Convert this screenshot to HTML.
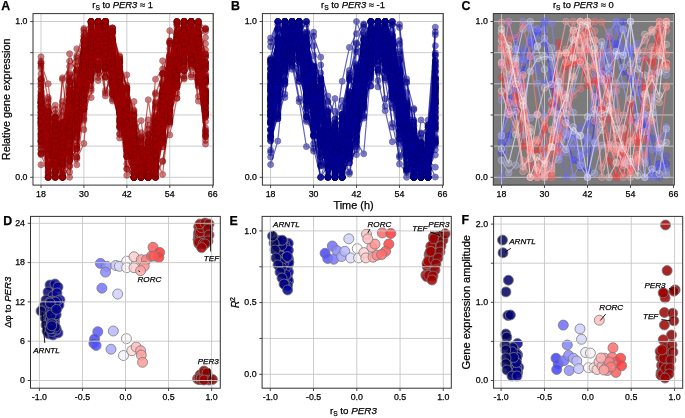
<!DOCTYPE html><html><head><meta charset="utf-8"><style>html,body{margin:0;padding:0;background:#fff}svg{display:block;will-change:transform}text{font-family:"Liberation Sans", sans-serif;fill:#000;stroke:#000;stroke-width:0.25px}</style></head><body>
<svg width="685" height="418" viewBox="0 0 685 418">
<rect x="33" y="13.6" width="180.3" height="171.5" fill="white"/>
<line x1="41.00" y1="13.6" x2="41.00" y2="185.1" stroke="#c6c6c6" stroke-width="0.9"/>
<line x1="83.92" y1="13.6" x2="83.92" y2="185.1" stroke="#c6c6c6" stroke-width="0.9"/>
<line x1="126.85" y1="13.6" x2="126.85" y2="185.1" stroke="#c6c6c6" stroke-width="0.9"/>
<line x1="169.77" y1="13.6" x2="169.77" y2="185.1" stroke="#c6c6c6" stroke-width="0.9"/>
<line x1="212.70" y1="13.6" x2="212.70" y2="185.1" stroke="#c6c6c6" stroke-width="0.9"/>
<line x1="33" y1="177.30" x2="213.3" y2="177.30" stroke="#c6c6c6" stroke-width="0.9"/>
<line x1="33" y1="146.14" x2="213.3" y2="146.14" stroke="#c6c6c6" stroke-width="0.9"/>
<line x1="33" y1="114.98" x2="213.3" y2="114.98" stroke="#c6c6c6" stroke-width="0.9"/>
<line x1="33" y1="83.82" x2="213.3" y2="83.82" stroke="#c6c6c6" stroke-width="0.9"/>
<line x1="33" y1="52.66" x2="213.3" y2="52.66" stroke="#c6c6c6" stroke-width="0.9"/>
<line x1="33" y1="21.50" x2="213.3" y2="21.50" stroke="#c6c6c6" stroke-width="0.9"/>
<polyline points="41.0,68.3 48.2,147.0 55.3,177.3 62.5,145.8 69.6,132.7 76.8,121.1 83.9,73.0 91.1,49.4 98.2,36.1 105.4,41.7 112.5,51.8 119.7,98.5 126.8,122.9 134.0,155.4 141.2,156.6 148.3,165.2 155.5,154.6 162.6,134.2 169.8,94.3 176.9,61.4 184.1,46.8 191.2,21.5 198.4,38.6 205.5,117.3" fill="none" stroke="#9e0000" stroke-width="1.2" opacity="0.6" marker-start="url(#m0)" marker-mid="url(#m0)" marker-end="url(#m0)"/>
<polyline points="41.0,138.4 48.2,148.4 55.3,158.6 62.5,166.5 69.6,94.1 76.8,89.1 83.9,74.6 91.1,36.1 98.2,25.0 105.4,35.7 112.5,86.7 119.7,126.7 126.8,141.0 134.0,177.3 141.2,173.3 148.3,153.0 155.5,165.3 162.6,96.1 169.8,42.8 176.9,41.0 184.1,38.9 191.2,21.5 198.4,55.8 205.5,69.4" fill="none" stroke="#9e0000" stroke-width="1.2" opacity="0.6" marker-start="url(#m0)" marker-mid="url(#m0)" marker-end="url(#m0)"/>
<polyline points="41.0,125.1 48.2,130.5 55.3,154.2 62.5,165.4 69.6,149.8 76.8,89.0 83.9,84.3 91.1,69.9 98.2,49.9 105.4,59.7 112.5,65.3 119.7,103.3 126.8,132.6 134.0,165.1 141.2,161.3 148.3,177.3 155.5,138.4 162.6,100.8 169.8,110.5 176.9,98.1 184.1,45.2 191.2,21.5 198.4,82.2 205.5,135.2" fill="none" stroke="#9e0000" stroke-width="1.2" opacity="0.6" marker-start="url(#m0)" marker-mid="url(#m0)" marker-end="url(#m0)"/>
<polyline points="41.0,149.4 48.2,111.6 55.3,174.3 62.5,143.7 69.6,133.0 76.8,83.5 83.9,36.8 91.1,33.8 98.2,36.2 105.4,36.9 112.5,58.2 119.7,94.4 126.8,107.5 134.0,158.2 141.2,177.3 148.3,158.3 155.5,130.6 162.6,92.6 169.8,60.2 176.9,32.0 184.1,51.7 191.2,21.5 198.4,68.5 205.5,111.5" fill="none" stroke="#9e0000" stroke-width="1.2" opacity="0.6" marker-start="url(#m0)" marker-mid="url(#m0)" marker-end="url(#m0)"/>
<polyline points="41.0,131.1 48.2,177.3 55.3,126.0 62.5,158.8 69.6,77.6 76.8,72.1 83.9,55.1 91.1,23.3 98.2,22.3 105.4,28.1 112.5,75.7 119.7,101.8 126.8,135.5 134.0,164.8 141.2,167.6 148.3,163.3 155.5,117.6 162.6,98.2 169.8,56.5 176.9,36.4 184.1,21.5 191.2,41.6 198.4,36.4 205.5,93.8" fill="none" stroke="#9e0000" stroke-width="1.2" opacity="0.6" marker-start="url(#m0)" marker-mid="url(#m0)" marker-end="url(#m0)"/>
<polyline points="41.0,132.5 48.2,152.5 55.3,155.5 62.5,149.3 69.6,124.1 76.8,87.2 83.9,90.2 91.1,56.6 98.2,33.2 105.4,63.4 112.5,67.2 119.7,101.2 126.8,120.0 134.0,171.5 141.2,177.3 148.3,156.1 155.5,175.0 162.6,60.8 169.8,83.5 176.9,57.6 184.1,21.5 191.2,39.3 198.4,85.4 205.5,93.4" fill="none" stroke="#9e0000" stroke-width="1.2" opacity="0.6" marker-start="url(#m0)" marker-mid="url(#m0)" marker-end="url(#m0)"/>
<polyline points="41.0,105.9 48.2,122.6 55.3,117.5 62.5,155.6 69.6,131.2 76.8,136.9 83.9,106.6 91.1,67.9 98.2,41.0 105.4,51.5 112.5,40.1 119.7,87.5 126.8,74.9 134.0,129.3 141.2,162.6 148.3,177.3 155.5,163.5 162.6,139.6 169.8,120.2 176.9,85.1 184.1,47.7 191.2,39.3 198.4,21.5 205.5,28.2" fill="none" stroke="#9e0000" stroke-width="1.2" opacity="0.6" marker-start="url(#m0)" marker-mid="url(#m0)" marker-end="url(#m0)"/>
<polyline points="41.0,120.9 48.2,145.5 55.3,130.7 62.5,123.7 69.6,122.1 76.8,83.1 83.9,54.2 91.1,21.5 98.2,26.2 105.4,66.3 112.5,69.1 119.7,96.4 126.8,106.4 134.0,177.3 141.2,165.9 148.3,128.9 155.5,141.3 162.6,108.2 169.8,55.1 176.9,27.5 184.1,43.9 191.2,36.6 198.4,65.1 205.5,75.6" fill="none" stroke="#9e0000" stroke-width="1.2" opacity="0.6" marker-start="url(#m0)" marker-mid="url(#m0)" marker-end="url(#m0)"/>
<polyline points="41.0,105.5 48.2,177.3 55.3,143.5 62.5,176.4 69.6,161.5 76.8,148.6 83.9,84.6 91.1,56.8 98.2,58.6 105.4,29.7 112.5,51.4 119.7,79.5 126.8,108.6 134.0,143.5 141.2,154.5 148.3,167.1 155.5,168.2 162.6,126.3 169.8,118.1 176.9,73.4 184.1,47.2 191.2,21.5 198.4,55.5 205.5,49.8" fill="none" stroke="#9e0000" stroke-width="1.2" opacity="0.6" marker-start="url(#m0)" marker-mid="url(#m0)" marker-end="url(#m0)"/>
<polyline points="41.0,129.2 48.2,129.3 55.3,144.1 62.5,131.6 69.6,95.0 76.8,66.3 83.9,45.4 91.1,21.5 98.2,49.0 105.4,35.9 112.5,71.1 119.7,138.0 126.8,121.5 134.0,129.1 141.2,177.3 148.3,150.1 155.5,101.9 162.6,110.8 169.8,86.8 176.9,55.4 184.1,39.5 191.2,52.1 198.4,60.8 205.5,121.6" fill="none" stroke="#9e0000" stroke-width="1.2" opacity="0.6" marker-start="url(#m0)" marker-mid="url(#m0)" marker-end="url(#m0)"/>
<polyline points="41.0,63.2 48.2,83.8 55.3,145.9 62.5,155.4 69.6,93.3 76.8,97.3 83.9,88.7 91.1,88.6 98.2,43.1 105.4,21.5 112.5,48.3 119.7,69.0 126.8,108.5 134.0,160.9 141.2,177.3 148.3,175.2 155.5,151.5 162.6,124.2 169.8,90.9 176.9,76.2 184.1,39.7 191.2,48.1 198.4,61.0 205.5,91.8" fill="none" stroke="#9e0000" stroke-width="1.2" opacity="0.6" marker-start="url(#m0)" marker-mid="url(#m0)" marker-end="url(#m0)"/>
<polyline points="41.0,135.4 48.2,106.6 55.3,117.1 62.5,128.1 69.6,97.5 76.8,91.5 83.9,91.1 91.1,33.3 98.2,41.4 105.4,68.0 112.5,61.0 119.7,100.4 126.8,143.1 134.0,145.2 141.2,177.3 148.3,146.4 155.5,145.5 162.6,92.8 169.8,84.4 176.9,23.6 184.1,31.5 191.2,21.5 198.4,75.4 205.5,102.5" fill="none" stroke="#9e0000" stroke-width="1.2" opacity="0.6" marker-start="url(#m0)" marker-mid="url(#m0)" marker-end="url(#m0)"/>
<polyline points="41.0,114.6 48.2,177.3 55.3,151.8 62.5,144.8 69.6,100.0 76.8,82.4 83.9,39.7 91.1,48.8 98.2,21.5 105.4,58.5 112.5,84.5 119.7,113.0 126.8,150.4 134.0,145.4 141.2,155.3 148.3,142.3 155.5,138.5 162.6,102.3 169.8,82.0 176.9,65.0 184.1,30.3 191.2,38.3 198.4,79.1 205.5,108.6" fill="none" stroke="#9e0000" stroke-width="1.2" opacity="0.6" marker-start="url(#m0)" marker-mid="url(#m0)" marker-end="url(#m0)"/>
<polyline points="41.0,91.0 48.2,119.2 55.3,177.3 62.5,162.2 69.6,98.9 76.8,105.0 83.9,96.5 91.1,78.0 98.2,40.0 105.4,62.3 112.5,56.5 119.7,109.7 126.8,114.6 134.0,171.5 141.2,164.4 148.3,143.8 155.5,157.3 162.6,117.2 169.8,105.1 176.9,77.7 184.1,64.7 191.2,21.5 198.4,46.8 205.5,56.9" fill="none" stroke="#9e0000" stroke-width="1.2" opacity="0.6" marker-start="url(#m0)" marker-mid="url(#m0)" marker-end="url(#m0)"/>
<polyline points="41.0,107.9 48.2,164.3 55.3,146.1 62.5,132.7 69.6,81.9 76.8,92.0 83.9,59.4 91.1,21.5 98.2,36.5 105.4,50.2 112.5,60.1 119.7,100.4 126.8,132.9 134.0,151.3 141.2,177.3 148.3,142.7 155.5,106.4 162.6,85.3 169.8,84.5 176.9,36.5 184.1,45.3 191.2,44.1 198.4,61.6 205.5,130.4" fill="none" stroke="#9e0000" stroke-width="1.2" opacity="0.6" marker-start="url(#m0)" marker-mid="url(#m0)" marker-end="url(#m0)"/>
<polyline points="41.0,118.6 48.2,112.7 55.3,105.3 62.5,177.3 69.6,166.4 76.8,145.8 83.9,101.4 91.1,76.1 98.2,53.2 105.4,59.6 112.5,51.3 119.7,59.2 126.8,121.8 134.0,135.8 141.2,151.8 148.3,166.0 155.5,161.6 162.6,118.1 169.8,97.1 176.9,73.7 184.1,71.1 191.2,21.5 198.4,48.4 205.5,83.1" fill="none" stroke="#9e0000" stroke-width="1.2" opacity="0.6" marker-start="url(#m0)" marker-mid="url(#m0)" marker-end="url(#m0)"/>
<polyline points="41.0,141.8 48.2,148.8 55.3,159.1 62.5,115.5 69.6,114.8 76.8,87.4 83.9,28.5 91.1,41.4 98.2,21.5 105.4,54.8 112.5,95.9 119.7,122.0 126.8,145.9 134.0,170.0 141.2,177.3 148.3,162.0 155.5,145.0 162.6,89.9 169.8,56.3 176.9,32.0 184.1,64.3 191.2,39.7 198.4,76.9 205.5,140.5" fill="none" stroke="#9e0000" stroke-width="1.2" opacity="0.6" marker-start="url(#m0)" marker-mid="url(#m0)" marker-end="url(#m0)"/>
<polyline points="41.0,152.9 48.2,155.3 55.3,147.9 62.5,177.3 69.6,122.5 76.8,98.2 83.9,72.5 91.1,55.5 98.2,21.5 105.4,77.0 112.5,92.5 119.7,125.8 126.8,130.6 134.0,162.0 141.2,160.7 148.3,156.8 155.5,153.1 162.6,131.9 169.8,103.4 176.9,35.2 184.1,39.9 191.2,48.4 198.4,79.3 205.5,131.2" fill="none" stroke="#9e0000" stroke-width="1.2" opacity="0.6" marker-start="url(#m0)" marker-mid="url(#m0)" marker-end="url(#m0)"/>
<polyline points="41.0,122.9 48.2,170.2 55.3,148.9 62.5,136.7 69.6,139.3 76.8,108.8 83.9,41.7 91.1,36.2 98.2,31.0 105.4,49.5 112.5,63.4 119.7,90.5 126.8,100.7 134.0,160.1 141.2,137.9 148.3,177.3 155.5,148.8 162.6,98.6 169.8,79.9 176.9,58.7 184.1,30.5 191.2,21.5 198.4,72.3 205.5,73.6" fill="none" stroke="#9e0000" stroke-width="1.2" opacity="0.6" marker-start="url(#m0)" marker-mid="url(#m0)" marker-end="url(#m0)"/>
<polyline points="41.0,95.1 48.2,120.5 55.3,130.2 62.5,149.0 69.6,117.4 76.8,106.5 83.9,69.4 91.1,58.0 98.2,28.6 105.4,21.5 112.5,48.8 119.7,66.7 126.8,106.6 134.0,119.3 141.2,156.9 148.3,177.3 155.5,132.5 162.6,113.4 169.8,92.6 176.9,41.1 184.1,28.6 191.2,23.5 198.4,48.0 205.5,99.1" fill="none" stroke="#9e0000" stroke-width="1.2" opacity="0.6" marker-start="url(#m0)" marker-mid="url(#m0)" marker-end="url(#m0)"/>
<polyline points="41.0,108.4 48.2,127.1 55.3,172.2 62.5,143.6 69.6,132.4 76.8,84.2 83.9,36.0 91.1,74.4 98.2,29.6 105.4,90.5 112.5,73.6 119.7,119.5 126.8,107.5 134.0,155.5 141.2,177.3 148.3,167.5 155.5,147.7 162.6,107.4 169.8,81.0 176.9,45.3 184.1,21.5 191.2,37.2 198.4,82.7 205.5,95.7" fill="none" stroke="#9e0000" stroke-width="1.2" opacity="0.6" marker-start="url(#m0)" marker-mid="url(#m0)" marker-end="url(#m0)"/>
<polyline points="41.0,93.7 48.2,140.0 55.3,138.2 62.5,138.7 69.6,73.1 76.8,78.6 83.9,87.2 91.1,33.3 98.2,42.2 105.4,47.5 112.5,27.9 119.7,61.4 126.8,121.7 134.0,111.7 141.2,171.9 148.3,177.3 155.5,133.8 162.6,111.5 169.8,82.0 176.9,47.8 184.1,21.5 191.2,22.0 198.4,35.2 205.5,43.7" fill="none" stroke="#9e0000" stroke-width="1.2" opacity="0.6" marker-start="url(#m0)" marker-mid="url(#m0)" marker-end="url(#m0)"/>
<polyline points="41.0,154.1 48.2,145.3 55.3,142.0 62.5,140.0 69.6,79.0 76.8,92.1 83.9,67.6 91.1,24.7 98.2,59.0 105.4,93.2 112.5,74.9 119.7,111.9 126.8,142.0 134.0,177.3 141.2,166.4 148.3,166.2 155.5,94.5 162.6,73.8 169.8,43.5 176.9,65.8 184.1,21.5 191.2,26.4 198.4,59.5 205.5,98.1" fill="none" stroke="#9e0000" stroke-width="1.2" opacity="0.6" marker-start="url(#m0)" marker-mid="url(#m0)" marker-end="url(#m0)"/>
<polyline points="41.0,105.8 48.2,146.5 55.3,135.1 62.5,148.6 69.6,89.8 76.8,145.7 83.9,99.8 91.1,64.4 98.2,71.0 105.4,49.0 112.5,31.8 119.7,62.1 126.8,115.0 134.0,121.3 141.2,163.5 148.3,177.3 155.5,150.9 162.6,128.1 169.8,79.6 176.9,81.5 184.1,21.5 191.2,38.7 198.4,31.0 205.5,100.8" fill="none" stroke="#9e0000" stroke-width="1.2" opacity="0.6" marker-start="url(#m0)" marker-mid="url(#m0)" marker-end="url(#m0)"/>
<polyline points="41.0,106.6 48.2,147.5 55.3,122.5 62.5,123.1 69.6,114.5 76.8,92.8 83.9,80.6 91.1,44.6 98.2,29.9 105.4,44.3 112.5,101.0 119.7,93.0 126.8,145.6 134.0,177.3 141.2,173.0 148.3,159.7 155.5,126.0 162.6,110.7 169.8,89.6 176.9,55.0 184.1,21.5 191.2,62.1 198.4,68.0 205.5,77.4" fill="none" stroke="#9e0000" stroke-width="1.2" opacity="0.6" marker-start="url(#m0)" marker-mid="url(#m0)" marker-end="url(#m0)"/>
<polyline points="41.0,102.7 48.2,119.3 55.3,177.3 62.5,122.7 69.6,140.6 76.8,99.9 83.9,96.4 91.1,51.3 98.2,73.5 105.4,57.7 112.5,65.3 119.7,92.9 126.8,146.2 134.0,146.7 141.2,149.8 148.3,153.7 155.5,155.8 162.6,127.2 169.8,103.6 176.9,50.0 184.1,21.5 191.2,47.0 198.4,77.3 205.5,95.9" fill="none" stroke="#9e0000" stroke-width="1.2" opacity="0.6" marker-start="url(#m0)" marker-mid="url(#m0)" marker-end="url(#m0)"/>
<polyline points="41.0,149.2 48.2,113.0 55.3,140.4 62.5,126.9 69.6,61.2 76.8,70.0 83.9,32.8 91.1,21.5 98.2,38.7 105.4,58.5 112.5,89.5 119.7,122.9 126.8,113.9 134.0,161.5 141.2,177.3 148.3,146.8 155.5,119.9 162.6,73.5 169.8,61.8 176.9,24.5 184.1,23.3 191.2,23.7 198.4,36.3 205.5,81.5" fill="none" stroke="#9e0000" stroke-width="1.2" opacity="0.6" marker-start="url(#m0)" marker-mid="url(#m0)" marker-end="url(#m0)"/>
<polyline points="41.0,137.2 48.2,143.7 55.3,120.6 62.5,140.2 69.6,136.1 76.8,104.9 83.9,88.7 91.1,23.3 98.2,42.4 105.4,34.1 112.5,33.2 119.7,99.8 126.8,102.4 134.0,166.8 141.2,168.3 148.3,177.3 155.5,156.9 162.6,122.5 169.8,90.2 176.9,72.6 184.1,22.5 191.2,21.5 198.4,27.2 205.5,65.1" fill="none" stroke="#9e0000" stroke-width="1.2" opacity="0.6" marker-start="url(#m0)" marker-mid="url(#m0)" marker-end="url(#m0)"/>
<polyline points="41.0,80.1 48.2,142.3 55.3,146.7 62.5,142.9 69.6,130.3 76.8,109.1 83.9,45.6 91.1,52.0 98.2,21.5 105.4,25.9 112.5,42.0 119.7,90.5 126.8,133.4 134.0,101.6 141.2,148.3 148.3,177.3 155.5,148.8 162.6,104.5 169.8,83.3 176.9,32.6 184.1,30.9 191.2,22.3 198.4,32.7 205.5,29.2" fill="none" stroke="#9e0000" stroke-width="1.2" opacity="0.6" marker-start="url(#m0)" marker-mid="url(#m0)" marker-end="url(#m0)"/>
<polyline points="41.0,110.4 48.2,142.5 55.3,145.2 62.5,124.9 69.6,130.7 76.8,116.6 83.9,56.9 91.1,43.5 98.2,23.1 105.4,21.5 112.5,47.7 119.7,62.3 126.8,142.0 134.0,148.5 141.2,177.3 148.3,138.1 155.5,92.8 162.6,94.5 169.8,30.7 176.9,36.9 184.1,38.9 191.2,36.6 198.4,64.5 205.5,79.0" fill="none" stroke="#9e0000" stroke-width="1.2" opacity="0.6" marker-start="url(#m0)" marker-mid="url(#m0)" marker-end="url(#m0)"/>
<polyline points="41.0,78.7 48.2,139.6 55.3,163.4 62.5,135.0 69.6,127.3 76.8,157.1 83.9,103.7 91.1,74.0 98.2,69.0 105.4,43.7 112.5,64.7 119.7,96.7 126.8,141.6 134.0,164.3 141.2,177.3 148.3,162.6 155.5,172.9 162.6,160.9 169.8,124.2 176.9,85.8 184.1,37.9 191.2,21.5 198.4,68.3 205.5,57.2" fill="none" stroke="#9e0000" stroke-width="1.2" opacity="0.6" marker-start="url(#m0)" marker-mid="url(#m0)" marker-end="url(#m0)"/>
<polyline points="41.0,103.1 48.2,118.0 55.3,149.5 62.5,177.3 69.6,117.5 76.8,131.9 83.9,89.6 91.1,79.4 98.2,63.3 105.4,21.5 112.5,66.1 119.7,84.1 126.8,115.2 134.0,138.6 141.2,168.1 148.3,165.1 155.5,167.0 162.6,142.9 169.8,104.2 176.9,70.2 184.1,50.3 191.2,55.5 198.4,45.1 205.5,78.8" fill="none" stroke="#9e0000" stroke-width="1.2" opacity="0.6" marker-start="url(#m0)" marker-mid="url(#m0)" marker-end="url(#m0)"/>
<polyline points="41.0,118.6 48.2,136.0 55.3,123.2 62.5,141.8 69.6,129.1 76.8,93.3 83.9,88.6 91.1,36.8 98.2,48.2 105.4,42.5 112.5,90.7 119.7,88.5 126.8,130.7 134.0,177.3 141.2,162.6 148.3,168.7 155.5,107.9 162.6,94.9 169.8,80.9 176.9,40.8 184.1,33.6 191.2,21.5 198.4,55.2 205.5,100.2" fill="none" stroke="#9e0000" stroke-width="1.2" opacity="0.6" marker-start="url(#m0)" marker-mid="url(#m0)" marker-end="url(#m0)"/>
<polyline points="41.0,119.1 48.2,175.4 55.3,157.5 62.5,147.4 69.6,154.1 76.8,122.3 83.9,100.9 91.1,41.2 98.2,21.5 105.4,76.8 112.5,74.3 119.7,108.9 126.8,169.1 134.0,177.3 141.2,168.6 148.3,171.0 155.5,136.6 162.6,146.5 169.8,105.1 176.9,61.1 184.1,46.2 191.2,54.9 198.4,81.6 205.5,102.5" fill="none" stroke="#9e0000" stroke-width="1.2" opacity="0.6" marker-start="url(#m0)" marker-mid="url(#m0)" marker-end="url(#m0)"/>
<polyline points="41.0,164.8 48.2,166.3 55.3,172.7 62.5,152.1 69.6,126.8 76.8,96.4 83.9,84.3 91.1,63.1 98.2,21.5 105.4,71.7 112.5,83.9 119.7,117.8 126.8,145.2 134.0,177.3 141.2,164.2 148.3,161.8 155.5,129.4 162.6,86.1 169.8,82.1 176.9,55.3 184.1,70.5 191.2,63.8 198.4,66.0 205.5,116.9" fill="none" stroke="#9e0000" stroke-width="1.2" opacity="0.6" marker-start="url(#m0)" marker-mid="url(#m0)" marker-end="url(#m0)"/>
<polyline points="41.0,66.1 48.2,149.4 55.3,175.1 62.5,121.9 69.6,150.8 76.8,125.7 83.9,72.0 91.1,38.0 98.2,21.5 105.4,31.7 112.5,65.8 119.7,88.1 126.8,150.6 134.0,167.6 141.2,168.1 148.3,173.2 155.5,177.3 162.6,141.1 169.8,110.7 176.9,21.8 184.1,59.5 191.2,36.8 198.4,23.3 205.5,104.7" fill="none" stroke="#9e0000" stroke-width="1.2" opacity="0.6" marker-start="url(#m0)" marker-mid="url(#m0)" marker-end="url(#m0)"/>
<polyline points="41.0,123.1 48.2,166.3 55.3,162.1 62.5,177.3 69.6,87.4 76.8,101.2 83.9,69.1 91.1,30.8 98.2,21.5 105.4,25.9 112.5,41.0 119.7,92.7 126.8,154.0 134.0,153.8 141.2,168.1 148.3,162.0 155.5,151.0 162.6,124.5 169.8,67.3 176.9,38.0 184.1,54.5 191.2,33.3 198.4,62.1 205.5,97.8" fill="none" stroke="#9e0000" stroke-width="1.2" opacity="0.6" marker-start="url(#m0)" marker-mid="url(#m0)" marker-end="url(#m0)"/>
<polyline points="41.0,115.5 48.2,163.7 55.3,137.2 62.5,127.5 69.6,125.2 76.8,115.4 83.9,70.9 91.1,51.0 98.2,30.0 105.4,33.9 112.5,56.9 119.7,81.1 126.8,124.7 134.0,168.1 141.2,163.1 148.3,177.3 155.5,116.7 162.6,106.1 169.8,81.1 176.9,75.5 184.1,21.5 191.2,66.0 198.4,69.3 205.5,89.0" fill="none" stroke="#9e0000" stroke-width="1.2" opacity="0.6" marker-start="url(#m0)" marker-mid="url(#m0)" marker-end="url(#m0)"/>
<polyline points="41.0,140.5 48.2,128.7 55.3,163.1 62.5,135.1 69.6,120.1 76.8,110.4 83.9,96.0 91.1,61.8 98.2,21.5 105.4,50.8 112.5,44.7 119.7,73.3 126.8,145.7 134.0,152.2 141.2,177.3 148.3,142.6 155.5,142.6 162.6,132.4 169.8,82.1 176.9,71.4 184.1,40.6 191.2,33.5 198.4,50.6 205.5,80.9" fill="none" stroke="#9e0000" stroke-width="1.2" opacity="0.6" marker-start="url(#m0)" marker-mid="url(#m0)" marker-end="url(#m0)"/>
<polyline points="41.0,117.5 48.2,131.9 55.3,117.7 62.5,137.2 69.6,100.5 76.8,97.2 83.9,92.3 91.1,40.4 98.2,21.5 105.4,42.5 112.5,74.8 119.7,67.1 126.8,105.4 134.0,125.3 141.2,177.3 148.3,140.5 155.5,167.8 162.6,121.5 169.8,71.8 176.9,79.2 184.1,62.4 191.2,40.9 198.4,25.2 205.5,54.0" fill="none" stroke="#9e0000" stroke-width="1.2" opacity="0.6" marker-start="url(#m0)" marker-mid="url(#m0)" marker-end="url(#m0)"/>
<polyline points="41.0,117.6 48.2,177.3 55.3,154.7 62.5,144.3 69.6,94.3 76.8,100.1 83.9,55.6 91.1,52.4 98.2,45.2 105.4,47.8 112.5,55.9 119.7,104.1 126.8,156.9 134.0,164.2 141.2,170.4 148.3,167.3 155.5,156.4 162.6,109.1 169.8,79.9 176.9,48.9 184.1,30.8 191.2,21.5 198.4,26.2 205.5,55.6" fill="none" stroke="#9e0000" stroke-width="1.2" opacity="0.6" marker-start="url(#m0)" marker-mid="url(#m0)" marker-end="url(#m0)"/>
<polyline points="41.0,91.9 48.2,128.2 55.3,122.5 62.5,132.7 69.6,115.5 76.8,119.4 83.9,68.8 91.1,64.9 98.2,51.0 105.4,21.5 112.5,50.4 119.7,80.2 126.8,107.9 134.0,141.6 141.2,177.3 148.3,161.2 155.5,144.9 162.6,120.9 169.8,79.0 176.9,51.5 184.1,37.0 191.2,30.5 198.4,37.7 205.5,80.9" fill="none" stroke="#9e0000" stroke-width="1.2" opacity="0.6" marker-start="url(#m0)" marker-mid="url(#m0)" marker-end="url(#m0)"/>
<polyline points="41.0,103.6 48.2,145.3 55.3,143.5 62.5,127.8 69.6,93.8 76.8,94.7 83.9,59.8 91.1,44.8 98.2,36.5 105.4,47.3 112.5,33.2 119.7,109.8 126.8,113.7 134.0,144.7 141.2,161.5 148.3,177.3 155.5,154.1 162.6,93.2 169.8,84.4 176.9,34.2 184.1,21.5 191.2,23.1 198.4,36.8 205.5,91.7" fill="none" stroke="#9e0000" stroke-width="1.2" opacity="0.6" marker-start="url(#m0)" marker-mid="url(#m0)" marker-end="url(#m0)"/>
<polyline points="41.0,79.2 48.2,148.6 55.3,117.3 62.5,177.3 69.6,129.3 76.8,99.0 83.9,85.4 91.1,51.4 98.2,44.4 105.4,21.5 112.5,99.1 119.7,96.3 126.8,144.2 134.0,142.2 141.2,143.2 148.3,145.7 155.5,137.8 162.6,115.7 169.8,96.9 176.9,37.4 184.1,26.7 191.2,44.7 198.4,64.4 205.5,78.2" fill="none" stroke="#9e0000" stroke-width="1.2" opacity="0.6" marker-start="url(#m0)" marker-mid="url(#m0)" marker-end="url(#m0)"/>
<polyline points="41.0,95.7 48.2,119.5 55.3,160.9 62.5,135.8 69.6,151.9 76.8,130.6 83.9,100.2 91.1,80.8 98.2,67.7 105.4,21.5 112.5,58.9 119.7,97.4 126.8,100.0 134.0,142.1 141.2,177.3 148.3,166.4 155.5,171.0 162.6,133.8 169.8,75.2 176.9,53.4 184.1,51.2 191.2,29.3 198.4,33.2 205.5,93.0" fill="none" stroke="#9e0000" stroke-width="1.2" opacity="0.6" marker-start="url(#m0)" marker-mid="url(#m0)" marker-end="url(#m0)"/>
<polyline points="41.0,113.1 48.2,97.4 55.3,156.2 62.5,177.3 69.6,154.6 76.8,148.5 83.9,109.0 91.1,65.9 98.2,24.0 105.4,21.5 112.5,29.4 119.7,64.2 126.8,89.3 134.0,113.9 141.2,161.1 148.3,167.5 155.5,157.8 162.6,174.4 169.8,111.3 176.9,68.2 184.1,35.4 191.2,38.9 198.4,23.6 205.5,31.4" fill="none" stroke="#9e0000" stroke-width="1.2" opacity="0.6" marker-start="url(#m0)" marker-mid="url(#m0)" marker-end="url(#m0)"/>
<polyline points="41.0,134.3 48.2,120.9 55.3,155.9 62.5,164.4 69.6,177.3 76.8,118.7 83.9,95.0 91.1,97.6 98.2,33.7 105.4,21.5 112.5,56.2 119.7,58.9 126.8,132.0 134.0,143.2 141.2,165.1 148.3,164.1 155.5,162.7 162.6,142.0 169.8,103.4 176.9,87.1 184.1,26.6 191.2,41.6 198.4,28.7 205.5,62.5" fill="none" stroke="#9e0000" stroke-width="1.2" opacity="0.6" marker-start="url(#m0)" marker-mid="url(#m0)" marker-end="url(#m0)"/>
<polyline points="41.0,129.2 48.2,168.9 55.3,177.3 62.5,79.6 69.6,66.6 76.8,55.8 83.9,30.0 91.1,36.0 98.2,24.8 105.4,48.8 112.5,58.8 119.7,100.7 126.8,142.1 134.0,130.4 141.2,149.0 148.3,134.7 155.5,125.0 162.6,73.5 169.8,70.2 176.9,21.5 184.1,37.9 191.2,34.1 198.4,67.5 205.5,102.3" fill="none" stroke="#9e0000" stroke-width="1.2" opacity="0.6" marker-start="url(#m0)" marker-mid="url(#m0)" marker-end="url(#m0)"/>
<polyline points="41.0,82.6 48.2,140.7 55.3,143.7 62.5,124.5 69.6,132.4 76.8,113.4 83.9,87.8 91.1,22.3 98.2,55.0 105.4,36.4 112.5,40.1 119.7,93.4 126.8,115.3 134.0,151.6 141.2,177.3 148.3,160.9 155.5,138.4 162.6,124.2 169.8,84.2 176.9,47.6 184.1,21.5 191.2,51.7 198.4,38.1 205.5,68.7" fill="none" stroke="#9e0000" stroke-width="1.2" opacity="0.6" marker-start="url(#m0)" marker-mid="url(#m0)" marker-end="url(#m0)"/>
<polyline points="41.0,96.2 48.2,129.0 55.3,124.2 62.5,130.3 69.6,128.7 76.8,141.1 83.9,109.3 91.1,52.8 98.2,21.5 105.4,43.1 112.5,54.0 119.7,61.8 126.8,87.5 134.0,115.1 141.2,149.4 148.3,177.3 155.5,126.6 162.6,131.8 169.8,80.8 176.9,93.4 184.1,39.9 191.2,40.6 198.4,52.6 205.5,37.6" fill="none" stroke="#9e0000" stroke-width="1.2" opacity="0.6" marker-start="url(#m0)" marker-mid="url(#m0)" marker-end="url(#m0)"/>
<polyline points="41.0,144.9 48.2,147.7 55.3,109.5 62.5,149.2 69.6,116.3 76.8,101.9 83.9,68.3 91.1,48.6 98.2,47.8 105.4,28.5 112.5,53.5 119.7,87.0 126.8,102.8 134.0,166.6 141.2,177.3 148.3,159.4 155.5,131.2 162.6,104.2 169.8,67.5 176.9,80.9 184.1,21.9 191.2,21.5 198.4,33.2 205.5,113.8" fill="none" stroke="#9e0000" stroke-width="1.2" opacity="0.6" marker-start="url(#m0)" marker-mid="url(#m0)" marker-end="url(#m0)"/>
<polyline points="41.0,98.6 48.2,149.7 55.3,177.3 62.5,127.8 69.6,159.6 76.8,105.0 83.9,79.6 91.1,47.7 98.2,42.1 105.4,21.5 112.5,92.1 119.7,101.7 126.8,115.6 134.0,167.4 141.2,151.0 148.3,167.4 155.5,168.2 162.6,107.0 169.8,89.2 176.9,45.6 184.1,44.2 191.2,41.1 198.4,35.9 205.5,90.6" fill="none" stroke="#9e0000" stroke-width="1.2" opacity="0.6" marker-start="url(#m0)" marker-mid="url(#m0)" marker-end="url(#m0)"/>
<polyline points="41.0,86.4 48.2,126.1 55.3,159.1 62.5,176.1 69.6,134.2 76.8,128.2 83.9,118.3 91.1,90.7 98.2,23.5 105.4,26.6 112.5,49.6 119.7,90.4 126.8,102.0 134.0,126.6 141.2,158.6 148.3,170.3 155.5,177.3 162.6,140.5 169.8,134.9 176.9,98.3 184.1,70.9 191.2,58.0 198.4,21.5 205.5,90.9" fill="none" stroke="#9e0000" stroke-width="1.2" opacity="0.6" marker-start="url(#m0)" marker-mid="url(#m0)" marker-end="url(#m0)"/>
<polyline points="41.0,141.9 48.2,140.9 55.3,171.4 62.5,101.4 69.6,109.9 76.8,95.6 83.9,53.4 91.1,34.3 98.2,32.2 105.4,95.9 112.5,62.4 119.7,127.5 126.8,134.7 134.0,169.3 141.2,177.3 148.3,154.5 155.5,79.3 162.6,69.2 169.8,66.6 176.9,38.5 184.1,21.5 191.2,42.4 198.4,76.1 205.5,113.0" fill="none" stroke="#9e0000" stroke-width="1.2" opacity="0.6" marker-start="url(#m0)" marker-mid="url(#m0)" marker-end="url(#m0)"/>
<polyline points="41.0,101.7 48.2,146.2 55.3,136.6 62.5,158.2 69.6,107.4 76.8,57.8 83.9,58.2 91.1,34.6 98.2,34.8 105.4,62.3 112.5,81.4 119.7,92.9 126.8,137.9 134.0,121.2 141.2,177.3 148.3,173.9 155.5,128.6 162.6,108.8 169.8,41.3 176.9,43.7 184.1,21.5 191.2,56.0 198.4,48.5 205.5,114.2" fill="none" stroke="#9e0000" stroke-width="1.2" opacity="0.6" marker-start="url(#m0)" marker-mid="url(#m0)" marker-end="url(#m0)"/>
<polyline points="41.0,107.1 48.2,173.1 55.3,171.0 62.5,142.3 69.6,146.3 76.8,131.7 83.9,129.6 91.1,40.3 98.2,47.9 105.4,47.1 112.5,43.0 119.7,133.6 126.8,134.0 134.0,156.0 141.2,173.8 148.3,177.3 155.5,137.2 162.6,134.9 169.8,85.6 176.9,55.5 184.1,70.0 191.2,53.8 198.4,21.5 205.5,115.2" fill="none" stroke="#9e0000" stroke-width="1.2" opacity="0.6" marker-start="url(#m0)" marker-mid="url(#m0)" marker-end="url(#m0)"/>
<polyline points="41.0,99.2 48.2,143.5 55.3,118.2 62.5,152.0 69.6,113.0 76.8,92.3 83.9,40.6 91.1,50.2 98.2,49.0 105.4,33.2 112.5,56.8 119.7,77.1 126.8,92.9 134.0,137.9 141.2,140.2 148.3,177.3 155.5,123.3 162.6,110.6 169.8,86.1 176.9,63.0 184.1,21.5 191.2,42.9 198.4,31.7 205.5,54.0" fill="none" stroke="#9e0000" stroke-width="1.2" opacity="0.6" marker-start="url(#m0)" marker-mid="url(#m0)" marker-end="url(#m0)"/>
<polyline points="41.0,73.8 48.2,142.7 55.3,159.7 62.5,148.6 69.6,110.7 76.8,80.0 83.9,49.0 91.1,49.1 98.2,64.4 105.4,23.9 112.5,69.9 119.7,109.7 126.8,149.9 134.0,167.7 141.2,177.3 148.3,171.5 155.5,115.6 162.6,136.6 169.8,77.0 176.9,64.3 184.1,40.3 191.2,21.5 198.4,34.0 205.5,106.9" fill="none" stroke="#9e0000" stroke-width="1.2" opacity="0.6" marker-start="url(#m0)" marker-mid="url(#m0)" marker-end="url(#m0)"/>
<polyline points="41.0,87.1 48.2,128.8 55.3,165.2 62.5,141.6 69.6,149.7 76.8,87.8 83.9,81.4 91.1,78.6 98.2,47.6 105.4,21.5 112.5,71.4 119.7,87.8 126.8,112.8 134.0,144.8 141.2,171.2 148.3,166.5 155.5,177.3 162.6,141.4 169.8,110.2 176.9,75.4 184.1,53.3 191.2,41.3 198.4,54.6 205.5,83.7" fill="none" stroke="#9e0000" stroke-width="1.2" opacity="0.6" marker-start="url(#m0)" marker-mid="url(#m0)" marker-end="url(#m0)"/>
<polyline points="41.0,118.0 48.2,144.2 55.3,135.7 62.5,159.3 69.6,151.9 76.8,164.8 83.9,113.2 91.1,73.9 98.2,47.9 105.4,37.6 112.5,54.9 119.7,60.0 126.8,128.2 134.0,147.6 141.2,177.3 148.3,164.4 155.5,164.7 162.6,131.9 169.8,109.8 176.9,21.5 184.1,41.1 191.2,51.8 198.4,46.6 205.5,62.6" fill="none" stroke="#9e0000" stroke-width="1.2" opacity="0.6" marker-start="url(#m0)" marker-mid="url(#m0)" marker-end="url(#m0)"/>
<polyline points="41.0,120.5 48.2,164.1 55.3,153.0 62.5,124.1 69.6,112.8 76.8,48.8 83.9,55.9 91.1,21.8 98.2,21.5 105.4,68.3 112.5,94.4 119.7,97.8 126.8,155.9 134.0,171.7 141.2,177.3 148.3,177.2 155.5,120.5 162.6,93.0 169.8,67.8 176.9,35.7 184.1,46.8 191.2,25.8 198.4,74.7 205.5,65.4" fill="none" stroke="#9e0000" stroke-width="1.2" opacity="0.6" marker-start="url(#m0)" marker-mid="url(#m0)" marker-end="url(#m0)"/>
<polyline points="41.0,142.8 48.2,148.0 55.3,148.5 62.5,129.5 69.6,99.9 76.8,109.1 83.9,52.3 91.1,27.6 98.2,21.5 105.4,69.1 112.5,93.9 119.7,121.4 126.8,147.6 134.0,177.3 141.2,167.5 148.3,125.3 155.5,135.7 162.6,116.5 169.8,67.8 176.9,52.1 184.1,31.8 191.2,60.8 198.4,76.3 205.5,144.1" fill="none" stroke="#9e0000" stroke-width="1.2" opacity="0.6" marker-start="url(#m0)" marker-mid="url(#m0)" marker-end="url(#m0)"/>
<polyline points="41.0,123.6 48.2,151.4 55.3,153.0 62.5,122.2 69.6,100.4 76.8,112.1 83.9,86.7 91.1,38.1 98.2,34.8 105.4,25.0 112.5,28.0 119.7,110.9 126.8,140.7 134.0,152.1 141.2,167.4 148.3,175.9 155.5,177.3 162.6,83.8 169.8,86.4 176.9,76.1 184.1,77.9 191.2,21.5 198.4,54.1 205.5,80.0" fill="none" stroke="#9e0000" stroke-width="1.2" opacity="0.6" marker-start="url(#m0)" marker-mid="url(#m0)" marker-end="url(#m0)"/>
<polyline points="41.0,126.0 48.2,160.3 55.3,147.3 62.5,77.8 69.6,143.3 76.8,131.1 83.9,83.9 91.1,80.2 98.2,42.8 105.4,21.5 112.5,39.8 119.7,63.2 126.8,121.3 134.0,149.4 141.2,177.3 148.3,175.0 155.5,144.1 162.6,103.7 169.8,75.8 176.9,83.0 184.1,25.2 191.2,31.4 198.4,56.6 205.5,79.9" fill="none" stroke="#9e0000" stroke-width="1.2" opacity="0.6" marker-start="url(#m0)" marker-mid="url(#m0)" marker-end="url(#m0)"/>
<polyline points="41.0,109.4 48.2,172.7 55.3,177.3 62.5,138.8 69.6,151.1 76.8,158.7 83.9,143.5 91.1,61.0 98.2,40.7 105.4,21.5 112.5,70.2 119.7,72.4 126.8,99.5 134.0,176.9 141.2,157.3 148.3,161.1 155.5,166.0 162.6,142.9 169.8,106.6 176.9,87.6 184.1,79.1 191.2,59.1 198.4,53.2 205.5,91.8" fill="none" stroke="#9e0000" stroke-width="1.2" opacity="0.6" marker-start="url(#m0)" marker-mid="url(#m0)" marker-end="url(#m0)"/>
<polyline points="41.0,139.4 48.2,150.2 55.3,158.8 62.5,132.5 69.6,103.0 76.8,91.4 83.9,61.0 91.1,49.4 98.2,49.3 105.4,48.6 112.5,70.0 119.7,114.2 126.8,126.1 134.0,164.0 141.2,177.3 148.3,157.8 155.5,137.2 162.6,93.6 169.8,77.8 176.9,44.4 184.1,21.5 191.2,41.0 198.4,54.3 205.5,79.5" fill="none" stroke="#9e0000" stroke-width="1.2" opacity="0.6" marker-start="url(#m0)" marker-mid="url(#m0)" marker-end="url(#m0)"/>
<polyline points="41.0,123.3 48.2,152.9 55.3,132.7 62.5,105.7 69.6,134.2 76.8,101.2 83.9,62.8 91.1,75.8 98.2,21.5 105.4,49.6 112.5,82.9 119.7,105.8 126.8,168.7 134.0,177.3 141.2,174.2 148.3,150.2 155.5,149.9 162.6,110.1 169.8,86.0 176.9,40.6 184.1,45.8 191.2,36.2 198.4,68.4 205.5,132.4" fill="none" stroke="#9e0000" stroke-width="1.2" opacity="0.6" marker-start="url(#m0)" marker-mid="url(#m0)" marker-end="url(#m0)"/>
<polyline points="41.0,154.6 48.2,171.7 55.3,137.6 62.5,128.3 69.6,165.7 76.8,111.5 83.9,66.0 91.1,21.5 98.2,77.5 105.4,68.7 112.5,71.2 119.7,128.1 126.8,146.7 134.0,174.2 141.2,163.6 148.3,177.3 155.5,138.5 162.6,128.1 169.8,65.1 176.9,48.7 184.1,49.7 191.2,56.8 198.4,78.8 205.5,136.7" fill="none" stroke="#9e0000" stroke-width="1.2" opacity="0.6" marker-start="url(#m0)" marker-mid="url(#m0)" marker-end="url(#m0)"/>
<polyline points="41.0,153.2 48.2,150.0 55.3,157.5 62.5,159.1 69.6,133.5 76.8,80.4 83.9,70.7 91.1,21.5 98.2,80.4 105.4,48.9 112.5,86.9 119.7,113.3 126.8,126.7 134.0,147.9 141.2,177.3 148.3,153.1 155.5,161.3 162.6,107.1 169.8,79.2 176.9,75.7 184.1,23.2 191.2,51.9 198.4,56.1 205.5,109.0" fill="none" stroke="#9e0000" stroke-width="1.2" opacity="0.6" marker-start="url(#m0)" marker-mid="url(#m0)" marker-end="url(#m0)"/>
<polyline points="41.0,126.5 48.2,145.0 55.3,113.4 62.5,136.0 69.6,153.6 76.8,116.4 83.9,109.0 91.1,59.0 98.2,54.4 105.4,25.7 112.5,52.9 119.7,61.5 126.8,87.8 134.0,110.2 141.2,165.1 148.3,169.3 155.5,177.3 162.6,161.6 169.8,116.6 176.9,77.5 184.1,38.7 191.2,49.1 198.4,21.5 205.5,98.5" fill="none" stroke="#9e0000" stroke-width="1.2" opacity="0.6" marker-start="url(#m0)" marker-mid="url(#m0)" marker-end="url(#m0)"/>
<polyline points="41.0,134.2 48.2,127.5 55.3,134.3 62.5,163.4 69.6,160.0 76.8,149.1 83.9,77.9 91.1,56.6 98.2,21.5 105.4,35.3 112.5,37.0 119.7,75.1 126.8,133.5 134.0,151.1 141.2,177.3 148.3,170.9 155.5,158.9 162.6,127.7 169.8,72.7 176.9,70.3 184.1,60.5 191.2,48.9 198.4,59.3 205.5,102.4" fill="none" stroke="#9e0000" stroke-width="1.2" opacity="0.6" marker-start="url(#m0)" marker-mid="url(#m0)" marker-end="url(#m0)"/>
<polyline points="41.0,102.5 48.2,137.5 55.3,132.6 62.5,146.7 69.6,161.2 76.8,87.6 83.9,54.1 91.1,21.5 98.2,69.4 105.4,57.7 112.5,75.5 119.7,73.9 126.8,124.2 134.0,132.9 141.2,165.3 148.3,177.3 155.5,166.9 162.6,125.3 169.8,62.3 176.9,67.5 184.1,65.9 191.2,37.0 198.4,38.8 205.5,29.1" fill="none" stroke="#9e0000" stroke-width="1.2" opacity="0.6" marker-start="url(#m0)" marker-mid="url(#m0)" marker-end="url(#m0)"/>
<polyline points="41.0,102.0 48.2,118.2 55.3,161.2 62.5,177.3 69.6,123.4 76.8,129.6 83.9,69.0 91.1,73.4 98.2,52.5 105.4,41.7 112.5,41.2 119.7,55.9 126.8,113.9 134.0,140.9 141.2,176.7 148.3,164.7 155.5,168.0 162.6,97.0 169.8,68.1 176.9,77.3 184.1,36.4 191.2,21.5 198.4,42.1 205.5,80.9" fill="none" stroke="#9e0000" stroke-width="1.2" opacity="0.6" marker-start="url(#m0)" marker-mid="url(#m0)" marker-end="url(#m0)"/>
<polyline points="41.0,124.7 48.2,112.8 55.3,123.5 62.5,146.5 69.6,140.6 76.8,115.4 83.9,90.9 91.1,85.5 98.2,37.1 105.4,41.0 112.5,31.4 119.7,87.8 126.8,90.7 134.0,132.9 141.2,120.7 148.3,177.3 155.5,140.6 162.6,138.3 169.8,113.0 176.9,53.6 184.1,37.1 191.2,21.5 198.4,65.6 205.5,90.5" fill="none" stroke="#9e0000" stroke-width="1.2" opacity="0.6" marker-start="url(#m0)" marker-mid="url(#m0)" marker-end="url(#m0)"/>
<polyline points="41.0,63.4 48.2,99.4 55.3,136.0 62.5,142.7 69.6,130.5 76.8,115.5 83.9,88.8 91.1,35.8 98.2,30.1 105.4,21.5 112.5,50.7 119.7,71.3 126.8,85.2 134.0,137.6 141.2,147.9 148.3,177.3 155.5,151.5 162.6,126.4 169.8,78.0 176.9,48.9 184.1,42.4 191.2,21.7 198.4,37.7 205.5,93.5" fill="none" stroke="#9e0000" stroke-width="1.2" opacity="0.6" marker-start="url(#m0)" marker-mid="url(#m0)" marker-end="url(#m0)"/>
<polyline points="41.0,112.0 48.2,137.6 55.3,160.1 62.5,160.4 69.6,132.9 76.8,116.7 83.9,120.1 91.1,72.6 98.2,43.7 105.4,50.3 112.5,73.8 119.7,95.7 126.8,90.5 134.0,158.5 141.2,160.9 148.3,151.4 155.5,177.3 162.6,122.1 169.8,121.9 176.9,62.2 184.1,21.5 191.2,63.6 198.4,56.1 205.5,66.1" fill="none" stroke="#9e0000" stroke-width="1.2" opacity="0.6" marker-start="url(#m0)" marker-mid="url(#m0)" marker-end="url(#m0)"/>
<polyline points="41.0,97.3 48.2,166.5 55.3,166.1 62.5,150.7 69.6,81.8 76.8,61.4 83.9,68.2 91.1,31.4 98.2,40.1 105.4,48.9 112.5,94.3 119.7,114.7 126.8,164.0 134.0,177.3 141.2,149.5 148.3,154.1 155.5,124.1 162.6,75.7 169.8,64.4 176.9,49.4 184.1,21.5 191.2,49.3 198.4,96.5 205.5,96.3" fill="none" stroke="#9e0000" stroke-width="1.2" opacity="0.6" marker-start="url(#m0)" marker-mid="url(#m0)" marker-end="url(#m0)"/>
<polyline points="41.0,84.0 48.2,126.4 55.3,122.8 62.5,157.8 69.6,118.7 76.8,120.3 83.9,99.4 91.1,65.4 98.2,44.3 105.4,21.5 112.5,31.4 119.7,57.0 126.8,88.1 134.0,124.4 141.2,132.7 148.3,177.3 155.5,131.5 162.6,127.1 169.8,122.1 176.9,67.3 184.1,61.6 191.2,43.5 198.4,60.3 205.5,69.0" fill="none" stroke="#9e0000" stroke-width="1.2" opacity="0.6" marker-start="url(#m0)" marker-mid="url(#m0)" marker-end="url(#m0)"/>
<polyline points="41.0,115.8 48.2,124.0 55.3,145.8 62.5,146.0 69.6,117.0 76.8,93.1 83.9,78.1 91.1,26.6 98.2,36.6 105.4,35.9 112.5,60.6 119.7,107.1 126.8,124.4 134.0,132.8 141.2,177.3 148.3,170.5 155.5,148.4 162.6,95.9 169.8,81.2 176.9,45.6 184.1,21.5 191.2,56.3 198.4,38.8 205.5,62.0" fill="none" stroke="#9e0000" stroke-width="1.2" opacity="0.6" marker-start="url(#m0)" marker-mid="url(#m0)" marker-end="url(#m0)"/>
<polyline points="41.0,100.2 48.2,107.5 55.3,168.3 62.5,163.8 69.6,130.3 76.8,70.5 83.9,65.4 91.1,50.5 98.2,30.6 105.4,39.1 112.5,46.9 119.7,83.7 126.8,122.0 134.0,146.0 141.2,176.4 148.3,177.3 155.5,131.1 162.6,97.7 169.8,69.3 176.9,40.3 184.1,21.5 191.2,51.0 198.4,58.5 205.5,98.1" fill="none" stroke="#9e0000" stroke-width="1.2" opacity="0.6" marker-start="url(#m0)" marker-mid="url(#m0)" marker-end="url(#m0)"/>
<polyline points="41.0,122.2 48.2,144.1 55.3,141.4 62.5,151.7 69.6,172.1 76.8,117.8 83.9,90.3 91.1,48.2 98.2,47.6 105.4,21.5 112.5,61.3 119.7,92.4 126.8,138.6 134.0,173.8 141.2,177.3 148.3,172.0 155.5,151.1 162.6,126.5 169.8,100.5 176.9,67.1 184.1,57.2 191.2,63.4 198.4,76.5 205.5,107.3" fill="none" stroke="#9e0000" stroke-width="1.2" opacity="0.6" marker-start="url(#m0)" marker-mid="url(#m0)" marker-end="url(#m0)"/>
<polyline points="41.0,127.9 48.2,102.0 55.3,152.2 62.5,151.1 69.6,119.1 76.8,96.2 83.9,45.4 91.1,51.3 98.2,50.8 105.4,43.6 112.5,72.3 119.7,102.7 126.8,149.8 134.0,177.3 141.2,151.7 148.3,119.8 155.5,122.3 162.6,91.6 169.8,103.2 176.9,21.5 184.1,43.3 191.2,74.8 198.4,76.6 205.5,136.8" fill="none" stroke="#9e0000" stroke-width="1.2" opacity="0.6" marker-start="url(#m0)" marker-mid="url(#m0)" marker-end="url(#m0)"/>
<polyline points="41.0,141.2 48.2,140.6 55.3,170.2 62.5,133.4 69.6,126.4 76.8,97.4 83.9,53.8 91.1,32.7 98.2,26.9 105.4,50.2 112.5,51.5 119.7,134.5 126.8,125.4 134.0,177.3 141.2,173.0 148.3,153.4 155.5,103.5 162.6,108.0 169.8,82.7 176.9,21.5 184.1,27.3 191.2,33.1 198.4,47.7 205.5,96.3" fill="none" stroke="#9e0000" stroke-width="1.2" opacity="0.6" marker-start="url(#m0)" marker-mid="url(#m0)" marker-end="url(#m0)"/>
<polyline points="41.0,111.8 48.2,144.2 55.3,160.4 62.5,132.3 69.6,114.9 76.8,114.6 83.9,56.2 91.1,21.5 98.2,45.1 105.4,77.3 112.5,59.1 119.7,97.1 126.8,133.2 134.0,177.3 141.2,162.0 148.3,158.7 155.5,140.3 162.6,115.1 169.8,70.5 176.9,65.6 184.1,44.7 191.2,77.0 198.4,82.6 205.5,93.9" fill="none" stroke="#9e0000" stroke-width="1.2" opacity="0.6" marker-start="url(#m0)" marker-mid="url(#m0)" marker-end="url(#m0)"/>
<polyline points="41.0,107.9 48.2,111.0 55.3,151.1 62.5,173.0 69.6,146.1 76.8,119.5 83.9,100.9 91.1,42.0 98.2,21.5 105.4,59.9 112.5,58.7 119.7,109.2 126.8,138.7 134.0,177.3 141.2,167.1 148.3,147.0 155.5,129.2 162.6,111.5 169.8,91.6 176.9,46.2 184.1,24.6 191.2,58.6 198.4,60.2 205.5,112.4" fill="none" stroke="#9e0000" stroke-width="1.2" opacity="0.6" marker-start="url(#m0)" marker-mid="url(#m0)" marker-end="url(#m0)"/>
<polyline points="41.0,121.7 48.2,177.3 55.3,171.1 62.5,174.5 69.6,140.8 76.8,157.1 83.9,84.5 91.1,64.5 98.2,21.5 105.4,47.7 112.5,80.6 119.7,92.2 126.8,133.9 134.0,157.6 141.2,171.2 148.3,172.0 155.5,172.0 162.6,123.1 169.8,85.3 176.9,52.5 184.1,35.6 191.2,41.1 198.4,69.3 205.5,82.5" fill="none" stroke="#9e0000" stroke-width="1.2" opacity="0.6" marker-start="url(#m0)" marker-mid="url(#m0)" marker-end="url(#m0)"/>
<polyline points="41.0,101.7 48.2,150.0 55.3,149.6 62.5,160.9 69.6,104.8 76.8,133.9 83.9,94.4 91.1,65.4 98.2,69.7 105.4,66.9 112.5,69.0 119.7,66.9 126.8,108.5 134.0,140.5 141.2,175.6 148.3,177.3 155.5,157.4 162.6,128.2 169.8,121.4 176.9,78.7 184.1,57.9 191.2,21.5 198.4,58.4 205.5,95.2" fill="none" stroke="#9e0000" stroke-width="1.2" opacity="0.6" marker-start="url(#m0)" marker-mid="url(#m0)" marker-end="url(#m0)"/>
<polyline points="41.0,112.4 48.2,156.3 55.3,148.1 62.5,157.0 69.6,74.8 76.8,108.1 83.9,60.4 91.1,61.8 98.2,36.4 105.4,57.3 112.5,63.3 119.7,118.6 126.8,156.1 134.0,177.3 141.2,160.4 148.3,99.8 155.5,149.9 162.6,108.7 169.8,48.4 176.9,38.4 184.1,21.5 191.2,42.4 198.4,61.6 205.5,115.6" fill="none" stroke="#9e0000" stroke-width="1.2" opacity="0.6" marker-start="url(#m0)" marker-mid="url(#m0)" marker-end="url(#m0)"/>
<polyline points="41.0,133.9 48.2,152.6 55.3,172.5 62.5,166.4 69.6,86.4 76.8,100.2 83.9,39.5 91.1,21.5 98.2,26.6 105.4,66.2 112.5,50.8 119.7,125.7 126.8,156.7 134.0,175.4 141.2,173.8 148.3,177.3 155.5,146.6 162.6,123.0 169.8,40.8 176.9,39.9 184.1,29.4 191.2,68.1 198.4,69.9 205.5,112.2" fill="none" stroke="#9e0000" stroke-width="1.2" opacity="0.6" marker-start="url(#m0)" marker-mid="url(#m0)" marker-end="url(#m0)"/>
<polyline points="41.0,103.1 48.2,120.6 55.3,117.1 62.5,148.4 69.6,123.2 76.8,115.8 83.9,90.4 91.1,69.9 98.2,39.1 105.4,38.1 112.5,37.5 119.7,99.4 126.8,104.3 134.0,177.3 141.2,171.1 148.3,133.9 155.5,155.9 162.6,134.7 169.8,102.6 176.9,24.8 184.1,21.5 191.2,46.7 198.4,60.5 205.5,93.4" fill="none" stroke="#9e0000" stroke-width="1.2" opacity="0.6" marker-start="url(#m0)" marker-mid="url(#m0)" marker-end="url(#m0)"/>
<polyline points="41.0,103.2 48.2,143.7 55.3,142.8 62.5,144.8 69.6,129.8 76.8,118.8 83.9,52.8 91.1,47.6 98.2,51.0 105.4,31.2 112.5,68.3 119.7,74.7 126.8,98.0 134.0,140.0 141.2,167.6 148.3,177.3 155.5,153.8 162.6,82.3 169.8,63.3 176.9,64.2 184.1,44.0 191.2,21.5 198.4,41.5 205.5,75.4" fill="none" stroke="#9e0000" stroke-width="1.2" opacity="0.6" marker-start="url(#m0)" marker-mid="url(#m0)" marker-end="url(#m0)"/>
<polyline points="41.0,101.0 48.2,155.8 55.3,125.9 62.5,138.1 69.6,101.2 76.8,90.8 83.9,69.6 91.1,43.2 98.2,23.2 105.4,27.8 112.5,32.1 119.7,78.0 126.8,126.5 134.0,153.5 141.2,177.3 148.3,159.9 155.5,156.8 162.6,137.0 169.8,75.6 176.9,34.3 184.1,60.7 191.2,21.5 198.4,46.7 205.5,111.9" fill="none" stroke="#9e0000" stroke-width="1.2" opacity="0.6" marker-start="url(#m0)" marker-mid="url(#m0)" marker-end="url(#m0)"/>
<polyline points="41.0,121.5 48.2,148.2 55.3,137.2 62.5,177.3 69.6,136.1 76.8,137.8 83.9,109.0 91.1,57.0 98.2,21.5 105.4,43.6 112.5,77.1 119.7,85.8 126.8,125.2 134.0,158.0 141.2,163.9 148.3,162.6 155.5,146.6 162.6,146.9 169.8,80.5 176.9,77.8 184.1,75.9 191.2,60.2 198.4,57.3 205.5,128.0" fill="none" stroke="#9e0000" stroke-width="1.2" opacity="0.6" marker-start="url(#m0)" marker-mid="url(#m0)" marker-end="url(#m0)"/>
<polyline points="41.0,98.9 48.2,177.3 55.3,139.9 62.5,130.8 69.6,98.5 76.8,103.8 83.9,51.1 91.1,21.5 98.2,27.2 105.4,26.0 112.5,82.7 119.7,90.6 126.8,108.0 134.0,148.8 141.2,148.5 148.3,135.3 155.5,155.5 162.6,100.8 169.8,43.3 176.9,56.2 184.1,26.8 191.2,33.7 198.4,48.0 205.5,102.9" fill="none" stroke="#9e0000" stroke-width="1.2" opacity="0.6" marker-start="url(#m0)" marker-mid="url(#m0)" marker-end="url(#m0)"/>
<polyline points="41.0,56.8 48.2,145.7 55.3,129.2 62.5,127.6 69.6,125.9 76.8,102.1 83.9,93.0 91.1,52.9 98.2,24.7 105.4,54.3 112.5,62.3 119.7,82.8 126.8,109.8 134.0,128.3 141.2,177.3 148.3,142.3 155.5,139.4 162.6,114.6 169.8,119.0 176.9,54.8 184.1,49.5 191.2,21.5 198.4,44.0 205.5,104.1" fill="none" stroke="#9e0000" stroke-width="1.2" opacity="0.6" marker-start="url(#m0)" marker-mid="url(#m0)" marker-end="url(#m0)"/>
<polyline points="41.0,136.4 48.2,154.2 55.3,135.6 62.5,163.2 69.6,133.7 76.8,127.0 83.9,100.0 91.1,77.0 98.2,65.2 105.4,47.5 112.5,61.8 119.7,71.7 126.8,120.7 134.0,155.2 141.2,162.0 148.3,151.8 155.5,177.3 162.6,111.0 169.8,113.7 176.9,85.4 184.1,21.5 191.2,36.6 198.4,69.1 205.5,67.2" fill="none" stroke="#9e0000" stroke-width="1.2" opacity="0.6" marker-start="url(#m0)" marker-mid="url(#m0)" marker-end="url(#m0)"/>
<polyline points="41.0,61.3 48.2,166.2 55.3,155.2 62.5,147.3 69.6,132.2 76.8,95.5 83.9,61.9 91.1,44.1 98.2,39.2 105.4,54.6 112.5,62.2 119.7,81.4 126.8,122.5 134.0,177.3 141.2,138.9 148.3,165.5 155.5,129.4 162.6,120.2 169.8,68.0 176.9,60.8 184.1,21.5 191.2,24.4 198.4,66.3 205.5,134.4" fill="none" stroke="#9e0000" stroke-width="1.2" opacity="0.6" marker-start="url(#m0)" marker-mid="url(#m0)" marker-end="url(#m0)"/>
<polyline points="41.0,146.1 48.2,116.6 55.3,151.7 62.5,142.4 69.6,80.9 76.8,108.1 83.9,76.2 91.1,73.2 98.2,67.1 105.4,53.6 112.5,64.2 119.7,110.8 126.8,141.3 134.0,144.0 141.2,177.3 148.3,176.0 155.5,155.3 162.6,137.4 169.8,77.1 176.9,40.7 184.1,29.5 191.2,21.5 198.4,86.4 205.5,63.5" fill="none" stroke="#9e0000" stroke-width="1.2" opacity="0.6" marker-start="url(#m0)" marker-mid="url(#m0)" marker-end="url(#m0)"/>
<polyline points="41.0,113.1 48.2,127.3 55.3,130.7 62.5,128.8 69.6,90.6 76.8,97.8 83.9,65.1 91.1,39.8 98.2,21.5 105.4,38.8 112.5,28.0 119.7,76.6 126.8,108.9 134.0,116.1 141.2,136.8 148.3,177.3 155.5,138.1 162.6,101.8 169.8,73.7 176.9,75.3 184.1,43.6 191.2,40.6 198.4,33.3 205.5,81.1" fill="none" stroke="#9e0000" stroke-width="1.2" opacity="0.6" marker-start="url(#m0)" marker-mid="url(#m0)" marker-end="url(#m0)"/>
<polyline points="41.0,140.8 48.2,177.3 55.3,141.0 62.5,111.6 69.6,53.8 76.8,73.6 83.9,69.2 91.1,48.0 98.2,21.5 105.4,67.6 112.5,69.0 119.7,120.2 126.8,175.3 134.0,167.7 141.2,175.2 148.3,177.3 155.5,173.7 162.6,96.0 169.8,59.7 176.9,30.5 184.1,30.1 191.2,59.4 198.4,101.1 205.5,113.2" fill="none" stroke="#9e0000" stroke-width="1.2" opacity="0.6" marker-start="url(#m0)" marker-mid="url(#m0)" marker-end="url(#m0)"/>
<rect x="33" y="13.6" width="180.3" height="171.5" fill="none" stroke="#333" stroke-width="1"/>
<line x1="41.00" y1="185.1" x2="41.00" y2="187.9" stroke="#333" stroke-width="0.9"/>
<text x="41.00" y="197.20" font-size="8.8" text-anchor="middle">18</text>
<line x1="83.92" y1="185.1" x2="83.92" y2="187.9" stroke="#333" stroke-width="0.9"/>
<text x="83.92" y="197.20" font-size="8.8" text-anchor="middle">30</text>
<line x1="126.85" y1="185.1" x2="126.85" y2="187.9" stroke="#333" stroke-width="0.9"/>
<text x="126.85" y="197.20" font-size="8.8" text-anchor="middle">42</text>
<line x1="169.77" y1="185.1" x2="169.77" y2="187.9" stroke="#333" stroke-width="0.9"/>
<text x="169.77" y="197.20" font-size="8.8" text-anchor="middle">54</text>
<line x1="212.70" y1="185.1" x2="212.70" y2="187.9" stroke="#333" stroke-width="0.9"/>
<text x="212.70" y="197.20" font-size="8.8" text-anchor="middle">66</text>
<line x1="30.2" y1="177.30" x2="33" y2="177.30" stroke="#333" stroke-width="0.9"/>
<text x="27.50" y="179.90" font-size="8.8" text-anchor="end">0.0</text>
<line x1="30.2" y1="146.14" x2="33" y2="146.14" stroke="#333" stroke-width="0.9"/>
<line x1="30.2" y1="114.98" x2="33" y2="114.98" stroke="#333" stroke-width="0.9"/>
<line x1="30.2" y1="83.82" x2="33" y2="83.82" stroke="#333" stroke-width="0.9"/>
<line x1="30.2" y1="52.66" x2="33" y2="52.66" stroke="#333" stroke-width="0.9"/>
<line x1="30.2" y1="21.50" x2="33" y2="21.50" stroke="#333" stroke-width="0.9"/>
<text x="27.50" y="24.10" font-size="8.8" text-anchor="end">1.0</text>
<rect x="262.4" y="13.6" width="180.90000000000003" height="171.5" fill="white"/>
<line x1="270.60" y1="13.6" x2="270.60" y2="185.1" stroke="#c6c6c6" stroke-width="0.9"/>
<line x1="313.56" y1="13.6" x2="313.56" y2="185.1" stroke="#c6c6c6" stroke-width="0.9"/>
<line x1="356.52" y1="13.6" x2="356.52" y2="185.1" stroke="#c6c6c6" stroke-width="0.9"/>
<line x1="399.48" y1="13.6" x2="399.48" y2="185.1" stroke="#c6c6c6" stroke-width="0.9"/>
<line x1="442.44" y1="13.6" x2="442.44" y2="185.1" stroke="#c6c6c6" stroke-width="0.9"/>
<line x1="262.4" y1="177.30" x2="443.3" y2="177.30" stroke="#c6c6c6" stroke-width="0.9"/>
<line x1="262.4" y1="146.14" x2="443.3" y2="146.14" stroke="#c6c6c6" stroke-width="0.9"/>
<line x1="262.4" y1="114.98" x2="443.3" y2="114.98" stroke="#c6c6c6" stroke-width="0.9"/>
<line x1="262.4" y1="83.82" x2="443.3" y2="83.82" stroke="#c6c6c6" stroke-width="0.9"/>
<line x1="262.4" y1="52.66" x2="443.3" y2="52.66" stroke="#c6c6c6" stroke-width="0.9"/>
<line x1="262.4" y1="21.50" x2="443.3" y2="21.50" stroke="#c6c6c6" stroke-width="0.9"/>
<polyline points="270.6,109.5 277.8,95.3 284.9,97.5 292.1,21.5 299.2,35.5 306.4,78.0 313.6,93.8 320.7,121.0 327.9,165.8 335.0,163.6 342.2,177.3 349.4,158.2 356.5,135.3 363.7,82.5 370.8,63.0 378.0,40.0 385.2,61.3 392.3,71.4 399.5,118.4 406.6,127.2 413.8,164.5 421.0,175.9 428.1,170.5 435.3,116.2" fill="none" stroke="#000094" stroke-width="1.2" opacity="0.6" marker-start="url(#m1)" marker-mid="url(#m1)" marker-end="url(#m1)"/>
<polyline points="270.6,87.4 277.8,28.8 284.9,31.4 292.1,21.5 299.2,21.6 306.4,84.9 313.6,127.9 320.7,162.1 327.9,146.4 335.0,163.7 342.2,132.4 349.4,109.0 356.5,65.5 363.7,62.8 370.8,55.4 378.0,72.6 385.2,39.1 392.3,87.8 399.5,101.3 406.6,152.2 413.8,177.3 421.0,155.5 428.1,143.1 435.3,100.2" fill="none" stroke="#000094" stroke-width="1.2" opacity="0.6" marker-start="url(#m1)" marker-mid="url(#m1)" marker-end="url(#m1)"/>
<polyline points="270.6,86.2 277.8,70.2 284.9,21.5 292.1,35.4 299.2,47.1 306.4,33.8 313.6,98.5 320.7,96.3 327.9,147.7 335.0,125.4 342.2,177.3 349.4,118.4 356.5,110.8 363.7,91.0 370.8,31.5 378.0,29.7 385.2,40.7 392.3,67.5 399.5,85.5 406.6,117.4 413.8,131.3 421.0,144.0 428.1,161.1 435.3,129.3" fill="none" stroke="#000094" stroke-width="1.2" opacity="0.6" marker-start="url(#m1)" marker-mid="url(#m1)" marker-end="url(#m1)"/>
<polyline points="270.6,69.8 277.8,62.0 284.9,33.8 292.1,21.5 299.2,33.1 306.4,66.8 313.6,114.6 320.7,118.3 327.9,140.2 335.0,177.3 342.2,125.0 349.4,96.8 356.5,90.8 363.7,45.2 370.8,28.4 378.0,28.5 385.2,55.2 392.3,61.5 399.5,91.8 406.6,137.9 413.8,132.7 421.0,145.6 428.1,168.3 435.3,101.8" fill="none" stroke="#000094" stroke-width="1.2" opacity="0.6" marker-start="url(#m1)" marker-mid="url(#m1)" marker-end="url(#m1)"/>
<polyline points="270.6,121.8 277.8,118.9 284.9,94.1 292.1,53.8 299.2,27.2 306.4,49.9 313.6,71.8 320.7,78.2 327.9,118.3 335.0,135.4 342.2,137.4 349.4,141.3 356.5,111.2 363.7,80.8 370.8,85.8 378.0,21.5 385.2,34.3 392.3,57.5 399.5,96.1 406.6,92.7 413.8,121.8 421.0,155.9 428.1,177.3 435.3,117.9" fill="none" stroke="#000094" stroke-width="1.2" opacity="0.6" marker-start="url(#m1)" marker-mid="url(#m1)" marker-end="url(#m1)"/>
<polyline points="270.6,74.0 277.8,78.2 284.9,21.5 292.1,30.8 299.2,49.5 306.4,68.1 313.6,100.7 320.7,134.9 327.9,177.3 335.0,159.4 342.2,176.5 349.4,108.5 356.5,63.9 363.7,88.2 370.8,40.5 378.0,30.8 385.2,62.2 392.3,71.0 399.5,122.6 406.6,121.4 413.8,168.5 421.0,164.4 428.1,144.6 435.3,83.2" fill="none" stroke="#000094" stroke-width="1.2" opacity="0.6" marker-start="url(#m1)" marker-mid="url(#m1)" marker-end="url(#m1)"/>
<polyline points="270.6,90.3 277.8,72.8 284.9,27.6 292.1,27.6 299.2,26.0 306.4,61.1 313.6,84.5 320.7,101.4 327.9,156.8 335.0,139.5 342.2,159.4 349.4,156.3 356.5,93.1 363.7,55.1 370.8,21.5 378.0,44.3 385.2,28.3 392.3,51.3 399.5,69.2 406.6,126.7 413.8,143.3 421.0,177.3 428.1,155.8 435.3,139.9" fill="none" stroke="#000094" stroke-width="1.2" opacity="0.6" marker-start="url(#m1)" marker-mid="url(#m1)" marker-end="url(#m1)"/>
<polyline points="270.6,107.1 277.8,109.9 284.9,34.8 292.1,21.5 299.2,44.2 306.4,58.2 313.6,97.8 320.7,132.5 327.9,123.9 335.0,142.7 342.2,171.6 349.4,109.5 356.5,103.2 363.7,81.5 370.8,49.9 378.0,52.2 385.2,50.0 392.3,59.7 399.5,88.6 406.6,142.5 413.8,109.8 421.0,177.3 428.1,160.6 435.3,93.6" fill="none" stroke="#000094" stroke-width="1.2" opacity="0.6" marker-start="url(#m1)" marker-mid="url(#m1)" marker-end="url(#m1)"/>
<polyline points="270.6,104.9 277.8,51.8 284.9,30.5 292.1,28.2 299.2,27.6 306.4,72.2 313.6,84.8 320.7,117.9 327.9,145.7 335.0,177.3 342.2,122.9 349.4,120.2 356.5,49.4 363.7,71.6 370.8,21.5 378.0,31.5 385.2,29.6 392.3,46.2 399.5,107.2 406.6,132.0 413.8,154.4 421.0,165.3 428.1,148.9 435.3,71.4" fill="none" stroke="#000094" stroke-width="1.2" opacity="0.6" marker-start="url(#m1)" marker-mid="url(#m1)" marker-end="url(#m1)"/>
<polyline points="270.6,100.5 277.8,74.7 284.9,26.5 292.1,37.4 299.2,49.7 306.4,81.4 313.6,72.9 320.7,110.0 327.9,150.1 335.0,154.6 342.2,158.8 349.4,92.0 356.5,85.8 363.7,78.5 370.8,22.6 378.0,21.5 385.2,55.3 392.3,73.7 399.5,103.2 406.6,125.5 413.8,150.7 421.0,177.3 428.1,124.9 435.3,95.3" fill="none" stroke="#000094" stroke-width="1.2" opacity="0.6" marker-start="url(#m1)" marker-mid="url(#m1)" marker-end="url(#m1)"/>
<polyline points="270.6,98.4 277.8,76.7 284.9,44.9 292.1,21.5 299.2,57.2 306.4,86.3 313.6,107.0 320.7,119.2 327.9,142.9 335.0,146.7 342.2,148.5 349.4,103.1 356.5,76.5 363.7,73.8 370.8,42.3 378.0,65.0 385.2,58.3 392.3,94.0 399.5,119.0 406.6,156.0 413.8,173.2 421.0,177.3 428.1,155.1 435.3,92.4" fill="none" stroke="#000094" stroke-width="1.2" opacity="0.6" marker-start="url(#m1)" marker-mid="url(#m1)" marker-end="url(#m1)"/>
<polyline points="270.6,77.1 277.8,32.0 284.9,21.5 292.1,55.5 299.2,58.8 306.4,86.3 313.6,117.8 320.7,138.3 327.9,177.3 335.0,122.7 342.2,114.4 349.4,70.4 356.5,21.6 363.7,40.2 370.8,45.3 378.0,22.0 385.2,60.1 392.3,96.6 399.5,138.5 406.6,124.3 413.8,165.8 421.0,172.5 428.1,135.7 435.3,45.7" fill="none" stroke="#000094" stroke-width="1.2" opacity="0.6" marker-start="url(#m1)" marker-mid="url(#m1)" marker-end="url(#m1)"/>
<polyline points="270.6,113.6 277.8,99.9 284.9,35.8 292.1,22.7 299.2,38.1 306.4,37.4 313.6,97.7 320.7,91.9 327.9,124.8 335.0,177.3 342.2,166.2 349.4,133.1 356.5,104.8 363.7,96.6 370.8,56.7 378.0,21.5 385.2,44.8 392.3,70.3 399.5,78.9 406.6,114.2 413.8,120.0 421.0,153.0 428.1,168.6 435.3,78.4" fill="none" stroke="#000094" stroke-width="1.2" opacity="0.6" marker-start="url(#m1)" marker-mid="url(#m1)" marker-end="url(#m1)"/>
<polyline points="270.6,96.3 277.8,70.7 284.9,52.5 292.1,21.8 299.2,31.9 306.4,32.2 313.6,55.7 320.7,80.6 327.9,101.1 335.0,111.4 342.2,177.3 349.4,133.0 356.5,117.3 363.7,79.8 370.8,61.9 378.0,21.5 385.2,25.0 392.3,47.5 399.5,72.1 406.6,113.0 413.8,171.3 421.0,138.2 428.1,160.4 435.3,167.2" fill="none" stroke="#000094" stroke-width="1.2" opacity="0.6" marker-start="url(#m1)" marker-mid="url(#m1)" marker-end="url(#m1)"/>
<polyline points="270.6,65.1 277.8,60.9 284.9,21.5 292.1,56.3 299.2,78.2 306.4,93.1 313.6,121.9 320.7,157.0 327.9,144.3 335.0,173.3 342.2,143.5 349.4,95.5 356.5,101.9 363.7,47.9 370.8,41.0 378.0,45.7 385.2,64.2 392.3,98.1 399.5,164.1 406.6,172.5 413.8,177.3 421.0,151.4 428.1,158.0 435.3,88.9" fill="none" stroke="#000094" stroke-width="1.2" opacity="0.6" marker-start="url(#m1)" marker-mid="url(#m1)" marker-end="url(#m1)"/>
<polyline points="270.6,77.9 277.8,66.4 284.9,48.3 292.1,36.3 299.2,36.8 306.4,69.3 313.6,99.3 320.7,145.7 327.9,132.2 335.0,177.3 342.2,134.7 349.4,127.0 356.5,79.0 363.7,27.2 370.8,50.9 378.0,21.5 385.2,43.0 392.3,78.5 399.5,112.5 406.6,123.5 413.8,133.4 421.0,153.8 428.1,169.0 435.3,142.5" fill="none" stroke="#000094" stroke-width="1.2" opacity="0.6" marker-start="url(#m1)" marker-mid="url(#m1)" marker-end="url(#m1)"/>
<polyline points="270.6,119.7 277.8,104.0 284.9,71.3 292.1,38.9 299.2,27.2 306.4,55.0 313.6,98.3 320.7,103.8 327.9,122.3 335.0,98.6 342.2,177.3 349.4,109.3 356.5,97.6 363.7,85.0 370.8,35.3 378.0,37.7 385.2,21.5 392.3,59.0 399.5,74.2 406.6,122.7 413.8,161.1 421.0,162.4 428.1,171.6 435.3,110.0" fill="none" stroke="#000094" stroke-width="1.2" opacity="0.6" marker-start="url(#m1)" marker-mid="url(#m1)" marker-end="url(#m1)"/>
<polyline points="270.6,134.7 277.8,66.0 284.9,53.6 292.1,62.3 299.2,61.7 306.4,92.0 313.6,109.0 320.7,153.4 327.9,177.3 335.0,159.7 342.2,167.8 349.4,122.0 356.5,128.5 363.7,85.7 370.8,55.7 378.0,21.5 385.2,50.8 392.3,127.2 399.5,124.6 406.6,154.3 413.8,167.1 421.0,157.8 428.1,160.4 435.3,177.0" fill="none" stroke="#000094" stroke-width="1.2" opacity="0.6" marker-start="url(#m1)" marker-mid="url(#m1)" marker-end="url(#m1)"/>
<polyline points="270.6,115.2 277.8,45.2 284.9,38.4 292.1,23.3 299.2,33.7 306.4,21.5 313.6,118.3 320.7,86.7 327.9,162.6 335.0,158.1 342.2,172.1 349.4,109.8 356.5,124.9 363.7,90.4 370.8,47.1 378.0,52.5 385.2,33.0 392.3,55.7 399.5,117.3 406.6,128.8 413.8,177.3 421.0,177.1 428.1,166.7 435.3,98.4" fill="none" stroke="#000094" stroke-width="1.2" opacity="0.6" marker-start="url(#m1)" marker-mid="url(#m1)" marker-end="url(#m1)"/>
<polyline points="270.6,79.4 277.8,43.7 284.9,50.1 292.1,21.5 299.2,26.8 306.4,70.7 313.6,135.3 320.7,177.3 327.9,154.7 335.0,127.0 342.2,156.6 349.4,146.0 356.5,70.4 363.7,38.0 370.8,34.0 378.0,30.5 385.2,72.6 392.3,57.8 399.5,135.0 406.6,133.6 413.8,157.5 421.0,174.5 428.1,136.5 435.3,83.8" fill="none" stroke="#000094" stroke-width="1.2" opacity="0.6" marker-start="url(#m1)" marker-mid="url(#m1)" marker-end="url(#m1)"/>
<polyline points="270.6,62.2 277.8,75.7 284.9,28.2 292.1,21.5 299.2,50.6 306.4,70.9 313.6,134.7 320.7,165.7 327.9,168.5 335.0,166.8 342.2,145.4 349.4,107.6 356.5,84.4 363.7,54.3 370.8,33.2 378.0,30.2 385.2,52.4 392.3,84.0 399.5,81.3 406.6,177.3 413.8,174.9 421.0,160.5 428.1,155.3 435.3,55.4" fill="none" stroke="#000094" stroke-width="1.2" opacity="0.6" marker-start="url(#m1)" marker-mid="url(#m1)" marker-end="url(#m1)"/>
<polyline points="270.6,73.4 277.8,37.1 284.9,32.1 292.1,61.8 299.2,59.1 306.4,102.6 313.6,114.7 320.7,133.6 327.9,157.5 335.0,127.2 342.2,129.9 349.4,102.0 356.5,84.6 363.7,43.8 370.8,21.5 378.0,39.6 385.2,64.4 392.3,103.9 399.5,133.5 406.6,138.7 413.8,177.3 421.0,120.1 428.1,126.3 435.3,34.8" fill="none" stroke="#000094" stroke-width="1.2" opacity="0.6" marker-start="url(#m1)" marker-mid="url(#m1)" marker-end="url(#m1)"/>
<polyline points="270.6,38.1 277.8,21.5 284.9,45.0 292.1,59.1 299.2,98.8 306.4,121.5 313.6,128.4 320.7,147.0 327.9,165.3 335.0,147.4 342.2,125.9 349.4,73.4 356.5,51.9 363.7,44.9 370.8,35.8 378.0,48.3 385.2,98.7 392.3,99.4 399.5,130.8 406.6,139.3 413.8,177.3 421.0,132.9 428.1,127.4 435.3,70.2" fill="none" stroke="#000094" stroke-width="1.2" opacity="0.6" marker-start="url(#m1)" marker-mid="url(#m1)" marker-end="url(#m1)"/>
<polyline points="270.6,84.0 277.8,74.4 284.9,23.0 292.1,34.9 299.2,40.0 306.4,45.0 313.6,94.5 320.7,105.7 327.9,143.3 335.0,145.8 342.2,135.1 349.4,144.3 356.5,99.4 363.7,55.2 370.8,31.9 378.0,47.3 385.2,21.5 392.3,50.8 399.5,108.6 406.6,136.4 413.8,137.7 421.0,177.3 428.1,154.3 435.3,106.8" fill="none" stroke="#000094" stroke-width="1.2" opacity="0.6" marker-start="url(#m1)" marker-mid="url(#m1)" marker-end="url(#m1)"/>
<polyline points="270.6,129.3 277.8,38.5 284.9,21.5 292.1,48.5 299.2,31.3 306.4,113.2 313.6,135.9 320.7,141.3 327.9,160.1 335.0,170.7 342.2,146.1 349.4,94.1 356.5,82.3 363.7,34.7 370.8,49.1 378.0,61.8 385.2,57.6 392.3,69.7 399.5,119.9 406.6,145.4 413.8,171.1 421.0,177.3 428.1,154.3 435.3,116.8" fill="none" stroke="#000094" stroke-width="1.2" opacity="0.6" marker-start="url(#m1)" marker-mid="url(#m1)" marker-end="url(#m1)"/>
<polyline points="270.6,59.7 277.8,21.5 284.9,28.0 292.1,65.5 299.2,101.7 306.4,146.6 313.6,148.4 320.7,177.3 327.9,176.7 335.0,163.2 342.2,128.6 349.4,77.7 356.5,42.9 363.7,47.4 370.8,48.4 378.0,80.5 385.2,110.7 392.3,141.7 399.5,143.3 406.6,169.7 413.8,160.2 421.0,152.0 428.1,135.2 435.3,88.4" fill="none" stroke="#000094" stroke-width="1.2" opacity="0.6" marker-start="url(#m1)" marker-mid="url(#m1)" marker-end="url(#m1)"/>
<polyline points="270.6,136.4 277.8,107.2 284.9,38.7 292.1,39.9 299.2,35.0 306.4,76.7 313.6,100.3 320.7,97.5 327.9,111.1 335.0,155.4 342.2,134.0 349.4,143.9 356.5,146.7 363.7,101.4 370.8,58.8 378.0,21.5 385.2,52.0 392.3,65.9 399.5,91.3 406.6,137.0 413.8,169.1 421.0,177.3 428.1,158.0 435.3,85.9" fill="none" stroke="#000094" stroke-width="1.2" opacity="0.6" marker-start="url(#m1)" marker-mid="url(#m1)" marker-end="url(#m1)"/>
<polyline points="270.6,114.7 277.8,40.6 284.9,40.6 292.1,36.2 299.2,35.3 306.4,102.0 313.6,104.0 320.7,135.1 327.9,124.5 335.0,151.9 342.2,161.1 349.4,150.8 356.5,113.7 363.7,74.3 370.8,45.2 378.0,43.5 385.2,21.5 392.3,65.1 399.5,94.1 406.6,114.9 413.8,147.6 421.0,171.6 428.1,177.3 435.3,99.4" fill="none" stroke="#000094" stroke-width="1.2" opacity="0.6" marker-start="url(#m1)" marker-mid="url(#m1)" marker-end="url(#m1)"/>
<polyline points="270.6,98.5 277.8,49.4 284.9,46.5 292.1,21.5 299.2,42.0 306.4,36.1 313.6,120.3 320.7,119.9 327.9,135.5 335.0,169.6 342.2,155.4 349.4,134.3 356.5,89.2 363.7,77.0 370.8,33.2 378.0,24.4 385.2,57.2 392.3,56.1 399.5,104.8 406.6,128.4 413.8,145.6 421.0,163.0 428.1,177.3 435.3,73.0" fill="none" stroke="#000094" stroke-width="1.2" opacity="0.6" marker-start="url(#m1)" marker-mid="url(#m1)" marker-end="url(#m1)"/>
<polyline points="270.6,116.6 277.8,69.3 284.9,64.6 292.1,26.9 299.2,42.5 306.4,56.4 313.6,73.2 320.7,130.0 327.9,121.5 335.0,148.7 342.2,174.0 349.4,108.1 356.5,136.8 363.7,82.3 370.8,38.9 378.0,70.8 385.2,21.5 392.3,40.7 399.5,93.5 406.6,123.9 413.8,154.9 421.0,177.3 428.1,154.1 435.3,94.8" fill="none" stroke="#000094" stroke-width="1.2" opacity="0.6" marker-start="url(#m1)" marker-mid="url(#m1)" marker-end="url(#m1)"/>
<polyline points="270.6,92.2 277.8,86.5 284.9,21.5 292.1,43.2 299.2,48.7 306.4,106.1 313.6,136.3 320.7,108.5 327.9,148.4 335.0,166.2 342.2,133.5 349.4,106.8 356.5,117.0 363.7,73.9 370.8,41.8 378.0,41.3 385.2,51.8 392.3,90.8 399.5,121.6 406.6,143.7 413.8,174.0 421.0,177.3 428.1,157.8 435.3,55.0" fill="none" stroke="#000094" stroke-width="1.2" opacity="0.6" marker-start="url(#m1)" marker-mid="url(#m1)" marker-end="url(#m1)"/>
<polyline points="270.6,130.4 277.8,117.9 284.9,84.2 292.1,40.7 299.2,21.5 306.4,50.0 313.6,87.7 320.7,81.1 327.9,112.2 335.0,133.4 342.2,148.7 349.4,173.8 356.5,141.4 363.7,116.2 370.8,72.9 378.0,33.1 385.2,36.4 392.3,51.7 399.5,40.6 406.6,78.9 413.8,125.6 421.0,176.3 428.1,177.3 435.3,140.0" fill="none" stroke="#000094" stroke-width="1.2" opacity="0.6" marker-start="url(#m1)" marker-mid="url(#m1)" marker-end="url(#m1)"/>
<polyline points="270.6,101.2 277.8,28.8 284.9,32.8 292.1,37.7 299.2,51.6 306.4,94.7 313.6,151.2 320.7,137.6 327.9,142.5 335.0,154.3 342.2,117.4 349.4,80.0 356.5,89.2 363.7,55.5 370.8,21.5 378.0,36.6 385.2,57.5 392.3,79.3 399.5,117.5 406.6,163.8 413.8,169.0 421.0,177.3 428.1,148.0 435.3,84.2" fill="none" stroke="#000094" stroke-width="1.2" opacity="0.6" marker-start="url(#m1)" marker-mid="url(#m1)" marker-end="url(#m1)"/>
<polyline points="270.6,106.3 277.8,73.9 284.9,45.5 292.1,21.5 299.2,32.3 306.4,24.3 313.6,86.8 320.7,91.8 327.9,142.0 335.0,177.3 342.2,167.5 349.4,155.1 356.5,131.2 363.7,59.6 370.8,58.2 378.0,26.9 385.2,49.3 392.3,55.2 399.5,98.1 406.6,104.1 413.8,145.9 421.0,162.8 428.1,156.7 435.3,78.7" fill="none" stroke="#000094" stroke-width="1.2" opacity="0.6" marker-start="url(#m1)" marker-mid="url(#m1)" marker-end="url(#m1)"/>
<polyline points="270.6,90.3 277.8,62.9 284.9,37.8 292.1,66.5 299.2,49.3 306.4,108.5 313.6,104.0 320.7,138.7 327.9,164.0 335.0,153.6 342.2,152.4 349.4,113.9 356.5,82.2 363.7,56.6 370.8,41.5 378.0,43.8 385.2,21.5 392.3,75.2 399.5,115.3 406.6,136.9 413.8,174.8 421.0,177.3 428.1,144.8 435.3,77.3" fill="none" stroke="#000094" stroke-width="1.2" opacity="0.6" marker-start="url(#m1)" marker-mid="url(#m1)" marker-end="url(#m1)"/>
<polyline points="270.6,129.5 277.8,72.5 284.9,69.6 292.1,54.1 299.2,21.5 306.4,62.8 313.6,85.2 320.7,115.0 327.9,144.3 335.0,167.3 342.2,167.1 349.4,123.8 356.5,124.8 363.7,82.9 370.8,47.2 378.0,47.6 385.2,65.7 392.3,56.4 399.5,77.7 406.6,122.6 413.8,177.3 421.0,159.7 428.1,138.9 435.3,141.6" fill="none" stroke="#000094" stroke-width="1.2" opacity="0.6" marker-start="url(#m1)" marker-mid="url(#m1)" marker-end="url(#m1)"/>
<polyline points="270.6,136.3 277.8,58.5 284.9,34.5 292.1,25.0 299.2,41.7 306.4,58.9 313.6,118.8 320.7,93.5 327.9,141.5 335.0,156.2 342.2,166.8 349.4,96.1 356.5,82.4 363.7,92.2 370.8,29.2 378.0,21.5 385.2,70.9 392.3,48.1 399.5,81.3 406.6,116.6 413.8,153.1 421.0,177.3 428.1,167.6 435.3,87.2" fill="none" stroke="#000094" stroke-width="1.2" opacity="0.6" marker-start="url(#m1)" marker-mid="url(#m1)" marker-end="url(#m1)"/>
<polyline points="270.6,46.6 277.8,24.4 284.9,32.5 292.1,35.0 299.2,35.8 306.4,93.1 313.6,121.1 320.7,120.9 327.9,154.6 335.0,131.8 342.2,114.1 349.4,79.8 356.5,78.7 363.7,32.4 370.8,44.8 378.0,21.5 385.2,28.4 392.3,51.3 399.5,139.5 406.6,153.2 413.8,156.0 421.0,177.3 428.1,136.8 435.3,64.1" fill="none" stroke="#000094" stroke-width="1.2" opacity="0.6" marker-start="url(#m1)" marker-mid="url(#m1)" marker-end="url(#m1)"/>
<polyline points="270.6,116.7 277.8,99.5 284.9,46.3 292.1,30.3 299.2,44.3 306.4,50.7 313.6,32.2 320.7,149.9 327.9,109.5 335.0,147.9 342.2,135.8 349.4,142.6 356.5,130.3 363.7,56.4 370.8,64.7 378.0,41.9 385.2,21.5 392.3,39.9 399.5,74.4 406.6,109.3 413.8,155.4 421.0,142.2 428.1,177.3 435.3,123.1" fill="none" stroke="#000094" stroke-width="1.2" opacity="0.6" marker-start="url(#m1)" marker-mid="url(#m1)" marker-end="url(#m1)"/>
<polyline points="270.6,106.8 277.8,50.8 284.9,21.5 292.1,62.9 299.2,67.7 306.4,90.0 313.6,125.2 320.7,154.7 327.9,174.7 335.0,177.3 342.2,143.2 349.4,130.8 356.5,67.3 363.7,47.1 370.8,73.7 378.0,54.8 385.2,46.3 392.3,72.4 399.5,108.8 406.6,170.8 413.8,172.2 421.0,149.8 428.1,149.6 435.3,127.7" fill="none" stroke="#000094" stroke-width="1.2" opacity="0.6" marker-start="url(#m1)" marker-mid="url(#m1)" marker-end="url(#m1)"/>
<polyline points="270.6,104.4 277.8,113.6 284.9,43.0 292.1,46.4 299.2,56.4 306.4,56.6 313.6,76.1 320.7,94.5 327.9,142.1 335.0,172.1 342.2,177.3 349.4,154.9 356.5,144.1 363.7,78.7 370.8,70.0 378.0,21.5 385.2,62.2 392.3,35.5 399.5,96.9 406.6,130.7 413.8,143.2 421.0,152.1 428.1,166.3 435.3,142.7" fill="none" stroke="#000094" stroke-width="1.2" opacity="0.6" marker-start="url(#m1)" marker-mid="url(#m1)" marker-end="url(#m1)"/>
<polyline points="270.6,76.1 277.8,56.3 284.9,21.5 292.1,61.4 299.2,81.1 306.4,119.7 313.6,134.9 320.7,177.3 327.9,165.8 335.0,130.4 342.2,81.3 349.4,47.4 356.5,33.7 363.7,23.9 370.8,33.9 378.0,69.6 385.2,80.0 392.3,123.5 399.5,157.4 406.6,138.1 413.8,176.7 421.0,143.9 428.1,120.1 435.3,27.2" fill="none" stroke="#000094" stroke-width="1.2" opacity="0.6" marker-start="url(#m1)" marker-mid="url(#m1)" marker-end="url(#m1)"/>
<polyline points="270.6,138.6 277.8,93.0 284.9,51.4 292.1,29.4 299.2,21.5 306.4,50.7 313.6,82.6 320.7,112.6 327.9,111.6 335.0,154.7 342.2,133.1 349.4,141.5 356.5,130.0 363.7,79.1 370.8,78.2 378.0,54.9 385.2,51.0 392.3,60.7 399.5,73.7 406.6,112.9 413.8,141.7 421.0,133.8 428.1,177.3 435.3,120.1" fill="none" stroke="#000094" stroke-width="1.2" opacity="0.6" marker-start="url(#m1)" marker-mid="url(#m1)" marker-end="url(#m1)"/>
<polyline points="270.6,123.9 277.8,69.8 284.9,31.7 292.1,51.3 299.2,23.0 306.4,32.9 313.6,74.2 320.7,116.4 327.9,133.4 335.0,175.6 342.2,177.3 349.4,132.5 356.5,93.5 363.7,72.3 370.8,55.9 378.0,34.5 385.2,21.5 392.3,24.0 399.5,77.5 406.6,135.9 413.8,148.6 421.0,167.8 428.1,133.6 435.3,99.8" fill="none" stroke="#000094" stroke-width="1.2" opacity="0.6" marker-start="url(#m1)" marker-mid="url(#m1)" marker-end="url(#m1)"/>
<polyline points="270.6,59.8 277.8,65.7 284.9,49.2 292.1,21.5 299.2,28.8 306.4,80.1 313.6,106.1 320.7,126.6 327.9,144.6 335.0,123.4 342.2,121.6 349.4,92.6 356.5,72.9 363.7,60.2 370.8,28.6 378.0,35.6 385.2,55.2 392.3,46.9 399.5,123.3 406.6,129.3 413.8,157.3 421.0,177.3 428.1,149.7 435.3,104.1" fill="none" stroke="#000094" stroke-width="1.2" opacity="0.6" marker-start="url(#m1)" marker-mid="url(#m1)" marker-end="url(#m1)"/>
<polyline points="270.6,78.9 277.8,83.1 284.9,53.1 292.1,38.9 299.2,24.0 306.4,45.7 313.6,67.6 320.7,78.2 327.9,152.5 335.0,155.4 342.2,177.3 349.4,133.7 356.5,106.4 363.7,39.9 370.8,21.5 378.0,41.7 385.2,42.4 392.3,42.1 399.5,122.3 406.6,140.9 413.8,150.1 421.0,160.1 428.1,162.6 435.3,66.5" fill="none" stroke="#000094" stroke-width="1.2" opacity="0.6" marker-start="url(#m1)" marker-mid="url(#m1)" marker-end="url(#m1)"/>
<polyline points="270.6,68.2 277.8,80.0 284.9,30.3 292.1,21.5 299.2,37.7 306.4,60.4 313.6,91.2 320.7,164.7 327.9,145.2 335.0,151.8 342.2,148.1 349.4,113.7 356.5,121.3 363.7,69.4 370.8,37.3 378.0,36.0 385.2,22.2 392.3,57.6 399.5,107.1 406.6,121.9 413.8,147.9 421.0,177.3 428.1,152.8 435.3,108.1" fill="none" stroke="#000094" stroke-width="1.2" opacity="0.6" marker-start="url(#m1)" marker-mid="url(#m1)" marker-end="url(#m1)"/>
<polyline points="270.6,123.4 277.8,21.5 284.9,33.5 292.1,46.5 299.2,29.2 306.4,101.1 313.6,143.8 320.7,139.9 327.9,163.9 335.0,127.6 342.2,137.5 349.4,77.5 356.5,102.3 363.7,38.9 370.8,42.0 378.0,43.5 385.2,70.0 392.3,79.3 399.5,103.7 406.6,160.1 413.8,177.3 421.0,176.7 428.1,138.3 435.3,91.2" fill="none" stroke="#000094" stroke-width="1.2" opacity="0.6" marker-start="url(#m1)" marker-mid="url(#m1)" marker-end="url(#m1)"/>
<polyline points="270.6,110.5 277.8,81.6 284.9,83.8 292.1,21.5 299.2,64.5 306.4,61.9 313.6,123.7 320.7,97.0 327.9,140.5 335.0,135.6 342.2,166.1 349.4,120.3 356.5,119.3 363.7,87.3 370.8,44.7 378.0,60.9 385.2,42.0 392.3,43.5 399.5,73.6 406.6,112.9 413.8,147.4 421.0,177.3 428.1,142.9 435.3,131.5" fill="none" stroke="#000094" stroke-width="1.2" opacity="0.6" marker-start="url(#m1)" marker-mid="url(#m1)" marker-end="url(#m1)"/>
<polyline points="270.6,115.2 277.8,118.7 284.9,61.3 292.1,60.6 299.2,25.4 306.4,21.5 313.6,45.8 320.7,89.8 327.9,140.0 335.0,140.3 342.2,177.3 349.4,151.1 356.5,116.5 363.7,93.2 370.8,42.5 378.0,43.1 385.2,28.2 392.3,24.9 399.5,24.6 406.6,81.7 413.8,108.5 421.0,165.7 428.1,154.5 435.3,149.7" fill="none" stroke="#000094" stroke-width="1.2" opacity="0.6" marker-start="url(#m1)" marker-mid="url(#m1)" marker-end="url(#m1)"/>
<polyline points="270.6,98.6 277.8,42.2 284.9,35.8 292.1,52.2 299.2,49.9 306.4,95.5 313.6,96.4 320.7,142.0 327.9,143.8 335.0,159.5 342.2,155.5 349.4,129.3 356.5,103.6 363.7,80.2 370.8,61.3 378.0,38.1 385.2,21.5 392.3,88.3 399.5,102.1 406.6,147.1 413.8,177.3 421.0,152.5 428.1,150.0 435.3,32.0" fill="none" stroke="#000094" stroke-width="1.2" opacity="0.6" marker-start="url(#m1)" marker-mid="url(#m1)" marker-end="url(#m1)"/>
<polyline points="270.6,91.8 277.8,101.1 284.9,33.6 292.1,54.2 299.2,35.1 306.4,52.7 313.6,89.6 320.7,142.5 327.9,177.3 335.0,155.5 342.2,140.9 349.4,107.4 356.5,114.0 363.7,79.2 370.8,21.5 378.0,46.4 385.2,31.7 392.3,72.1 399.5,123.9 406.6,155.2 413.8,158.6 421.0,174.7 428.1,164.0 435.3,126.6" fill="none" stroke="#000094" stroke-width="1.2" opacity="0.6" marker-start="url(#m1)" marker-mid="url(#m1)" marker-end="url(#m1)"/>
<polyline points="270.6,60.2 277.8,44.4 284.9,21.5 292.1,42.5 299.2,55.3 306.4,65.3 313.6,98.3 320.7,146.0 327.9,149.7 335.0,156.0 342.2,114.7 349.4,96.3 356.5,44.0 363.7,25.1 370.8,39.0 378.0,25.8 385.2,52.3 392.3,72.7 399.5,97.7 406.6,139.4 413.8,156.2 421.0,177.3 428.1,132.7 435.3,76.4" fill="none" stroke="#000094" stroke-width="1.2" opacity="0.6" marker-start="url(#m1)" marker-mid="url(#m1)" marker-end="url(#m1)"/>
<polyline points="270.6,136.2 277.8,98.0 284.9,54.5 292.1,49.5 299.2,21.5 306.4,56.7 313.6,66.7 320.7,112.1 327.9,116.1 335.0,159.7 342.2,145.9 349.4,145.2 356.5,137.7 363.7,97.1 370.8,56.9 378.0,35.7 385.2,31.3 392.3,42.3 399.5,61.8 406.6,82.8 413.8,135.4 421.0,144.3 428.1,177.3 435.3,103.6" fill="none" stroke="#000094" stroke-width="1.2" opacity="0.6" marker-start="url(#m1)" marker-mid="url(#m1)" marker-end="url(#m1)"/>
<polyline points="270.6,106.7 277.8,64.2 284.9,48.9 292.1,21.5 299.2,27.7 306.4,43.2 313.6,97.3 320.7,101.6 327.9,127.1 335.0,168.8 342.2,163.3 349.4,149.5 356.5,113.8 363.7,108.5 370.8,50.2 378.0,22.4 385.2,36.8 392.3,44.5 399.5,68.9 406.6,117.9 413.8,130.0 421.0,151.1 428.1,177.3 435.3,80.2" fill="none" stroke="#000094" stroke-width="1.2" opacity="0.6" marker-start="url(#m1)" marker-mid="url(#m1)" marker-end="url(#m1)"/>
<polyline points="270.6,122.6 277.8,90.6 284.9,80.6 292.1,41.8 299.2,21.5 306.4,49.2 313.6,69.6 320.7,135.6 327.9,153.2 335.0,140.3 342.2,169.4 349.4,162.9 356.5,124.0 363.7,71.7 370.8,23.2 378.0,86.9 385.2,33.0 392.3,36.0 399.5,116.6 406.6,153.8 413.8,164.1 421.0,154.6 428.1,177.3 435.3,124.4" fill="none" stroke="#000094" stroke-width="1.2" opacity="0.6" marker-start="url(#m1)" marker-mid="url(#m1)" marker-end="url(#m1)"/>
<polyline points="270.6,87.3 277.8,103.3 284.9,57.5 292.1,33.4 299.2,21.5 306.4,45.9 313.6,109.9 320.7,102.6 327.9,134.6 335.0,177.3 342.2,164.8 349.4,155.5 356.5,128.3 363.7,99.3 370.8,62.9 378.0,32.7 385.2,25.0 392.3,43.0 399.5,54.3 406.6,107.7 413.8,160.1 421.0,142.9 428.1,174.8 435.3,60.5" fill="none" stroke="#000094" stroke-width="1.2" opacity="0.6" marker-start="url(#m1)" marker-mid="url(#m1)" marker-end="url(#m1)"/>
<polyline points="270.6,150.2 277.8,94.6 284.9,73.5 292.1,50.9 299.2,37.8 306.4,37.9 313.6,67.4 320.7,72.9 327.9,96.1 335.0,119.1 342.2,169.1 349.4,151.5 356.5,141.9 363.7,153.8 370.8,70.5 378.0,69.6 385.2,51.1 392.3,21.5 399.5,27.5 406.6,102.1 413.8,134.8 421.0,166.5 428.1,177.3 435.3,124.1" fill="none" stroke="#000094" stroke-width="1.2" opacity="0.6" marker-start="url(#m1)" marker-mid="url(#m1)" marker-end="url(#m1)"/>
<polyline points="270.6,100.4 277.8,99.2 284.9,53.4 292.1,32.2 299.2,23.5 306.4,52.0 313.6,89.3 320.7,115.3 327.9,133.0 335.0,159.6 342.2,142.1 349.4,126.9 356.5,101.7 363.7,104.9 370.8,50.2 378.0,56.7 385.2,21.5 392.3,47.9 399.5,75.6 406.6,128.8 413.8,175.0 421.0,177.3 428.1,165.4 435.3,111.4" fill="none" stroke="#000094" stroke-width="1.2" opacity="0.6" marker-start="url(#m1)" marker-mid="url(#m1)" marker-end="url(#m1)"/>
<polyline points="270.6,97.4 277.8,61.7 284.9,42.9 292.1,52.3 299.2,36.7 306.4,73.1 313.6,108.8 320.7,144.8 327.9,144.8 335.0,174.7 342.2,177.3 349.4,138.2 356.5,122.0 363.7,102.4 370.8,63.0 378.0,21.5 385.2,60.7 392.3,39.0 399.5,130.9 406.6,128.9 413.8,156.3 421.0,166.5 428.1,168.2 435.3,155.0" fill="none" stroke="#000094" stroke-width="1.2" opacity="0.6" marker-start="url(#m1)" marker-mid="url(#m1)" marker-end="url(#m1)"/>
<polyline points="270.6,116.6 277.8,80.1 284.9,68.1 292.1,21.5 299.2,58.1 306.4,37.8 313.6,75.1 320.7,108.2 327.9,119.3 335.0,167.8 342.2,168.4 349.4,143.1 356.5,125.5 363.7,109.8 370.8,64.4 378.0,46.3 385.2,24.5 392.3,61.4 399.5,93.6 406.6,117.5 413.8,157.8 421.0,144.4 428.1,177.3 435.3,129.0" fill="none" stroke="#000094" stroke-width="1.2" opacity="0.6" marker-start="url(#m1)" marker-mid="url(#m1)" marker-end="url(#m1)"/>
<polyline points="270.6,110.7 277.8,87.9 284.9,21.5 292.1,29.3 299.2,61.8 306.4,50.6 313.6,90.9 320.7,108.6 327.9,146.5 335.0,163.1 342.2,127.5 349.4,129.1 356.5,92.0 363.7,59.4 370.8,49.7 378.0,25.0 385.2,57.9 392.3,53.7 399.5,103.1 406.6,136.7 413.8,177.3 421.0,160.3 428.1,162.6 435.3,91.3" fill="none" stroke="#000094" stroke-width="1.2" opacity="0.6" marker-start="url(#m1)" marker-mid="url(#m1)" marker-end="url(#m1)"/>
<polyline points="270.6,129.5 277.8,98.0 284.9,80.0 292.1,58.4 299.2,81.6 306.4,51.7 313.6,68.9 320.7,111.0 327.9,135.8 335.0,177.3 342.2,161.2 349.4,162.9 356.5,149.4 363.7,93.3 370.8,53.8 378.0,56.8 385.2,21.5 392.3,58.2 399.5,126.0 406.6,132.6 413.8,137.5 421.0,169.7 428.1,159.2 435.3,143.0" fill="none" stroke="#000094" stroke-width="1.2" opacity="0.6" marker-start="url(#m1)" marker-mid="url(#m1)" marker-end="url(#m1)"/>
<polyline points="270.6,89.6 277.8,52.2 284.9,59.3 292.1,21.5 299.2,36.7 306.4,69.6 313.6,77.9 320.7,116.1 327.9,152.7 335.0,156.0 342.2,147.7 349.4,106.9 356.5,97.0 363.7,102.0 370.8,80.6 378.0,41.5 385.2,52.9 392.3,62.4 399.5,110.9 406.6,135.9 413.8,129.4 421.0,177.3 428.1,137.1 435.3,103.3" fill="none" stroke="#000094" stroke-width="1.2" opacity="0.6" marker-start="url(#m1)" marker-mid="url(#m1)" marker-end="url(#m1)"/>
<polyline points="270.6,123.4 277.8,68.1 284.9,44.6 292.1,49.4 299.2,42.7 306.4,97.4 313.6,85.9 320.7,133.1 327.9,156.6 335.0,158.5 342.2,154.2 349.4,133.8 356.5,90.6 363.7,51.1 370.8,32.5 378.0,21.5 385.2,43.8 392.3,45.0 399.5,108.7 406.6,145.4 413.8,153.9 421.0,165.5 428.1,177.3 435.3,107.9" fill="none" stroke="#000094" stroke-width="1.2" opacity="0.6" marker-start="url(#m1)" marker-mid="url(#m1)" marker-end="url(#m1)"/>
<polyline points="270.6,140.5 277.8,115.3 284.9,71.6 292.1,47.0 299.2,52.5 306.4,69.2 313.6,74.1 320.7,81.4 327.9,145.4 335.0,132.9 342.2,177.3 349.4,132.4 356.5,136.4 363.7,105.0 370.8,64.5 378.0,35.6 385.2,21.5 392.3,39.9 399.5,70.8 406.6,125.5 413.8,141.9 421.0,154.8 428.1,170.0 435.3,118.4" fill="none" stroke="#000094" stroke-width="1.2" opacity="0.6" marker-start="url(#m1)" marker-mid="url(#m1)" marker-end="url(#m1)"/>
<polyline points="270.6,96.1 277.8,52.3 284.9,53.4 292.1,25.5 299.2,21.5 306.4,89.0 313.6,104.3 320.7,136.9 327.9,177.3 335.0,154.8 342.2,117.7 349.4,120.1 356.5,95.7 363.7,66.2 370.8,65.4 378.0,38.2 385.2,58.9 392.3,75.9 399.5,116.0 406.6,166.2 413.8,163.1 421.0,158.8 428.1,156.9 435.3,86.7" fill="none" stroke="#000094" stroke-width="1.2" opacity="0.6" marker-start="url(#m1)" marker-mid="url(#m1)" marker-end="url(#m1)"/>
<polyline points="270.6,122.8 277.8,61.1 284.9,48.4 292.1,35.7 299.2,48.0 306.4,83.8 313.6,97.0 320.7,115.9 327.9,134.8 335.0,177.3 342.2,141.8 349.4,101.0 356.5,98.5 363.7,52.3 370.8,60.8 378.0,35.4 385.2,21.5 392.3,55.1 399.5,107.3 406.6,137.5 413.8,130.3 421.0,153.5 428.1,169.5 435.3,112.4" fill="none" stroke="#000094" stroke-width="1.2" opacity="0.6" marker-start="url(#m1)" marker-mid="url(#m1)" marker-end="url(#m1)"/>
<polyline points="270.6,112.1 277.8,68.4 284.9,62.2 292.1,21.5 299.2,53.4 306.4,41.0 313.6,84.8 320.7,112.2 327.9,147.6 335.0,173.6 342.2,168.5 349.4,126.6 356.5,125.6 363.7,92.4 370.8,56.1 378.0,33.9 385.2,45.1 392.3,66.4 399.5,117.9 406.6,142.5 413.8,177.3 421.0,158.9 428.1,170.6 435.3,89.1" fill="none" stroke="#000094" stroke-width="1.2" opacity="0.6" marker-start="url(#m1)" marker-mid="url(#m1)" marker-end="url(#m1)"/>
<polyline points="270.6,100.0 277.8,65.9 284.9,36.6 292.1,21.5 299.2,25.4 306.4,70.3 313.6,65.9 320.7,110.1 327.9,142.6 335.0,141.4 342.2,159.7 349.4,117.0 356.5,82.7 363.7,60.9 370.8,33.7 378.0,29.3 385.2,29.2 392.3,42.7 399.5,82.2 406.6,131.6 413.8,145.0 421.0,177.3 428.1,125.0 435.3,80.2" fill="none" stroke="#000094" stroke-width="1.2" opacity="0.6" marker-start="url(#m1)" marker-mid="url(#m1)" marker-end="url(#m1)"/>
<polyline points="270.6,41.9 277.8,21.5 284.9,40.6 292.1,33.8 299.2,54.5 306.4,116.3 313.6,105.1 320.7,131.7 327.9,177.3 335.0,152.4 342.2,106.9 349.4,75.1 356.5,95.8 363.7,59.6 370.8,47.9 378.0,39.4 385.2,68.7 392.3,86.9 399.5,121.0 406.6,163.9 413.8,152.1 421.0,151.4 428.1,146.0 435.3,88.7" fill="none" stroke="#000094" stroke-width="1.2" opacity="0.6" marker-start="url(#m1)" marker-mid="url(#m1)" marker-end="url(#m1)"/>
<polyline points="270.6,94.3 277.8,62.5 284.9,41.9 292.1,21.5 299.2,49.8 306.4,107.5 313.6,94.9 320.7,166.0 327.9,139.5 335.0,163.7 342.2,156.1 349.4,149.8 356.5,95.6 363.7,66.2 370.8,51.9 378.0,22.0 385.2,33.2 392.3,57.2 399.5,138.4 406.6,168.5 413.8,156.5 421.0,177.3 428.1,157.7 435.3,85.8" fill="none" stroke="#000094" stroke-width="1.2" opacity="0.6" marker-start="url(#m1)" marker-mid="url(#m1)" marker-end="url(#m1)"/>
<polyline points="270.6,130.7 277.8,95.5 284.9,63.8 292.1,47.5 299.2,34.6 306.4,60.0 313.6,83.4 320.7,79.6 327.9,136.6 335.0,175.9 342.2,134.2 349.4,118.1 356.5,127.0 363.7,118.2 370.8,42.5 378.0,31.4 385.2,21.5 392.3,51.3 399.5,66.0 406.6,107.7 413.8,139.0 421.0,174.7 428.1,177.3 435.3,145.4" fill="none" stroke="#000094" stroke-width="1.2" opacity="0.6" marker-start="url(#m1)" marker-mid="url(#m1)" marker-end="url(#m1)"/>
<polyline points="270.6,81.0 277.8,96.3 284.9,62.2 292.1,49.2 299.2,52.8 306.4,49.7 313.6,106.1 320.7,89.7 327.9,170.0 335.0,161.0 342.2,150.3 349.4,100.9 356.5,119.4 363.7,90.4 370.8,74.7 378.0,54.1 385.2,21.5 392.3,90.9 399.5,118.2 406.6,125.2 413.8,162.1 421.0,146.3 428.1,177.3 435.3,78.4" fill="none" stroke="#000094" stroke-width="1.2" opacity="0.6" marker-start="url(#m1)" marker-mid="url(#m1)" marker-end="url(#m1)"/>
<polyline points="270.6,141.0 277.8,116.5 284.9,47.4 292.1,50.6 299.2,33.1 306.4,21.5 313.6,84.2 320.7,85.7 327.9,131.7 335.0,160.0 342.2,177.3 349.4,157.5 356.5,139.3 363.7,96.2 370.8,86.2 378.0,34.0 385.2,44.8 392.3,46.4 399.5,43.9 406.6,106.0 413.8,139.4 421.0,171.6 428.1,169.4 435.3,62.0" fill="none" stroke="#000094" stroke-width="1.2" opacity="0.6" marker-start="url(#m1)" marker-mid="url(#m1)" marker-end="url(#m1)"/>
<polyline points="270.6,102.5 277.8,71.5 284.9,44.2 292.1,33.8 299.2,35.4 306.4,73.2 313.6,124.0 320.7,138.6 327.9,129.6 335.0,133.3 342.2,177.3 349.4,108.0 356.5,84.5 363.7,87.6 370.8,21.5 378.0,46.1 385.2,44.4 392.3,71.6 399.5,71.2 406.6,114.7 413.8,148.6 421.0,164.7 428.1,175.6 435.3,102.4" fill="none" stroke="#000094" stroke-width="1.2" opacity="0.6" marker-start="url(#m1)" marker-mid="url(#m1)" marker-end="url(#m1)"/>
<polyline points="270.6,58.3 277.8,30.2 284.9,56.2 292.1,21.5 299.2,78.1 306.4,98.8 313.6,104.3 320.7,141.0 327.9,147.6 335.0,160.4 342.2,159.9 349.4,128.3 356.5,105.2 363.7,51.8 370.8,38.7 378.0,26.8 385.2,70.8 392.3,93.1 399.5,130.5 406.6,160.9 413.8,177.3 421.0,158.4 428.1,160.1 435.3,103.8" fill="none" stroke="#000094" stroke-width="1.2" opacity="0.6" marker-start="url(#m1)" marker-mid="url(#m1)" marker-end="url(#m1)"/>
<polyline points="270.6,84.9 277.8,82.0 284.9,53.7 292.1,27.0 299.2,39.5 306.4,95.9 313.6,94.5 320.7,133.2 327.9,151.7 335.0,139.9 342.2,146.2 349.4,125.8 356.5,108.9 363.7,60.0 370.8,38.4 378.0,33.1 385.2,21.5 392.3,65.3 399.5,105.7 406.6,123.1 413.8,145.5 421.0,147.2 428.1,177.3 435.3,83.8" fill="none" stroke="#000094" stroke-width="1.2" opacity="0.6" marker-start="url(#m1)" marker-mid="url(#m1)" marker-end="url(#m1)"/>
<polyline points="270.6,157.1 277.8,90.1 284.9,66.8 292.1,43.2 299.2,47.0 306.4,45.7 313.6,81.2 320.7,65.0 327.9,102.3 335.0,151.3 342.2,163.1 349.4,172.0 356.5,128.4 363.7,115.2 370.8,76.7 378.0,26.8 385.2,32.5 392.3,21.5 399.5,59.7 406.6,107.4 413.8,152.9 421.0,168.3 428.1,177.3 435.3,136.6" fill="none" stroke="#000094" stroke-width="1.2" opacity="0.6" marker-start="url(#m1)" marker-mid="url(#m1)" marker-end="url(#m1)"/>
<polyline points="270.6,98.6 277.8,64.9 284.9,56.0 292.1,43.0 299.2,21.5 306.4,38.8 313.6,66.0 320.7,86.2 327.9,148.3 335.0,159.0 342.2,167.4 349.4,148.6 356.5,98.7 363.7,71.3 370.8,41.6 378.0,22.6 385.2,36.3 392.3,30.3 399.5,95.5 406.6,106.6 413.8,155.6 421.0,177.3 428.1,132.5 435.3,113.3" fill="none" stroke="#000094" stroke-width="1.2" opacity="0.6" marker-start="url(#m1)" marker-mid="url(#m1)" marker-end="url(#m1)"/>
<polyline points="270.6,137.2 277.8,71.6 284.9,31.4 292.1,48.5 299.2,37.2 306.4,58.9 313.6,87.5 320.7,107.1 327.9,122.6 335.0,168.6 342.2,165.8 349.4,123.1 356.5,95.1 363.7,73.9 370.8,37.8 378.0,21.5 385.2,40.9 392.3,65.2 399.5,94.8 406.6,131.6 413.8,161.4 421.0,177.3 428.1,169.3 435.3,52.9" fill="none" stroke="#000094" stroke-width="1.2" opacity="0.6" marker-start="url(#m1)" marker-mid="url(#m1)" marker-end="url(#m1)"/>
<polyline points="270.6,68.9 277.8,71.9 284.9,21.5 292.1,22.1 299.2,53.9 306.4,116.9 313.6,105.5 320.7,107.8 327.9,163.1 335.0,133.0 342.2,124.3 349.4,104.1 356.5,98.4 363.7,55.1 370.8,44.4 378.0,27.7 385.2,77.5 392.3,75.0 399.5,115.5 406.6,168.2 413.8,177.3 421.0,155.2 428.1,127.5 435.3,87.5" fill="none" stroke="#000094" stroke-width="1.2" opacity="0.6" marker-start="url(#m1)" marker-mid="url(#m1)" marker-end="url(#m1)"/>
<polyline points="270.6,152.5 277.8,77.3 284.9,45.7 292.1,45.1 299.2,21.5 306.4,83.0 313.6,85.9 320.7,145.9 327.9,148.7 335.0,151.2 342.2,173.2 349.4,117.6 356.5,123.4 363.7,107.6 370.8,62.3 378.0,28.9 385.2,45.7 392.3,53.6 399.5,78.9 406.6,123.9 413.8,157.5 421.0,177.3 428.1,169.6 435.3,61.1" fill="none" stroke="#000094" stroke-width="1.2" opacity="0.6" marker-start="url(#m1)" marker-mid="url(#m1)" marker-end="url(#m1)"/>
<polyline points="270.6,90.7 277.8,82.5 284.9,21.5 292.1,30.3 299.2,48.2 306.4,90.5 313.6,105.2 320.7,133.6 327.9,138.9 335.0,177.3 342.2,118.1 349.4,103.6 356.5,103.7 363.7,76.4 370.8,47.9 378.0,60.3 385.2,59.1 392.3,83.7 399.5,92.6 406.6,151.0 413.8,160.3 421.0,142.5 428.1,169.3 435.3,87.2" fill="none" stroke="#000094" stroke-width="1.2" opacity="0.6" marker-start="url(#m1)" marker-mid="url(#m1)" marker-end="url(#m1)"/>
<polyline points="270.6,89.7 277.8,81.8 284.9,69.0 292.1,56.9 299.2,57.6 306.4,58.7 313.6,109.5 320.7,141.0 327.9,128.4 335.0,145.1 342.2,150.2 349.4,132.2 356.5,88.2 363.7,84.4 370.8,62.2 378.0,21.5 385.2,63.9 392.3,95.8 399.5,90.9 406.6,140.1 413.8,157.8 421.0,166.7 428.1,177.3 435.3,138.7" fill="none" stroke="#000094" stroke-width="1.2" opacity="0.6" marker-start="url(#m1)" marker-mid="url(#m1)" marker-end="url(#m1)"/>
<polyline points="270.6,164.6 277.8,141.1 284.9,69.3 292.1,61.0 299.2,21.5 306.4,58.4 313.6,36.1 320.7,57.1 327.9,141.2 335.0,118.9 342.2,167.0 349.4,152.1 356.5,154.6 363.7,105.7 370.8,67.4 378.0,46.5 385.2,26.2 392.3,34.3 399.5,51.7 406.6,114.2 413.8,136.9 421.0,177.3 428.1,173.5 435.3,143.8" fill="none" stroke="#000094" stroke-width="1.2" opacity="0.6" marker-start="url(#m1)" marker-mid="url(#m1)" marker-end="url(#m1)"/>
<polyline points="270.6,74.8 277.8,39.4 284.9,58.5 292.1,34.1 299.2,25.8 306.4,63.7 313.6,98.1 320.7,98.9 327.9,148.7 335.0,177.3 342.2,156.3 349.4,99.3 356.5,84.8 363.7,78.6 370.8,35.5 378.0,21.5 385.2,29.1 392.3,41.1 399.5,78.8 406.6,124.7 413.8,150.4 421.0,146.6 428.1,163.6 435.3,138.0" fill="none" stroke="#000094" stroke-width="1.2" opacity="0.6" marker-start="url(#m1)" marker-mid="url(#m1)" marker-end="url(#m1)"/>
<polyline points="270.6,120.6 277.8,94.5 284.9,21.5 292.1,25.4 299.2,45.0 306.4,70.1 313.6,94.7 320.7,83.6 327.9,134.1 335.0,172.5 342.2,145.6 349.4,151.3 356.5,100.1 363.7,65.2 370.8,31.6 378.0,24.3 385.2,32.5 392.3,76.3 399.5,86.5 406.6,109.3 413.8,177.3 421.0,154.8 428.1,173.3 435.3,122.4" fill="none" stroke="#000094" stroke-width="1.2" opacity="0.6" marker-start="url(#m1)" marker-mid="url(#m1)" marker-end="url(#m1)"/>
<polyline points="270.6,82.8 277.8,114.3 284.9,81.7 292.1,51.7 299.2,50.3 306.4,86.8 313.6,116.4 320.7,129.4 327.9,144.3 335.0,143.8 342.2,135.1 349.4,117.5 356.5,109.1 363.7,84.4 370.8,41.2 378.0,21.5 385.2,47.3 392.3,107.8 399.5,98.9 406.6,118.7 413.8,157.1 421.0,177.3 428.1,174.1 435.3,100.3" fill="none" stroke="#000094" stroke-width="1.2" opacity="0.6" marker-start="url(#m1)" marker-mid="url(#m1)" marker-end="url(#m1)"/>
<polyline points="270.6,68.8 277.8,72.2 284.9,44.0 292.1,21.5 299.2,74.3 306.4,72.4 313.6,112.4 320.7,114.3 327.9,139.7 335.0,162.9 342.2,137.7 349.4,91.4 356.5,103.2 363.7,79.1 370.8,57.8 378.0,30.9 385.2,77.8 392.3,93.9 399.5,118.0 406.6,150.4 413.8,160.2 421.0,171.8 428.1,177.3 435.3,67.4" fill="none" stroke="#000094" stroke-width="1.2" opacity="0.6" marker-start="url(#m1)" marker-mid="url(#m1)" marker-end="url(#m1)"/>
<polyline points="270.6,77.4 277.8,60.7 284.9,22.5 292.1,23.6 299.2,21.5 306.4,116.8 313.6,123.1 320.7,152.0 327.9,135.9 335.0,177.3 342.2,114.5 349.4,138.6 356.5,68.1 363.7,68.4 370.8,53.2 378.0,33.0 385.2,65.2 392.3,86.3 399.5,128.7 406.6,170.1 413.8,162.1 421.0,177.3 428.1,164.7 435.3,71.3" fill="none" stroke="#000094" stroke-width="1.2" opacity="0.6" marker-start="url(#m1)" marker-mid="url(#m1)" marker-end="url(#m1)"/>
<polyline points="270.6,121.2 277.8,69.9 284.9,48.9 292.1,21.5 299.2,55.4 306.4,64.1 313.6,110.0 320.7,146.2 327.9,120.7 335.0,177.3 342.2,121.9 349.4,145.4 356.5,88.9 363.7,60.5 370.8,38.4 378.0,36.8 385.2,55.8 392.3,75.0 399.5,84.8 406.6,122.2 413.8,126.1 421.0,148.3 428.1,145.0 435.3,97.2" fill="none" stroke="#000094" stroke-width="1.2" opacity="0.6" marker-start="url(#m1)" marker-mid="url(#m1)" marker-end="url(#m1)"/>
<polyline points="270.6,101.9 277.8,74.0 284.9,21.5 292.1,24.5 299.2,72.2 306.4,101.1 313.6,111.3 320.7,157.1 327.9,127.4 335.0,141.2 342.2,128.9 349.4,136.3 356.5,102.3 363.7,48.6 370.8,55.5 378.0,28.2 385.2,50.2 392.3,63.7 399.5,109.9 406.6,140.2 413.8,177.3 421.0,165.2 428.1,162.9 435.3,103.1" fill="none" stroke="#000094" stroke-width="1.2" opacity="0.6" marker-start="url(#m1)" marker-mid="url(#m1)" marker-end="url(#m1)"/>
<polyline points="270.6,62.7 277.8,49.9 284.9,28.7 292.1,21.5 299.2,31.8 306.4,42.8 313.6,91.1 320.7,104.9 327.9,133.7 335.0,177.3 342.2,145.2 349.4,109.7 356.5,114.0 363.7,41.1 370.8,51.4 378.0,30.5 385.2,45.9 392.3,50.5 399.5,83.7 406.6,103.5 413.8,131.2 421.0,143.1 428.1,152.6 435.3,127.0" fill="none" stroke="#000094" stroke-width="1.2" opacity="0.6" marker-start="url(#m1)" marker-mid="url(#m1)" marker-end="url(#m1)"/>
<polyline points="270.6,61.2 277.8,59.9 284.9,37.2 292.1,21.5 299.2,30.2 306.4,58.9 313.6,92.3 320.7,136.0 327.9,143.3 335.0,131.5 342.2,149.0 349.4,124.4 356.5,99.0 363.7,51.7 370.8,49.2 378.0,30.9 385.2,38.5 392.3,98.0 399.5,95.2 406.6,156.2 413.8,170.2 421.0,177.3 428.1,158.3 435.3,79.6" fill="none" stroke="#000094" stroke-width="1.2" opacity="0.6" marker-start="url(#m1)" marker-mid="url(#m1)" marker-end="url(#m1)"/>
<polyline points="270.6,111.4 277.8,79.4 284.9,46.4 292.1,21.5 299.2,35.4 306.4,57.2 313.6,105.4 320.7,90.7 327.9,139.3 335.0,177.1 342.2,168.3 349.4,148.7 356.5,112.9 363.7,70.0 370.8,51.4 378.0,44.9 385.2,40.4 392.3,72.8 399.5,83.4 406.6,110.8 413.8,163.3 421.0,177.3 428.1,153.5 435.3,80.8" fill="none" stroke="#000094" stroke-width="1.2" opacity="0.6" marker-start="url(#m1)" marker-mid="url(#m1)" marker-end="url(#m1)"/>
<polyline points="270.6,85.6 277.8,68.3 284.9,56.7 292.1,60.0 299.2,52.8 306.4,69.5 313.6,79.5 320.7,92.0 327.9,137.1 335.0,146.1 342.2,118.6 349.4,158.9 356.5,111.1 363.7,94.4 370.8,69.5 378.0,44.7 385.2,40.8 392.3,21.5 399.5,77.5 406.6,99.8 413.8,177.3 421.0,153.3 428.1,172.8 435.3,96.4" fill="none" stroke="#000094" stroke-width="1.2" opacity="0.6" marker-start="url(#m1)" marker-mid="url(#m1)" marker-end="url(#m1)"/>
<polyline points="270.6,112.0 277.8,52.6 284.9,56.2 292.1,69.3 299.2,48.6 306.4,93.2 313.6,92.3 320.7,113.4 327.9,125.8 335.0,129.8 342.2,150.3 349.4,123.0 356.5,99.7 363.7,92.1 370.8,63.5 378.0,21.5 385.2,57.6 392.3,59.9 399.5,59.1 406.6,127.5 413.8,122.1 421.0,177.3 428.1,167.7 435.3,65.2" fill="none" stroke="#000094" stroke-width="1.2" opacity="0.6" marker-start="url(#m1)" marker-mid="url(#m1)" marker-end="url(#m1)"/>
<polyline points="270.6,72.8 277.8,54.9 284.9,21.5 292.1,38.5 299.2,24.9 306.4,47.3 313.6,87.6 320.7,121.0 327.9,155.3 335.0,153.3 342.2,135.2 349.4,100.4 356.5,109.4 363.7,48.0 370.8,27.7 378.0,32.2 385.2,53.4 392.3,67.3 399.5,96.9 406.6,129.6 413.8,140.7 421.0,177.3 428.1,141.4 435.3,89.8" fill="none" stroke="#000094" stroke-width="1.2" opacity="0.6" marker-start="url(#m1)" marker-mid="url(#m1)" marker-end="url(#m1)"/>
<polyline points="270.6,64.0 277.8,38.4 284.9,23.2 292.1,36.2 299.2,55.3 306.4,91.6 313.6,130.4 320.7,143.3 327.9,168.4 335.0,124.7 342.2,100.6 349.4,134.3 356.5,74.5 363.7,53.8 370.8,38.9 378.0,21.5 385.2,106.2 392.3,75.7 399.5,155.4 406.6,152.3 413.8,177.3 421.0,177.2 428.1,145.9 435.3,91.7" fill="none" stroke="#000094" stroke-width="1.2" opacity="0.6" marker-start="url(#m1)" marker-mid="url(#m1)" marker-end="url(#m1)"/>
<rect x="262.4" y="13.6" width="180.90000000000003" height="171.5" fill="none" stroke="#333" stroke-width="1"/>
<line x1="270.60" y1="185.1" x2="270.60" y2="187.9" stroke="#333" stroke-width="0.9"/>
<text x="270.60" y="197.20" font-size="8.8" text-anchor="middle">18</text>
<line x1="313.56" y1="185.1" x2="313.56" y2="187.9" stroke="#333" stroke-width="0.9"/>
<text x="313.56" y="197.20" font-size="8.8" text-anchor="middle">30</text>
<line x1="356.52" y1="185.1" x2="356.52" y2="187.9" stroke="#333" stroke-width="0.9"/>
<text x="356.52" y="197.20" font-size="8.8" text-anchor="middle">42</text>
<line x1="399.48" y1="185.1" x2="399.48" y2="187.9" stroke="#333" stroke-width="0.9"/>
<text x="399.48" y="197.20" font-size="8.8" text-anchor="middle">54</text>
<line x1="442.44" y1="185.1" x2="442.44" y2="187.9" stroke="#333" stroke-width="0.9"/>
<text x="442.44" y="197.20" font-size="8.8" text-anchor="middle">66</text>
<line x1="259.59999999999997" y1="177.30" x2="262.4" y2="177.30" stroke="#333" stroke-width="0.9"/>
<text x="256.90" y="179.90" font-size="8.8" text-anchor="end">0.0</text>
<line x1="259.59999999999997" y1="146.14" x2="262.4" y2="146.14" stroke="#333" stroke-width="0.9"/>
<line x1="259.59999999999997" y1="114.98" x2="262.4" y2="114.98" stroke="#333" stroke-width="0.9"/>
<line x1="259.59999999999997" y1="83.82" x2="262.4" y2="83.82" stroke="#333" stroke-width="0.9"/>
<line x1="259.59999999999997" y1="52.66" x2="262.4" y2="52.66" stroke="#333" stroke-width="0.9"/>
<line x1="259.59999999999997" y1="21.50" x2="262.4" y2="21.50" stroke="#333" stroke-width="0.9"/>
<text x="256.90" y="24.10" font-size="8.8" text-anchor="end">1.0</text>
<rect x="493.3" y="13.6" width="180.99999999999994" height="171.5" fill="#7b7b7b"/>
<line x1="501.50" y1="13.6" x2="501.50" y2="185.1" stroke="#c8c8c8" stroke-width="0.9"/>
<line x1="544.50" y1="13.6" x2="544.50" y2="185.1" stroke="#c8c8c8" stroke-width="0.9"/>
<line x1="587.49" y1="13.6" x2="587.49" y2="185.1" stroke="#c8c8c8" stroke-width="0.9"/>
<line x1="630.49" y1="13.6" x2="630.49" y2="185.1" stroke="#c8c8c8" stroke-width="0.9"/>
<line x1="673.48" y1="13.6" x2="673.48" y2="185.1" stroke="#c8c8c8" stroke-width="0.9"/>
<line x1="493.3" y1="177.30" x2="674.3" y2="177.30" stroke="#c8c8c8" stroke-width="0.9"/>
<line x1="493.3" y1="146.14" x2="674.3" y2="146.14" stroke="#c8c8c8" stroke-width="0.9"/>
<line x1="493.3" y1="114.98" x2="674.3" y2="114.98" stroke="#c8c8c8" stroke-width="0.9"/>
<line x1="493.3" y1="83.82" x2="674.3" y2="83.82" stroke="#c8c8c8" stroke-width="0.9"/>
<line x1="493.3" y1="52.66" x2="674.3" y2="52.66" stroke="#c8c8c8" stroke-width="0.9"/>
<line x1="493.3" y1="21.50" x2="674.3" y2="21.50" stroke="#c8c8c8" stroke-width="0.9"/>
<polyline points="501.5,152.8 508.7,136.0 515.8,112.0 523.0,69.5 530.2,57.3 537.3,32.0 544.5,21.5 551.7,86.3 558.8,125.1 566.0,136.7 573.2,159.9 580.3,167.3 587.5,170.9 594.7,122.7 601.8,72.2 609.0,79.6 616.2,43.9 623.3,71.8 630.5,78.5 637.7,121.2 644.8,126.6 652.0,177.3 659.2,164.0 666.3,163.8" fill="none" stroke="#3333ff" stroke-width="1.1" opacity="0.7" marker-start="url(#m2)" marker-mid="url(#m2)" marker-end="url(#m2)"/>
<polyline points="501.5,95.6 508.7,82.5 515.8,102.0 523.0,128.7 530.2,177.3 537.3,171.2 544.5,173.8 551.7,151.9 558.8,94.8 566.0,95.2 573.2,61.4 580.3,38.6 587.5,68.6 594.7,82.0 601.8,107.0 609.0,136.1 616.2,176.5 623.3,162.7 630.5,133.7 637.7,157.0 644.8,90.5 652.0,74.3 659.2,67.4 666.3,21.5" fill="none" stroke="#ff6666" stroke-width="1.1" opacity="0.7" marker-start="url(#m3)" marker-mid="url(#m3)" marker-end="url(#m3)"/>
<polyline points="501.5,177.3 508.7,141.4 515.8,105.6 523.0,86.0 530.2,41.0 537.3,35.9 544.5,21.5 551.7,23.5 558.8,88.8 566.0,106.5 573.2,146.9 580.3,152.8 587.5,175.3 594.7,147.2 601.8,111.1 609.0,58.9 616.2,27.0 623.3,55.9 630.5,49.5 637.7,43.5 644.8,120.1 652.0,126.1 659.2,146.0 666.3,134.5" fill="none" stroke="#8080ff" stroke-width="1.1" opacity="0.7" marker-start="url(#m4)" marker-mid="url(#m4)" marker-end="url(#m4)"/>
<polyline points="501.5,50.1 508.7,55.5 515.8,75.1 523.0,74.8 530.2,146.3 537.3,171.1 544.5,170.5 551.7,172.5 558.8,150.3 566.0,133.8 573.2,78.6 580.3,61.2 587.5,21.5 594.7,40.3 601.8,78.4 609.0,99.8 616.2,152.5 623.3,150.3 630.5,177.3 637.7,154.8 644.8,163.0 652.0,97.4 659.2,102.5 666.3,87.0" fill="none" stroke="#ffc2c2" stroke-width="1.1" opacity="0.7" marker-start="url(#m5)" marker-mid="url(#m5)" marker-end="url(#m5)"/>
<polyline points="501.5,143.3 508.7,100.2 515.8,36.9 523.0,60.3 530.2,42.8 537.3,30.9 544.5,42.8 551.7,80.6 558.8,111.1 566.0,121.2 573.2,136.4 580.3,157.9 587.5,124.5 594.7,94.8 601.8,82.4 609.0,38.0 616.2,45.3 623.3,21.5 630.5,53.7 637.7,83.9 644.8,124.2 652.0,138.7 659.2,177.3 666.3,156.1" fill="none" stroke="#4d4dff" stroke-width="1.1" opacity="0.7" marker-start="url(#m6)" marker-mid="url(#m6)" marker-end="url(#m6)"/>
<polyline points="501.5,66.8 508.7,21.5 515.8,98.0 523.0,85.7 530.2,149.9 537.3,141.6 544.5,159.1 551.7,177.3 558.8,95.6 566.0,56.3 573.2,52.2 580.3,35.4 587.5,30.4 594.7,61.7 601.8,52.3 609.0,119.4 616.2,141.8 623.3,174.6 630.5,171.9 637.7,166.4 644.8,86.8 652.0,77.8 659.2,25.9 666.3,27.5" fill="none" stroke="#ff3d3d" stroke-width="1.1" opacity="0.7" marker-start="url(#m7)" marker-mid="url(#m7)" marker-end="url(#m7)"/>
<polyline points="501.5,140.2 508.7,111.5 515.8,67.6 523.0,50.0 530.2,39.8 537.3,68.8 544.5,83.4 551.7,72.0 558.8,147.4 566.0,177.3 573.2,158.5 580.3,127.4 587.5,153.2 594.7,96.4 601.8,72.0 609.0,71.5 616.2,21.5 623.3,49.1 630.5,75.2 637.7,124.6 644.8,133.8 652.0,171.2 659.2,166.0 666.3,167.9" fill="none" stroke="#6666ff" stroke-width="1.1" opacity="0.7" marker-start="url(#m8)" marker-mid="url(#m8)" marker-end="url(#m8)"/>
<polyline points="501.5,46.9 508.7,111.5 515.8,130.1 523.0,160.5 530.2,177.3 537.3,170.3 544.5,126.3 551.7,110.4 558.8,75.5 566.0,49.4 573.2,21.5 580.3,40.7 587.5,71.2 594.7,121.0 601.8,167.2 609.0,147.0 616.2,151.9 623.3,159.1 630.5,120.3 637.7,82.7 644.8,51.1 652.0,29.9 659.2,51.5 666.3,31.0" fill="none" stroke="#ff9999" stroke-width="1.1" opacity="0.7" marker-start="url(#m9)" marker-mid="url(#m9)" marker-end="url(#m9)"/>
<polyline points="501.5,100.2 508.7,77.9 515.8,48.9 523.0,21.5 530.2,29.1 537.3,83.4 544.5,116.6 551.7,107.4 558.8,156.7 566.0,152.8 573.2,136.6 580.3,156.0 587.5,137.0 594.7,74.8 601.8,56.7 609.0,51.8 616.2,53.1 623.3,84.9 630.5,121.0 637.7,128.2 644.8,160.0 652.0,177.3 659.2,138.4 666.3,126.8" fill="none" stroke="#9999ff" stroke-width="1.1" opacity="0.7" marker-start="url(#m10)" marker-mid="url(#m10)" marker-end="url(#m10)"/>
<polyline points="501.5,40.8 508.7,45.3 515.8,81.2 523.0,117.1 530.2,131.7 537.3,177.3 544.5,160.4 551.7,146.9 558.8,81.5 566.0,113.5 573.2,30.3 580.3,27.2 587.5,21.5 594.7,67.5 601.8,79.1 609.0,93.1 616.2,145.2 623.3,163.0 630.5,172.2 637.7,123.7 644.8,114.5 652.0,120.6 659.2,55.6 666.3,63.1" fill="none" stroke="#ffe5e5" stroke-width="1.1" opacity="0.7" marker-start="url(#m11)" marker-mid="url(#m11)" marker-end="url(#m11)"/>
<polyline points="501.5,64.9 508.7,21.5 515.8,49.2 523.0,91.3 530.2,118.0 537.3,114.1 544.5,154.7 551.7,165.9 558.8,159.9 566.0,135.7 573.2,91.2 580.3,64.3 587.5,47.8 594.7,62.1 601.8,45.2 609.0,90.0 616.2,91.2 623.3,162.4 630.5,163.6 637.7,166.6 644.8,177.3 652.0,99.4 659.2,71.8 666.3,75.1" fill="none" stroke="#adadff" stroke-width="1.1" opacity="0.7" marker-start="url(#m12)" marker-mid="url(#m12)" marker-end="url(#m12)"/>
<polyline points="501.5,32.9 508.7,91.1 515.8,58.2 523.0,95.9 530.2,128.0 537.3,177.3 544.5,175.5 551.7,168.7 558.8,121.4 566.0,104.4 573.2,76.3 580.3,21.5 587.5,49.1 594.7,53.5 601.8,103.7 609.0,74.5 616.2,119.6 623.3,145.3 630.5,158.6 637.7,159.3 644.8,131.9 652.0,106.4 659.2,72.3 666.3,44.4" fill="none" stroke="#ffcccc" stroke-width="1.1" opacity="0.7" marker-start="url(#m13)" marker-mid="url(#m13)" marker-end="url(#m13)"/>
<polyline points="501.5,160.4 508.7,172.8 515.8,165.1 523.0,135.1 530.2,56.7 537.3,46.9 544.5,38.4 551.7,47.9 558.8,82.1 566.0,94.5 573.2,112.4 580.3,165.8 587.5,177.3 594.7,173.1 601.8,145.2 609.0,144.4 616.2,83.1 623.3,67.0 630.5,21.5 637.7,59.4 644.8,57.3 652.0,73.3 659.2,143.3 666.3,175.0" fill="none" stroke="#c2c2ff" stroke-width="1.1" opacity="0.7" marker-start="url(#m14)" marker-mid="url(#m14)" marker-end="url(#m14)"/>
<polyline points="501.5,38.4 508.7,68.8 515.8,70.3 523.0,76.0 530.2,144.4 537.3,161.3 544.5,177.3 551.7,138.5 558.8,137.7 566.0,102.7 573.2,33.4 580.3,55.1 587.5,21.5 594.7,31.0 601.8,81.7 609.0,109.1 616.2,112.1 623.3,163.2 630.5,167.2 637.7,161.3 644.8,107.4 652.0,50.3 659.2,33.5 666.3,54.2" fill="none" stroke="#ff8f8f" stroke-width="1.1" opacity="0.7" marker-start="url(#m15)" marker-mid="url(#m15)" marker-end="url(#m15)"/>
<polyline points="501.5,135.7 508.7,85.0 515.8,60.4 523.0,29.0 530.2,21.5 537.3,46.0 544.5,69.4 551.7,100.5 558.8,139.4 566.0,149.5 573.2,126.9 580.3,136.1 587.5,116.5 594.7,113.8 601.8,41.8 609.0,67.2 616.2,55.7 623.3,29.8 630.5,63.8 637.7,116.3 644.8,177.3 652.0,169.0 659.2,173.6 666.3,128.9" fill="none" stroke="#d6d6ff" stroke-width="1.1" opacity="0.7" marker-start="url(#m16)" marker-mid="url(#m16)" marker-end="url(#m16)"/>
<polyline points="501.5,46.5 508.7,39.3 515.8,37.4 523.0,25.0 530.2,55.8 537.3,114.1 544.5,125.1 551.7,177.3 558.8,137.9 566.0,125.7 573.2,95.2 580.3,88.9 587.5,32.1 594.7,21.5 601.8,22.0 609.0,36.5 616.2,88.1 623.3,130.0 630.5,118.9 637.7,161.2 644.8,155.0 652.0,120.8 659.2,144.3 666.3,85.6" fill="none" stroke="#ff7a7a" stroke-width="1.1" opacity="0.7" marker-start="url(#m17)" marker-mid="url(#m17)" marker-end="url(#m17)"/>
<polyline points="501.5,36.8 508.7,63.3 515.8,65.8 523.0,111.8 530.2,164.7 537.3,177.3 544.5,148.9 551.7,139.4 558.8,152.0 566.0,64.6 573.2,49.7 580.3,21.5 587.5,51.9 594.7,67.6 601.8,110.3 609.0,80.0 616.2,152.7 623.3,136.3 630.5,171.3 637.7,138.5 644.8,140.2 652.0,86.4 659.2,37.9 666.3,64.3" fill="none" stroke="#ff5252" stroke-width="1.1" opacity="0.7" marker-start="url(#m18)" marker-mid="url(#m18)" marker-end="url(#m18)"/>
<polyline points="501.5,148.8 508.7,163.2 515.8,134.5 523.0,105.8 530.2,71.4 537.3,58.7 544.5,56.6 551.7,57.3 558.8,90.1 566.0,122.7 573.2,131.0 580.3,135.4 587.5,177.3 594.7,143.1 601.8,130.2 609.0,106.4 616.2,51.4 623.3,55.4 630.5,21.5 637.7,69.0 644.8,75.1 652.0,113.6 659.2,147.7 666.3,142.5" fill="none" stroke="#e5e5ff" stroke-width="1.1" opacity="0.7" marker-start="url(#m19)" marker-mid="url(#m19)" marker-end="url(#m19)"/>
<polyline points="501.5,22.3 508.7,53.7 515.8,103.4 523.0,119.3 530.2,143.3 537.3,139.5 544.5,167.6 551.7,130.5 558.8,128.8 566.0,53.0 573.2,58.8 580.3,61.4 587.5,37.7 594.7,40.1 601.8,119.8 609.0,144.7 616.2,162.2 623.3,177.3 630.5,140.5 637.7,136.9 644.8,102.3 652.0,46.8 659.2,48.7 666.3,21.5" fill="none" stroke="#ffa3a3" stroke-width="1.1" opacity="0.7" marker-start="url(#m20)" marker-mid="url(#m20)" marker-end="url(#m20)"/>
<polyline points="501.5,77.4 508.7,115.0 515.8,85.5 523.0,146.3 530.2,149.9 537.3,151.2 544.5,129.8 551.7,103.3 558.8,42.6 566.0,66.5 573.2,64.0 580.3,60.4 587.5,85.5 594.7,80.7 601.8,109.6 609.0,161.3 616.2,177.3 623.3,153.2 630.5,103.4 637.7,142.3 644.8,58.2 652.0,63.0 659.2,21.5 666.3,65.2" fill="none" stroke="#ff2929" stroke-width="1.1" opacity="0.7" marker-start="url(#m21)" marker-mid="url(#m21)" marker-end="url(#m21)"/>
<polyline points="501.5,62.3 508.7,74.0 515.8,64.2 523.0,105.3 530.2,149.9 537.3,167.3 544.5,177.3 551.7,129.4 558.8,92.2 566.0,62.2 573.2,40.0 580.3,50.1 587.5,41.7 594.7,65.0 601.8,73.9 609.0,94.4 616.2,149.3 623.3,165.3 630.5,141.8 637.7,125.8 644.8,96.3 652.0,55.0 659.2,52.8 666.3,21.5" fill="none" stroke="#ffb8b8" stroke-width="1.1" opacity="0.7" marker-start="url(#m22)" marker-mid="url(#m22)" marker-end="url(#m22)"/>
<polyline points="501.5,134.8 508.7,114.0 515.8,88.5 523.0,59.8 530.2,25.5 537.3,28.8 544.5,30.0 551.7,65.0 558.8,127.2 566.0,131.6 573.2,177.3 580.3,163.6 587.5,139.1 594.7,141.6 601.8,63.9 609.0,32.1 616.2,21.5 623.3,28.8 630.5,48.2 637.7,92.5 644.8,115.0 652.0,149.7 659.2,151.6 666.3,171.9" fill="none" stroke="#8f8fff" stroke-width="1.1" opacity="0.7" marker-start="url(#m23)" marker-mid="url(#m23)" marker-end="url(#m23)"/>
<polyline points="501.5,29.1 508.7,48.7 515.8,83.9 523.0,101.0 530.2,177.3 537.3,156.9 544.5,163.8 551.7,146.7 558.8,114.0 566.0,97.5 573.2,57.7 580.3,21.5 587.5,25.3 594.7,48.2 601.8,113.5 609.0,110.3 616.2,129.0 623.3,148.8 630.5,161.6 637.7,175.7 644.8,94.1 652.0,78.8 659.2,95.5 666.3,24.7" fill="none" stroke="#fff0f0" stroke-width="1.1" opacity="0.7" marker-start="url(#m24)" marker-mid="url(#m24)" marker-end="url(#m24)"/>
<polyline points="501.5,91.0 508.7,114.6 515.8,111.6 523.0,166.4 530.2,158.5 537.3,114.8 544.5,87.9 551.7,84.3 558.8,53.6 566.0,52.9 573.2,39.7 580.3,34.7 587.5,66.6 594.7,109.2 601.8,124.1 609.0,177.3 616.2,162.9 623.3,128.4 630.5,98.7 637.7,52.2 644.8,34.4 652.0,31.9 659.2,21.5 666.3,69.4" fill="none" stroke="#ffd6d6" stroke-width="1.1" opacity="0.7" marker-start="url(#m25)" marker-mid="url(#m25)" marker-end="url(#m25)"/>
<polyline points="501.5,62.6 508.7,102.5 515.8,123.5 523.0,171.4 530.2,151.5 537.3,140.9 544.5,119.5 551.7,111.6 558.8,55.5 566.0,21.5 573.2,30.5 580.3,62.0 587.5,79.3 594.7,96.9 601.8,177.3 609.0,148.3 616.2,134.9 623.3,115.1 630.5,71.5 637.7,50.8 644.8,40.3 652.0,29.6 659.2,26.8 666.3,66.9" fill="none" stroke="#ffadad" stroke-width="1.1" opacity="0.7" marker-start="url(#m26)" marker-mid="url(#m26)" marker-end="url(#m26)"/>
<rect x="493.3" y="13.6" width="180.99999999999994" height="171.5" fill="none" stroke="#333" stroke-width="1"/>
<line x1="501.50" y1="185.1" x2="501.50" y2="187.9" stroke="#333" stroke-width="0.9"/>
<text x="501.50" y="197.20" font-size="8.8" text-anchor="middle">18</text>
<line x1="544.50" y1="185.1" x2="544.50" y2="187.9" stroke="#333" stroke-width="0.9"/>
<text x="544.50" y="197.20" font-size="8.8" text-anchor="middle">30</text>
<line x1="587.49" y1="185.1" x2="587.49" y2="187.9" stroke="#333" stroke-width="0.9"/>
<text x="587.49" y="197.20" font-size="8.8" text-anchor="middle">42</text>
<line x1="630.49" y1="185.1" x2="630.49" y2="187.9" stroke="#333" stroke-width="0.9"/>
<text x="630.49" y="197.20" font-size="8.8" text-anchor="middle">54</text>
<line x1="673.48" y1="185.1" x2="673.48" y2="187.9" stroke="#333" stroke-width="0.9"/>
<text x="673.48" y="197.20" font-size="8.8" text-anchor="middle">66</text>
<line x1="490.5" y1="177.30" x2="493.3" y2="177.30" stroke="#333" stroke-width="0.9"/>
<text x="487.80" y="179.90" font-size="8.8" text-anchor="end">0.0</text>
<line x1="490.5" y1="146.14" x2="493.3" y2="146.14" stroke="#333" stroke-width="0.9"/>
<line x1="490.5" y1="114.98" x2="493.3" y2="114.98" stroke="#333" stroke-width="0.9"/>
<line x1="490.5" y1="83.82" x2="493.3" y2="83.82" stroke="#333" stroke-width="0.9"/>
<line x1="490.5" y1="52.66" x2="493.3" y2="52.66" stroke="#333" stroke-width="0.9"/>
<line x1="490.5" y1="21.50" x2="493.3" y2="21.50" stroke="#333" stroke-width="0.9"/>
<text x="487.80" y="24.10" font-size="8.8" text-anchor="end">1.0</text>
<text x="122.6" y="8.1" font-size="9.4" text-anchor="middle">r<tspan font-size="6.6" dy="2">S</tspan><tspan dy="-2"> to </tspan><tspan font-style="italic">PER3</tspan> ≈ 1</text>
<text x="353" y="8.1" font-size="9.4" text-anchor="middle">r<tspan font-size="6.6" dy="2">S</tspan><tspan dy="-2"> to </tspan><tspan font-style="italic">PER3</tspan> ≈ -1</text>
<text x="583.3" y="8.1" font-size="9.4" text-anchor="middle">r<tspan font-size="6.6" dy="2">S</tspan><tspan dy="-2"> to </tspan><tspan font-style="italic">PER3</tspan> ≈ 0</text>
<text x="333.4" y="209.4" font-size="10.2" textLength="40.2" lengthAdjust="spacingAndGlyphs">Time (h)</text>
<text transform="translate(9.5,160.2) rotate(-90)" font-size="10.2" textLength="121.8" lengthAdjust="spacingAndGlyphs">Relative gene expression</text>
<text x="1.2" y="10.3" font-size="12.4" font-weight="bold" fill="#000" stroke="none">A</text>
<text x="231" y="10.3" font-size="12.4" font-weight="bold" fill="#000" stroke="none">B</text>
<text x="461.5" y="10.3" font-size="12.4" font-weight="bold" fill="#000" stroke="none">C</text>
<text x="3.2" y="225.4" font-size="12.4" font-weight="bold" fill="#000" stroke="none">D</text>
<text x="229.6" y="225.4" font-size="12.4" font-weight="bold" fill="#000" stroke="none">E</text>
<text x="461.5" y="223.9" font-size="12.4" font-weight="bold" fill="#000" stroke="none">F</text>
<rect x="30.5" y="216.4" width="189.8" height="171.79999999999998" fill="white"/>
<circle cx="50.0" cy="285.0" r="5.0" fill="#000078" fill-opacity="0.85" stroke="#7a7a7a" stroke-width="0.8"/>
<circle cx="55.0" cy="284.0" r="5.0" fill="#00008d" fill-opacity="0.85" stroke="#7a7a7a" stroke-width="0.8"/>
<circle cx="58.0" cy="287.0" r="5.0" fill="#00009a" fill-opacity="0.85" stroke="#7a7a7a" stroke-width="0.8"/>
<circle cx="48.0" cy="292.0" r="5.0" fill="#000070" fill-opacity="0.85" stroke="#7a7a7a" stroke-width="0.8"/>
<circle cx="53.0" cy="296.0" r="5.0" fill="#000085" fill-opacity="0.85" stroke="#7a7a7a" stroke-width="0.8"/>
<circle cx="57.0" cy="293.0" r="5.0" fill="#000095" fill-opacity="0.85" stroke="#7a7a7a" stroke-width="0.8"/>
<circle cx="46.0" cy="300.0" r="5.0" fill="#000068" fill-opacity="0.85" stroke="#7a7a7a" stroke-width="0.8"/>
<circle cx="60.0" cy="300.0" r="5.0" fill="#0000a2" fill-opacity="0.85" stroke="#7a7a7a" stroke-width="0.8"/>
<circle cx="44.0" cy="306.0" r="5.0" fill="#000060" fill-opacity="0.85" stroke="#7a7a7a" stroke-width="0.8"/>
<circle cx="45.0" cy="318.0" r="5.0" fill="#000064" fill-opacity="0.85" stroke="#7a7a7a" stroke-width="0.8"/>
<circle cx="46.0" cy="325.0" r="5.0" fill="#000068" fill-opacity="0.85" stroke="#7a7a7a" stroke-width="0.8"/>
<circle cx="47.0" cy="331.0" r="5.0" fill="#00006c" fill-opacity="0.85" stroke="#7a7a7a" stroke-width="0.8"/>
<circle cx="49.0" cy="334.0" r="5.0" fill="#000074" fill-opacity="0.85" stroke="#7a7a7a" stroke-width="0.8"/>
<circle cx="53.0" cy="335.0" r="5.0" fill="#000085" fill-opacity="0.85" stroke="#7a7a7a" stroke-width="0.8"/>
<circle cx="58.0" cy="333.0" r="5.0" fill="#00009a" fill-opacity="0.85" stroke="#7a7a7a" stroke-width="0.8"/>
<circle cx="54.5" cy="304.1" r="5.0" fill="#00008b" fill-opacity="0.85" stroke="#7a7a7a" stroke-width="0.8"/>
<circle cx="50.3" cy="319.2" r="5.0" fill="#00007a" fill-opacity="0.85" stroke="#7a7a7a" stroke-width="0.8"/>
<circle cx="58.4" cy="304.7" r="5.0" fill="#00009b" fill-opacity="0.85" stroke="#7a7a7a" stroke-width="0.8"/>
<circle cx="51.2" cy="302.3" r="5.0" fill="#00007d" fill-opacity="0.85" stroke="#7a7a7a" stroke-width="0.8"/>
<circle cx="55.6" cy="330.3" r="5.0" fill="#000090" fill-opacity="0.85" stroke="#7a7a7a" stroke-width="0.8"/>
<circle cx="54.6" cy="311.8" r="5.0" fill="#00008c" fill-opacity="0.85" stroke="#7a7a7a" stroke-width="0.8"/>
<circle cx="52.5" cy="321.2" r="5.0" fill="#000083" fill-opacity="0.85" stroke="#7a7a7a" stroke-width="0.8"/>
<circle cx="57.1" cy="304.4" r="5.0" fill="#000096" fill-opacity="0.85" stroke="#7a7a7a" stroke-width="0.8"/>
<circle cx="54.6" cy="321.5" r="5.0" fill="#00008c" fill-opacity="0.85" stroke="#7a7a7a" stroke-width="0.8"/>
<circle cx="54.9" cy="326.1" r="5.0" fill="#00008d" fill-opacity="0.85" stroke="#7a7a7a" stroke-width="0.8"/>
<circle cx="51.8" cy="331.4" r="5.0" fill="#000080" fill-opacity="0.85" stroke="#7a7a7a" stroke-width="0.8"/>
<circle cx="54.4" cy="317.7" r="5.0" fill="#00008a" fill-opacity="0.85" stroke="#7a7a7a" stroke-width="0.8"/>
<circle cx="55.3" cy="311.3" r="5.0" fill="#00008f" fill-opacity="0.85" stroke="#7a7a7a" stroke-width="0.8"/>
<circle cx="57.2" cy="307.5" r="5.0" fill="#000096" fill-opacity="0.85" stroke="#7a7a7a" stroke-width="0.8"/>
<circle cx="51.2" cy="327.8" r="5.0" fill="#00007d" fill-opacity="0.85" stroke="#7a7a7a" stroke-width="0.8"/>
<circle cx="52.5" cy="314.9" r="5.0" fill="#000083" fill-opacity="0.85" stroke="#7a7a7a" stroke-width="0.8"/>
<circle cx="58.1" cy="302.7" r="5.0" fill="#00009a" fill-opacity="0.85" stroke="#7a7a7a" stroke-width="0.8"/>
<circle cx="51.3" cy="313.8" r="5.0" fill="#00007e" fill-opacity="0.85" stroke="#7a7a7a" stroke-width="0.8"/>
<circle cx="51.8" cy="321.5" r="5.0" fill="#000080" fill-opacity="0.85" stroke="#7a7a7a" stroke-width="0.8"/>
<circle cx="52.0" cy="328.8" r="5.0" fill="#000081" fill-opacity="0.85" stroke="#7a7a7a" stroke-width="0.8"/>
<circle cx="51.8" cy="301.1" r="5.0" fill="#000080" fill-opacity="0.85" stroke="#7a7a7a" stroke-width="0.8"/>
<circle cx="54.2" cy="311.1" r="5.0" fill="#00008a" fill-opacity="0.85" stroke="#7a7a7a" stroke-width="0.8"/>
<circle cx="56.3" cy="329.0" r="5.0" fill="#000092" fill-opacity="0.85" stroke="#7a7a7a" stroke-width="0.8"/>
<circle cx="50.2" cy="310.9" r="5.0" fill="#000079" fill-opacity="0.85" stroke="#7a7a7a" stroke-width="0.8"/>
<circle cx="59.0" cy="305.1" r="5.0" fill="#00009e" fill-opacity="0.85" stroke="#7a7a7a" stroke-width="0.8"/>
<circle cx="56.2" cy="314.7" r="5.0" fill="#000092" fill-opacity="0.85" stroke="#7a7a7a" stroke-width="0.8"/>
<circle cx="50.3" cy="301.7" r="5.0" fill="#00007a" fill-opacity="0.85" stroke="#7a7a7a" stroke-width="0.8"/>
<circle cx="55.3" cy="327.1" r="5.0" fill="#00008e" fill-opacity="0.85" stroke="#7a7a7a" stroke-width="0.8"/>
<circle cx="52.9" cy="309.9" r="5.0" fill="#000084" fill-opacity="0.85" stroke="#7a7a7a" stroke-width="0.8"/>
<circle cx="51.6" cy="302.9" r="5.0" fill="#00007f" fill-opacity="0.85" stroke="#7a7a7a" stroke-width="0.8"/>
<circle cx="57.6" cy="300.8" r="5.0" fill="#000098" fill-opacity="0.85" stroke="#7a7a7a" stroke-width="0.8"/>
<circle cx="51.1" cy="314.9" r="5.0" fill="#00007d" fill-opacity="0.85" stroke="#7a7a7a" stroke-width="0.8"/>
<circle cx="51.8" cy="323.7" r="5.0" fill="#000080" fill-opacity="0.85" stroke="#7a7a7a" stroke-width="0.8"/>
<circle cx="55.4" cy="302.0" r="5.0" fill="#00008f" fill-opacity="0.85" stroke="#7a7a7a" stroke-width="0.8"/>
<circle cx="50.2" cy="328.7" r="5.0" fill="#000079" fill-opacity="0.85" stroke="#7a7a7a" stroke-width="0.8"/>
<circle cx="51.7" cy="325.8" r="5.0" fill="#000080" fill-opacity="0.85" stroke="#7a7a7a" stroke-width="0.8"/>
<circle cx="50.2" cy="303.0" r="5.0" fill="#000079" fill-opacity="0.85" stroke="#7a7a7a" stroke-width="0.8"/>
<circle cx="56.5" cy="309.4" r="5.0" fill="#000094" fill-opacity="0.85" stroke="#7a7a7a" stroke-width="0.8"/>
<circle cx="41.0" cy="311.0" r="5.0" fill="#000053" fill-opacity="0.85" stroke="#7a7a7a" stroke-width="0.8"/>
<circle cx="100.4" cy="263.4" r="5.0" fill="#6a6aff" fill-opacity="0.85" stroke="#7a7a7a" stroke-width="0.8"/>
<circle cx="106.7" cy="266.3" r="5.0" fill="#9090ff" fill-opacity="0.85" stroke="#7a7a7a" stroke-width="0.8"/>
<circle cx="105.5" cy="272.1" r="5.0" fill="#8989ff" fill-opacity="0.85" stroke="#7a7a7a" stroke-width="0.8"/>
<circle cx="101.9" cy="288.2" r="5.0" fill="#7373ff" fill-opacity="0.85" stroke="#7a7a7a" stroke-width="0.8"/>
<circle cx="117.7" cy="294.0" r="5.0" fill="#d1d1ff" fill-opacity="0.85" stroke="#7a7a7a" stroke-width="0.8"/>
<circle cx="115.8" cy="265.5" r="5.0" fill="#c6c6ff" fill-opacity="0.85" stroke="#7a7a7a" stroke-width="0.8"/>
<circle cx="119.4" cy="266.3" r="5.0" fill="#dbdbff" fill-opacity="0.85" stroke="#7a7a7a" stroke-width="0.8"/>
<circle cx="126.7" cy="261.2" r="5.0" fill="#fff8f8" fill-opacity="0.85" stroke="#7a7a7a" stroke-width="0.8"/>
<circle cx="126.7" cy="267.7" r="5.0" fill="#fff8f8" fill-opacity="0.85" stroke="#7a7a7a" stroke-width="0.8"/>
<circle cx="134.0" cy="256.8" r="5.0" fill="#ffcdcd" fill-opacity="0.85" stroke="#7a7a7a" stroke-width="0.8"/>
<circle cx="141.3" cy="259.7" r="5.0" fill="#ffa1a1" fill-opacity="0.85" stroke="#7a7a7a" stroke-width="0.8"/>
<circle cx="134.0" cy="267.7" r="5.0" fill="#ffcdcd" fill-opacity="0.85" stroke="#7a7a7a" stroke-width="0.8"/>
<circle cx="146.4" cy="259.7" r="5.0" fill="#ff8383" fill-opacity="0.85" stroke="#7a7a7a" stroke-width="0.8"/>
<circle cx="151.5" cy="256.1" r="5.0" fill="#ff6565" fill-opacity="0.85" stroke="#7a7a7a" stroke-width="0.8"/>
<circle cx="153.0" cy="247.3" r="5.0" fill="#ff5c5c" fill-opacity="0.85" stroke="#7a7a7a" stroke-width="0.8"/>
<circle cx="159.6" cy="252.4" r="5.0" fill="#ff3535" fill-opacity="0.85" stroke="#7a7a7a" stroke-width="0.8"/>
<circle cx="158.8" cy="257.5" r="5.0" fill="#ff3a3a" fill-opacity="0.85" stroke="#7a7a7a" stroke-width="0.8"/>
<circle cx="153.7" cy="256.0" r="5.0" fill="#ff5858" fill-opacity="0.85" stroke="#7a7a7a" stroke-width="0.8"/>
<circle cx="144.2" cy="266.3" r="5.0" fill="#ff9090" fill-opacity="0.85" stroke="#7a7a7a" stroke-width="0.8"/>
<circle cx="140.6" cy="270.7" r="5.0" fill="#ffa6a6" fill-opacity="0.85" stroke="#7a7a7a" stroke-width="0.8"/>
<circle cx="97.8" cy="331.7" r="5.0" fill="#5b5bff" fill-opacity="0.85" stroke="#7a7a7a" stroke-width="0.8"/>
<circle cx="94.6" cy="339.0" r="5.0" fill="#4848ff" fill-opacity="0.85" stroke="#7a7a7a" stroke-width="0.8"/>
<circle cx="93.9" cy="343.4" r="5.0" fill="#4444ff" fill-opacity="0.85" stroke="#7a7a7a" stroke-width="0.8"/>
<circle cx="96.1" cy="345.5" r="5.0" fill="#5151ff" fill-opacity="0.85" stroke="#7a7a7a" stroke-width="0.8"/>
<circle cx="113.3" cy="331.0" r="5.0" fill="#b7b7ff" fill-opacity="0.85" stroke="#7a7a7a" stroke-width="0.8"/>
<circle cx="111.0" cy="349.2" r="5.0" fill="#a9a9ff" fill-opacity="0.85" stroke="#7a7a7a" stroke-width="0.8"/>
<circle cx="126.4" cy="338.7" r="5.0" fill="#fffafa" fill-opacity="0.85" stroke="#7a7a7a" stroke-width="0.8"/>
<circle cx="123.5" cy="355.5" r="5.0" fill="#f3f3ff" fill-opacity="0.85" stroke="#7a7a7a" stroke-width="0.8"/>
<circle cx="131.8" cy="350.7" r="5.0" fill="#ffdada" fill-opacity="0.85" stroke="#7a7a7a" stroke-width="0.8"/>
<circle cx="136.2" cy="347.0" r="5.0" fill="#ffc0c0" fill-opacity="0.85" stroke="#7a7a7a" stroke-width="0.8"/>
<circle cx="140.6" cy="350.7" r="5.0" fill="#ffa6a6" fill-opacity="0.85" stroke="#7a7a7a" stroke-width="0.8"/>
<circle cx="141.3" cy="355.0" r="5.0" fill="#ffa1a1" fill-opacity="0.85" stroke="#7a7a7a" stroke-width="0.8"/>
<circle cx="142.5" cy="362.3" r="5.0" fill="#ff9a9a" fill-opacity="0.85" stroke="#7a7a7a" stroke-width="0.8"/>
<circle cx="203.1" cy="234.9" r="5.0" fill="#990000" fill-opacity="0.85" stroke="#7a7a7a" stroke-width="0.8"/>
<circle cx="199.9" cy="229.9" r="5.0" fill="#a20000" fill-opacity="0.85" stroke="#7a7a7a" stroke-width="0.8"/>
<circle cx="203.9" cy="230.6" r="5.0" fill="#960000" fill-opacity="0.85" stroke="#7a7a7a" stroke-width="0.8"/>
<circle cx="200.0" cy="242.9" r="5.0" fill="#a20000" fill-opacity="0.85" stroke="#7a7a7a" stroke-width="0.8"/>
<circle cx="199.9" cy="233.8" r="5.0" fill="#a20000" fill-opacity="0.85" stroke="#7a7a7a" stroke-width="0.8"/>
<circle cx="198.2" cy="239.4" r="5.0" fill="#a70000" fill-opacity="0.85" stroke="#7a7a7a" stroke-width="0.8"/>
<circle cx="200.4" cy="227.2" r="5.0" fill="#a10000" fill-opacity="0.85" stroke="#7a7a7a" stroke-width="0.8"/>
<circle cx="203.1" cy="230.4" r="5.0" fill="#990000" fill-opacity="0.85" stroke="#7a7a7a" stroke-width="0.8"/>
<circle cx="201.3" cy="239.4" r="5.0" fill="#9e0000" fill-opacity="0.85" stroke="#7a7a7a" stroke-width="0.8"/>
<circle cx="202.2" cy="237.9" r="5.0" fill="#9b0000" fill-opacity="0.85" stroke="#7a7a7a" stroke-width="0.8"/>
<circle cx="203.6" cy="240.1" r="5.0" fill="#970000" fill-opacity="0.85" stroke="#7a7a7a" stroke-width="0.8"/>
<circle cx="201.8" cy="228.7" r="5.0" fill="#9d0000" fill-opacity="0.85" stroke="#7a7a7a" stroke-width="0.8"/>
<circle cx="200.7" cy="228.6" r="5.0" fill="#a00000" fill-opacity="0.85" stroke="#7a7a7a" stroke-width="0.8"/>
<circle cx="203.4" cy="240.2" r="5.0" fill="#980000" fill-opacity="0.85" stroke="#7a7a7a" stroke-width="0.8"/>
<circle cx="198.2" cy="239.7" r="5.0" fill="#a70000" fill-opacity="0.85" stroke="#7a7a7a" stroke-width="0.8"/>
<circle cx="199.0" cy="232.5" r="5.0" fill="#a50000" fill-opacity="0.85" stroke="#7a7a7a" stroke-width="0.8"/>
<circle cx="198.9" cy="244.0" r="5.0" fill="#a50000" fill-opacity="0.85" stroke="#7a7a7a" stroke-width="0.8"/>
<circle cx="200.1" cy="230.4" r="5.0" fill="#a10000" fill-opacity="0.85" stroke="#7a7a7a" stroke-width="0.8"/>
<circle cx="203.2" cy="227.1" r="5.0" fill="#980000" fill-opacity="0.85" stroke="#7a7a7a" stroke-width="0.8"/>
<circle cx="199.0" cy="237.5" r="5.0" fill="#a50000" fill-opacity="0.85" stroke="#7a7a7a" stroke-width="0.8"/>
<circle cx="198.5" cy="235.0" r="5.0" fill="#a60000" fill-opacity="0.85" stroke="#7a7a7a" stroke-width="0.8"/>
<circle cx="199.4" cy="237.0" r="5.0" fill="#a40000" fill-opacity="0.85" stroke="#7a7a7a" stroke-width="0.8"/>
<circle cx="198.7" cy="226.7" r="5.0" fill="#a60000" fill-opacity="0.85" stroke="#7a7a7a" stroke-width="0.8"/>
<circle cx="201.8" cy="236.0" r="5.0" fill="#9c0000" fill-opacity="0.85" stroke="#7a7a7a" stroke-width="0.8"/>
<circle cx="201.9" cy="231.8" r="5.0" fill="#9c0000" fill-opacity="0.85" stroke="#7a7a7a" stroke-width="0.8"/>
<circle cx="198.8" cy="232.3" r="5.0" fill="#a50000" fill-opacity="0.85" stroke="#7a7a7a" stroke-width="0.8"/>
<circle cx="200.4" cy="231.7" r="5.0" fill="#a10000" fill-opacity="0.85" stroke="#7a7a7a" stroke-width="0.8"/>
<circle cx="198.7" cy="242.4" r="5.0" fill="#a60000" fill-opacity="0.85" stroke="#7a7a7a" stroke-width="0.8"/>
<circle cx="201.4" cy="227.6" r="5.0" fill="#9e0000" fill-opacity="0.85" stroke="#7a7a7a" stroke-width="0.8"/>
<circle cx="203.4" cy="243.3" r="5.0" fill="#980000" fill-opacity="0.85" stroke="#7a7a7a" stroke-width="0.8"/>
<circle cx="200.0" cy="224.0" r="5.0" fill="#a20000" fill-opacity="0.85" stroke="#7a7a7a" stroke-width="0.8"/>
<circle cx="205.0" cy="223.0" r="5.0" fill="#930000" fill-opacity="0.85" stroke="#7a7a7a" stroke-width="0.8"/>
<circle cx="209.0" cy="224.0" r="5.0" fill="#870000" fill-opacity="0.85" stroke="#7a7a7a" stroke-width="0.8"/>
<circle cx="208.0" cy="229.0" r="5.0" fill="#8a0000" fill-opacity="0.85" stroke="#7a7a7a" stroke-width="0.8"/>
<circle cx="209.0" cy="235.0" r="5.0" fill="#870000" fill-opacity="0.85" stroke="#7a7a7a" stroke-width="0.8"/>
<circle cx="208.0" cy="241.0" r="5.0" fill="#8a0000" fill-opacity="0.85" stroke="#7a7a7a" stroke-width="0.8"/>
<circle cx="205.0" cy="244.0" r="5.0" fill="#930000" fill-opacity="0.85" stroke="#7a7a7a" stroke-width="0.8"/>
<circle cx="201.6" cy="247.6" r="5.0" fill="#9d0000" fill-opacity="0.85" stroke="#7a7a7a" stroke-width="0.8"/>
<circle cx="197.5" cy="378.9" r="5.0" fill="#a90000" fill-opacity="0.85" stroke="#7a7a7a" stroke-width="0.8"/>
<circle cx="202.5" cy="379.6" r="5.0" fill="#9b0000" fill-opacity="0.85" stroke="#7a7a7a" stroke-width="0.8"/>
<circle cx="200.7" cy="375.0" r="5.0" fill="#a00000" fill-opacity="0.85" stroke="#7a7a7a" stroke-width="0.8"/>
<circle cx="203.4" cy="374.3" r="5.0" fill="#980000" fill-opacity="0.85" stroke="#7a7a7a" stroke-width="0.8"/>
<circle cx="203.4" cy="379.0" r="5.0" fill="#980000" fill-opacity="0.85" stroke="#7a7a7a" stroke-width="0.8"/>
<circle cx="199.1" cy="379.3" r="5.0" fill="#a40000" fill-opacity="0.85" stroke="#7a7a7a" stroke-width="0.8"/>
<circle cx="199.0" cy="379.5" r="5.0" fill="#a50000" fill-opacity="0.85" stroke="#7a7a7a" stroke-width="0.8"/>
<circle cx="200.1" cy="375.0" r="5.0" fill="#a10000" fill-opacity="0.85" stroke="#7a7a7a" stroke-width="0.8"/>
<circle cx="199.3" cy="377.5" r="5.0" fill="#a40000" fill-opacity="0.85" stroke="#7a7a7a" stroke-width="0.8"/>
<circle cx="201.8" cy="378.2" r="5.0" fill="#9c0000" fill-opacity="0.85" stroke="#7a7a7a" stroke-width="0.8"/>
<circle cx="202.0" cy="375.7" r="5.0" fill="#9c0000" fill-opacity="0.85" stroke="#7a7a7a" stroke-width="0.8"/>
<circle cx="202.9" cy="376.5" r="5.0" fill="#990000" fill-opacity="0.85" stroke="#7a7a7a" stroke-width="0.8"/>
<circle cx="203.4" cy="376.0" r="5.0" fill="#980000" fill-opacity="0.85" stroke="#7a7a7a" stroke-width="0.8"/>
<circle cx="201.4" cy="376.9" r="5.0" fill="#9e0000" fill-opacity="0.85" stroke="#7a7a7a" stroke-width="0.8"/>
<circle cx="201.1" cy="378.7" r="5.0" fill="#9e0000" fill-opacity="0.85" stroke="#7a7a7a" stroke-width="0.8"/>
<circle cx="204.8" cy="375.8" r="5.0" fill="#940000" fill-opacity="0.85" stroke="#7a7a7a" stroke-width="0.8"/>
<circle cx="204.0" cy="371.0" r="5.0" fill="#960000" fill-opacity="0.85" stroke="#7a7a7a" stroke-width="0.8"/>
<circle cx="207.0" cy="373.0" r="5.0" fill="#8d0000" fill-opacity="0.85" stroke="#7a7a7a" stroke-width="0.8"/>
<circle cx="209.0" cy="380.0" r="5.0" fill="#870000" fill-opacity="0.85" stroke="#7a7a7a" stroke-width="0.8"/>
<circle cx="204.0" cy="380.0" r="5.0" fill="#960000" fill-opacity="0.85" stroke="#7a7a7a" stroke-width="0.8"/>
<circle cx="212.5" cy="379.5" r="5.0" fill="#800000" fill-opacity="0.85" stroke="#7a7a7a" stroke-width="0.8"/>
<line x1="39.40" y1="216.4" x2="39.40" y2="388.2" stroke="#c6c6c6" stroke-width="0.9"/>
<line x1="82.45" y1="216.4" x2="82.45" y2="388.2" stroke="#c6c6c6" stroke-width="0.9"/>
<line x1="125.50" y1="216.4" x2="125.50" y2="388.2" stroke="#c6c6c6" stroke-width="0.9"/>
<line x1="168.55" y1="216.4" x2="168.55" y2="388.2" stroke="#c6c6c6" stroke-width="0.9"/>
<line x1="211.60" y1="216.4" x2="211.60" y2="388.2" stroke="#c6c6c6" stroke-width="0.9"/>
<line x1="30.5" y1="380.50" x2="220.3" y2="380.50" stroke="#c6c6c6" stroke-width="0.9"/>
<line x1="30.5" y1="341.20" x2="220.3" y2="341.20" stroke="#c6c6c6" stroke-width="0.9"/>
<line x1="30.5" y1="301.90" x2="220.3" y2="301.90" stroke="#c6c6c6" stroke-width="0.9"/>
<line x1="30.5" y1="262.60" x2="220.3" y2="262.60" stroke="#c6c6c6" stroke-width="0.9"/>
<line x1="30.5" y1="223.30" x2="220.3" y2="223.30" stroke="#c6c6c6" stroke-width="0.9"/>
<rect x="30.5" y="216.4" width="189.8" height="171.79999999999998" fill="none" stroke="#333" stroke-width="1"/>
<line x1="39.40" y1="388.2" x2="39.40" y2="391.0" stroke="#333" stroke-width="0.9"/>
<text x="39.40" y="400.30" font-size="8.8" text-anchor="middle">-1.0</text>
<line x1="82.45" y1="388.2" x2="82.45" y2="391.0" stroke="#333" stroke-width="0.9"/>
<text x="82.45" y="400.30" font-size="8.8" text-anchor="middle">-0.5</text>
<line x1="125.50" y1="388.2" x2="125.50" y2="391.0" stroke="#333" stroke-width="0.9"/>
<text x="125.50" y="400.30" font-size="8.8" text-anchor="middle">0.0</text>
<line x1="168.55" y1="388.2" x2="168.55" y2="391.0" stroke="#333" stroke-width="0.9"/>
<text x="168.55" y="400.30" font-size="8.8" text-anchor="middle">0.5</text>
<line x1="211.60" y1="388.2" x2="211.60" y2="391.0" stroke="#333" stroke-width="0.9"/>
<text x="211.60" y="400.30" font-size="8.8" text-anchor="middle">1.0</text>
<line x1="27.7" y1="380.50" x2="30.5" y2="380.50" stroke="#333" stroke-width="0.9"/>
<text x="25.00" y="383.10" font-size="8.8" text-anchor="end">0</text>
<line x1="27.7" y1="341.20" x2="30.5" y2="341.20" stroke="#333" stroke-width="0.9"/>
<text x="25.00" y="343.80" font-size="8.8" text-anchor="end">6</text>
<line x1="27.7" y1="301.90" x2="30.5" y2="301.90" stroke="#333" stroke-width="0.9"/>
<text x="25.00" y="304.50" font-size="8.8" text-anchor="end">12</text>
<line x1="27.7" y1="262.60" x2="30.5" y2="262.60" stroke="#333" stroke-width="0.9"/>
<text x="25.00" y="265.20" font-size="8.8" text-anchor="end">18</text>
<line x1="27.7" y1="223.30" x2="30.5" y2="223.30" stroke="#333" stroke-width="0.9"/>
<text x="25.00" y="225.90" font-size="8.8" text-anchor="end">24</text>
<rect x="262.1" y="216.4" width="189.2" height="171.79999999999998" fill="white"/>
<circle cx="280.8" cy="242.6" r="5.0" fill="#000078" fill-opacity="0.85" stroke="#7a7a7a" stroke-width="0.8"/>
<circle cx="280.9" cy="264.4" r="5.0" fill="#000078" fill-opacity="0.85" stroke="#7a7a7a" stroke-width="0.8"/>
<circle cx="287.4" cy="245.4" r="5.0" fill="#000093" fill-opacity="0.85" stroke="#7a7a7a" stroke-width="0.8"/>
<circle cx="287.4" cy="275.6" r="5.0" fill="#000093" fill-opacity="0.85" stroke="#7a7a7a" stroke-width="0.8"/>
<circle cx="288.5" cy="281.3" r="5.0" fill="#000098" fill-opacity="0.85" stroke="#7a7a7a" stroke-width="0.8"/>
<circle cx="285.8" cy="252.3" r="5.0" fill="#00008d" fill-opacity="0.85" stroke="#7a7a7a" stroke-width="0.8"/>
<circle cx="287.2" cy="254.3" r="5.0" fill="#000092" fill-opacity="0.85" stroke="#7a7a7a" stroke-width="0.8"/>
<circle cx="280.8" cy="256.5" r="5.0" fill="#000078" fill-opacity="0.85" stroke="#7a7a7a" stroke-width="0.8"/>
<circle cx="288.1" cy="280.1" r="5.0" fill="#000096" fill-opacity="0.85" stroke="#7a7a7a" stroke-width="0.8"/>
<circle cx="286.7" cy="273.7" r="5.0" fill="#000090" fill-opacity="0.85" stroke="#7a7a7a" stroke-width="0.8"/>
<circle cx="286.1" cy="275.6" r="5.0" fill="#00008e" fill-opacity="0.85" stroke="#7a7a7a" stroke-width="0.8"/>
<circle cx="281.4" cy="265.2" r="5.0" fill="#00007a" fill-opacity="0.85" stroke="#7a7a7a" stroke-width="0.8"/>
<circle cx="288.3" cy="264.6" r="5.0" fill="#000097" fill-opacity="0.85" stroke="#7a7a7a" stroke-width="0.8"/>
<circle cx="288.5" cy="271.9" r="5.0" fill="#000097" fill-opacity="0.85" stroke="#7a7a7a" stroke-width="0.8"/>
<circle cx="288.8" cy="261.8" r="5.0" fill="#000099" fill-opacity="0.85" stroke="#7a7a7a" stroke-width="0.8"/>
<circle cx="288.3" cy="243.2" r="5.0" fill="#000097" fill-opacity="0.85" stroke="#7a7a7a" stroke-width="0.8"/>
<circle cx="280.0" cy="255.8" r="5.0" fill="#000074" fill-opacity="0.85" stroke="#7a7a7a" stroke-width="0.8"/>
<circle cx="285.3" cy="267.7" r="5.0" fill="#00008a" fill-opacity="0.85" stroke="#7a7a7a" stroke-width="0.8"/>
<circle cx="288.4" cy="258.6" r="5.0" fill="#000097" fill-opacity="0.85" stroke="#7a7a7a" stroke-width="0.8"/>
<circle cx="284.9" cy="244.6" r="5.0" fill="#000089" fill-opacity="0.85" stroke="#7a7a7a" stroke-width="0.8"/>
<circle cx="285.0" cy="257.9" r="5.0" fill="#000089" fill-opacity="0.85" stroke="#7a7a7a" stroke-width="0.8"/>
<circle cx="281.5" cy="262.0" r="5.0" fill="#00007b" fill-opacity="0.85" stroke="#7a7a7a" stroke-width="0.8"/>
<circle cx="288.7" cy="262.6" r="5.0" fill="#000098" fill-opacity="0.85" stroke="#7a7a7a" stroke-width="0.8"/>
<circle cx="277.2" cy="246.2" r="5.0" fill="#000069" fill-opacity="0.85" stroke="#7a7a7a" stroke-width="0.8"/>
<circle cx="282.5" cy="241.2" r="5.0" fill="#00007f" fill-opacity="0.85" stroke="#7a7a7a" stroke-width="0.8"/>
<circle cx="285.0" cy="284.8" r="5.0" fill="#000089" fill-opacity="0.85" stroke="#7a7a7a" stroke-width="0.8"/>
<circle cx="287.6" cy="285.6" r="5.0" fill="#000094" fill-opacity="0.85" stroke="#7a7a7a" stroke-width="0.8"/>
<circle cx="282.2" cy="243.8" r="5.0" fill="#00007e" fill-opacity="0.85" stroke="#7a7a7a" stroke-width="0.8"/>
<circle cx="286.4" cy="248.0" r="5.0" fill="#00008f" fill-opacity="0.85" stroke="#7a7a7a" stroke-width="0.8"/>
<circle cx="283.3" cy="264.0" r="5.0" fill="#000082" fill-opacity="0.85" stroke="#7a7a7a" stroke-width="0.8"/>
<circle cx="288.4" cy="250.3" r="5.0" fill="#000097" fill-opacity="0.85" stroke="#7a7a7a" stroke-width="0.8"/>
<circle cx="285.9" cy="274.8" r="5.0" fill="#00008d" fill-opacity="0.85" stroke="#7a7a7a" stroke-width="0.8"/>
<circle cx="287.2" cy="257.5" r="5.0" fill="#000092" fill-opacity="0.85" stroke="#7a7a7a" stroke-width="0.8"/>
<circle cx="285.1" cy="284.6" r="5.0" fill="#00008a" fill-opacity="0.85" stroke="#7a7a7a" stroke-width="0.8"/>
<circle cx="281.7" cy="245.6" r="5.0" fill="#00007b" fill-opacity="0.85" stroke="#7a7a7a" stroke-width="0.8"/>
<circle cx="281.0" cy="262.4" r="5.0" fill="#000079" fill-opacity="0.85" stroke="#7a7a7a" stroke-width="0.8"/>
<circle cx="279.0" cy="240.6" r="5.0" fill="#000070" fill-opacity="0.85" stroke="#7a7a7a" stroke-width="0.8"/>
<circle cx="287.2" cy="256.5" r="5.0" fill="#000092" fill-opacity="0.85" stroke="#7a7a7a" stroke-width="0.8"/>
<circle cx="281.5" cy="267.3" r="5.0" fill="#00007b" fill-opacity="0.85" stroke="#7a7a7a" stroke-width="0.8"/>
<circle cx="282.2" cy="240.2" r="5.0" fill="#00007e" fill-opacity="0.85" stroke="#7a7a7a" stroke-width="0.8"/>
<circle cx="274.0" cy="243.0" r="5.0" fill="#00005c" fill-opacity="0.85" stroke="#7a7a7a" stroke-width="0.8"/>
<circle cx="275.0" cy="250.0" r="5.0" fill="#000060" fill-opacity="0.85" stroke="#7a7a7a" stroke-width="0.8"/>
<circle cx="276.0" cy="258.0" r="5.0" fill="#000064" fill-opacity="0.85" stroke="#7a7a7a" stroke-width="0.8"/>
<circle cx="278.0" cy="265.0" r="5.0" fill="#00006c" fill-opacity="0.85" stroke="#7a7a7a" stroke-width="0.8"/>
<circle cx="280.0" cy="272.0" r="5.0" fill="#000075" fill-opacity="0.85" stroke="#7a7a7a" stroke-width="0.8"/>
<circle cx="282.0" cy="278.0" r="5.0" fill="#00007d" fill-opacity="0.85" stroke="#7a7a7a" stroke-width="0.8"/>
<circle cx="284.0" cy="284.0" r="5.0" fill="#000085" fill-opacity="0.85" stroke="#7a7a7a" stroke-width="0.8"/>
<circle cx="287.6" cy="290.0" r="5.0" fill="#000094" fill-opacity="0.85" stroke="#7a7a7a" stroke-width="0.8"/>
<circle cx="272.5" cy="236.0" r="5.0" fill="#000056" fill-opacity="0.85" stroke="#7a7a7a" stroke-width="0.8"/>
<circle cx="325.1" cy="253.3" r="5.0" fill="#4444ff" fill-opacity="0.85" stroke="#7a7a7a" stroke-width="0.8"/>
<circle cx="327.7" cy="258.5" r="5.0" fill="#5353ff" fill-opacity="0.85" stroke="#7a7a7a" stroke-width="0.8"/>
<circle cx="332.3" cy="246.0" r="5.0" fill="#6f6fff" fill-opacity="0.85" stroke="#7a7a7a" stroke-width="0.8"/>
<circle cx="333.7" cy="259.2" r="5.0" fill="#7777ff" fill-opacity="0.85" stroke="#7a7a7a" stroke-width="0.8"/>
<circle cx="336.9" cy="250.6" r="5.0" fill="#8a8aff" fill-opacity="0.85" stroke="#7a7a7a" stroke-width="0.8"/>
<circle cx="341.5" cy="256.5" r="5.0" fill="#a5a5ff" fill-opacity="0.85" stroke="#7a7a7a" stroke-width="0.8"/>
<circle cx="344.8" cy="251.3" r="5.0" fill="#b8b8ff" fill-opacity="0.85" stroke="#7a7a7a" stroke-width="0.8"/>
<circle cx="348.8" cy="238.8" r="5.0" fill="#d0d0ff" fill-opacity="0.85" stroke="#7a7a7a" stroke-width="0.8"/>
<circle cx="350.7" cy="257.9" r="5.0" fill="#dbdbff" fill-opacity="0.85" stroke="#7a7a7a" stroke-width="0.8"/>
<circle cx="357.3" cy="248.7" r="5.0" fill="#fffcfc" fill-opacity="0.85" stroke="#7a7a7a" stroke-width="0.8"/>
<circle cx="358.6" cy="257.9" r="5.0" fill="#fff4f4" fill-opacity="0.85" stroke="#7a7a7a" stroke-width="0.8"/>
<circle cx="366.5" cy="234.2" r="5.0" fill="#ffc6c6" fill-opacity="0.85" stroke="#7a7a7a" stroke-width="0.8"/>
<circle cx="363.9" cy="252.6" r="5.0" fill="#ffd5d5" fill-opacity="0.85" stroke="#7a7a7a" stroke-width="0.8"/>
<circle cx="365.8" cy="257.9" r="5.0" fill="#ffcaca" fill-opacity="0.85" stroke="#7a7a7a" stroke-width="0.8"/>
<circle cx="371.8" cy="247.3" r="5.0" fill="#ffa7a7" fill-opacity="0.85" stroke="#7a7a7a" stroke-width="0.8"/>
<circle cx="375.0" cy="244.1" r="5.0" fill="#ff9494" fill-opacity="0.85" stroke="#7a7a7a" stroke-width="0.8"/>
<circle cx="373.1" cy="257.2" r="5.0" fill="#ff9f9f" fill-opacity="0.85" stroke="#7a7a7a" stroke-width="0.8"/>
<circle cx="377.0" cy="255.2" r="5.0" fill="#ff8888" fill-opacity="0.85" stroke="#7a7a7a" stroke-width="0.8"/>
<circle cx="382.3" cy="232.9" r="5.0" fill="#ff6969" fill-opacity="0.85" stroke="#7a7a7a" stroke-width="0.8"/>
<circle cx="390.8" cy="233.5" r="5.0" fill="#ff3737" fill-opacity="0.85" stroke="#7a7a7a" stroke-width="0.8"/>
<circle cx="388.8" cy="244.1" r="5.0" fill="#ff4242" fill-opacity="0.85" stroke="#7a7a7a" stroke-width="0.8"/>
<circle cx="385.6" cy="251.3" r="5.0" fill="#ff5555" fill-opacity="0.85" stroke="#7a7a7a" stroke-width="0.8"/>
<circle cx="381.6" cy="254.6" r="5.0" fill="#ff6d6d" fill-opacity="0.85" stroke="#7a7a7a" stroke-width="0.8"/>
<circle cx="367.8" cy="238.8" r="5.0" fill="#ffbebe" fill-opacity="0.85" stroke="#7a7a7a" stroke-width="0.8"/>
<circle cx="430.5" cy="272.7" r="5.0" fill="#a50000" fill-opacity="0.85" stroke="#7a7a7a" stroke-width="0.8"/>
<circle cx="436.2" cy="251.3" r="5.0" fill="#940000" fill-opacity="0.85" stroke="#7a7a7a" stroke-width="0.8"/>
<circle cx="425.8" cy="275.0" r="5.0" fill="#b30000" fill-opacity="0.85" stroke="#7a7a7a" stroke-width="0.8"/>
<circle cx="427.6" cy="267.3" r="5.0" fill="#ae0000" fill-opacity="0.85" stroke="#7a7a7a" stroke-width="0.8"/>
<circle cx="436.2" cy="242.5" r="5.0" fill="#940000" fill-opacity="0.85" stroke="#7a7a7a" stroke-width="0.8"/>
<circle cx="437.7" cy="239.6" r="5.0" fill="#900000" fill-opacity="0.85" stroke="#7a7a7a" stroke-width="0.8"/>
<circle cx="431.2" cy="270.0" r="5.0" fill="#a30000" fill-opacity="0.85" stroke="#7a7a7a" stroke-width="0.8"/>
<circle cx="429.1" cy="254.8" r="5.0" fill="#a90000" fill-opacity="0.85" stroke="#7a7a7a" stroke-width="0.8"/>
<circle cx="429.8" cy="273.9" r="5.0" fill="#a70000" fill-opacity="0.85" stroke="#7a7a7a" stroke-width="0.8"/>
<circle cx="426.8" cy="276.6" r="5.0" fill="#b00000" fill-opacity="0.85" stroke="#7a7a7a" stroke-width="0.8"/>
<circle cx="428.5" cy="264.3" r="5.0" fill="#ab0000" fill-opacity="0.85" stroke="#7a7a7a" stroke-width="0.8"/>
<circle cx="433.6" cy="243.7" r="5.0" fill="#9c0000" fill-opacity="0.85" stroke="#7a7a7a" stroke-width="0.8"/>
<circle cx="427.6" cy="266.3" r="5.0" fill="#ae0000" fill-opacity="0.85" stroke="#7a7a7a" stroke-width="0.8"/>
<circle cx="429.3" cy="265.0" r="5.0" fill="#a90000" fill-opacity="0.85" stroke="#7a7a7a" stroke-width="0.8"/>
<circle cx="435.9" cy="254.9" r="5.0" fill="#950000" fill-opacity="0.85" stroke="#7a7a7a" stroke-width="0.8"/>
<circle cx="435.4" cy="243.0" r="5.0" fill="#970000" fill-opacity="0.85" stroke="#7a7a7a" stroke-width="0.8"/>
<circle cx="439.1" cy="242.7" r="5.0" fill="#8c0000" fill-opacity="0.85" stroke="#7a7a7a" stroke-width="0.8"/>
<circle cx="430.3" cy="256.5" r="5.0" fill="#a60000" fill-opacity="0.85" stroke="#7a7a7a" stroke-width="0.8"/>
<circle cx="436.2" cy="243.1" r="5.0" fill="#940000" fill-opacity="0.85" stroke="#7a7a7a" stroke-width="0.8"/>
<circle cx="429.8" cy="252.8" r="5.0" fill="#a70000" fill-opacity="0.85" stroke="#7a7a7a" stroke-width="0.8"/>
<circle cx="436.2" cy="237.4" r="5.0" fill="#940000" fill-opacity="0.85" stroke="#7a7a7a" stroke-width="0.8"/>
<circle cx="430.7" cy="260.5" r="5.0" fill="#a50000" fill-opacity="0.85" stroke="#7a7a7a" stroke-width="0.8"/>
<circle cx="430.1" cy="273.8" r="5.0" fill="#a60000" fill-opacity="0.85" stroke="#7a7a7a" stroke-width="0.8"/>
<circle cx="428.8" cy="275.3" r="5.0" fill="#aa0000" fill-opacity="0.85" stroke="#7a7a7a" stroke-width="0.8"/>
<circle cx="432.0" cy="256.1" r="5.0" fill="#a10000" fill-opacity="0.85" stroke="#7a7a7a" stroke-width="0.8"/>
<circle cx="432.0" cy="252.7" r="5.0" fill="#a10000" fill-opacity="0.85" stroke="#7a7a7a" stroke-width="0.8"/>
<circle cx="439.3" cy="237.7" r="5.0" fill="#8b0000" fill-opacity="0.85" stroke="#7a7a7a" stroke-width="0.8"/>
<circle cx="430.8" cy="246.3" r="5.0" fill="#a40000" fill-opacity="0.85" stroke="#7a7a7a" stroke-width="0.8"/>
<circle cx="433.7" cy="255.6" r="5.0" fill="#9c0000" fill-opacity="0.85" stroke="#7a7a7a" stroke-width="0.8"/>
<circle cx="431.2" cy="254.3" r="5.0" fill="#a30000" fill-opacity="0.85" stroke="#7a7a7a" stroke-width="0.8"/>
<circle cx="427.0" cy="263.7" r="5.0" fill="#b00000" fill-opacity="0.85" stroke="#7a7a7a" stroke-width="0.8"/>
<circle cx="438.0" cy="236.5" r="5.0" fill="#8f0000" fill-opacity="0.85" stroke="#7a7a7a" stroke-width="0.8"/>
<circle cx="434.1" cy="258.3" r="5.0" fill="#9b0000" fill-opacity="0.85" stroke="#7a7a7a" stroke-width="0.8"/>
<circle cx="434.8" cy="253.5" r="5.0" fill="#980000" fill-opacity="0.85" stroke="#7a7a7a" stroke-width="0.8"/>
<circle cx="433.4" cy="236.8" r="5.0" fill="#9d0000" fill-opacity="0.85" stroke="#7a7a7a" stroke-width="0.8"/>
<circle cx="428.2" cy="261.1" r="5.0" fill="#ac0000" fill-opacity="0.85" stroke="#7a7a7a" stroke-width="0.8"/>
<circle cx="433.7" cy="238.8" r="5.0" fill="#9c0000" fill-opacity="0.85" stroke="#7a7a7a" stroke-width="0.8"/>
<circle cx="431.7" cy="251.7" r="5.0" fill="#a20000" fill-opacity="0.85" stroke="#7a7a7a" stroke-width="0.8"/>
<circle cx="433.9" cy="259.7" r="5.0" fill="#9b0000" fill-opacity="0.85" stroke="#7a7a7a" stroke-width="0.8"/>
<circle cx="430.6" cy="251.4" r="5.0" fill="#a50000" fill-opacity="0.85" stroke="#7a7a7a" stroke-width="0.8"/>
<circle cx="443.0" cy="240.0" r="5.0" fill="#800000" fill-opacity="0.85" stroke="#7a7a7a" stroke-width="0.8"/>
<circle cx="441.0" cy="246.0" r="5.0" fill="#860000" fill-opacity="0.85" stroke="#7a7a7a" stroke-width="0.8"/>
<circle cx="440.0" cy="252.0" r="5.0" fill="#890000" fill-opacity="0.85" stroke="#7a7a7a" stroke-width="0.8"/>
<circle cx="438.0" cy="258.0" r="5.0" fill="#8f0000" fill-opacity="0.85" stroke="#7a7a7a" stroke-width="0.8"/>
<circle cx="436.0" cy="264.0" r="5.0" fill="#950000" fill-opacity="0.85" stroke="#7a7a7a" stroke-width="0.8"/>
<circle cx="435.0" cy="270.0" r="5.0" fill="#980000" fill-opacity="0.85" stroke="#7a7a7a" stroke-width="0.8"/>
<circle cx="433.0" cy="276.0" r="5.0" fill="#9e0000" fill-opacity="0.85" stroke="#7a7a7a" stroke-width="0.8"/>
<circle cx="432.0" cy="280.0" r="5.0" fill="#a10000" fill-opacity="0.85" stroke="#7a7a7a" stroke-width="0.8"/>
<circle cx="445.1" cy="233.7" r="5.0" fill="#800000" fill-opacity="0.85" stroke="#7a7a7a" stroke-width="0.8"/>
<line x1="270.30" y1="216.4" x2="270.30" y2="388.2" stroke="#c6c6c6" stroke-width="0.9"/>
<line x1="313.55" y1="216.4" x2="313.55" y2="388.2" stroke="#c6c6c6" stroke-width="0.9"/>
<line x1="356.80" y1="216.4" x2="356.80" y2="388.2" stroke="#c6c6c6" stroke-width="0.9"/>
<line x1="400.05" y1="216.4" x2="400.05" y2="388.2" stroke="#c6c6c6" stroke-width="0.9"/>
<line x1="443.30" y1="216.4" x2="443.30" y2="388.2" stroke="#c6c6c6" stroke-width="0.9"/>
<line x1="262.1" y1="374.30" x2="451.3" y2="374.30" stroke="#c6c6c6" stroke-width="0.9"/>
<line x1="262.1" y1="338.45" x2="451.3" y2="338.45" stroke="#c6c6c6" stroke-width="0.9"/>
<line x1="262.1" y1="302.60" x2="451.3" y2="302.60" stroke="#c6c6c6" stroke-width="0.9"/>
<line x1="262.1" y1="266.75" x2="451.3" y2="266.75" stroke="#c6c6c6" stroke-width="0.9"/>
<line x1="262.1" y1="230.90" x2="451.3" y2="230.90" stroke="#c6c6c6" stroke-width="0.9"/>
<rect x="262.1" y="216.4" width="189.2" height="171.79999999999998" fill="none" stroke="#333" stroke-width="1"/>
<line x1="270.30" y1="388.2" x2="270.30" y2="391.0" stroke="#333" stroke-width="0.9"/>
<text x="270.30" y="400.30" font-size="8.8" text-anchor="middle">-1.0</text>
<line x1="313.55" y1="388.2" x2="313.55" y2="391.0" stroke="#333" stroke-width="0.9"/>
<text x="313.55" y="400.30" font-size="8.8" text-anchor="middle">-0.5</text>
<line x1="356.80" y1="388.2" x2="356.80" y2="391.0" stroke="#333" stroke-width="0.9"/>
<text x="356.80" y="400.30" font-size="8.8" text-anchor="middle">0.0</text>
<line x1="400.05" y1="388.2" x2="400.05" y2="391.0" stroke="#333" stroke-width="0.9"/>
<text x="400.05" y="400.30" font-size="8.8" text-anchor="middle">0.5</text>
<line x1="443.30" y1="388.2" x2="443.30" y2="391.0" stroke="#333" stroke-width="0.9"/>
<text x="443.30" y="400.30" font-size="8.8" text-anchor="middle">1.0</text>
<line x1="259.3" y1="374.30" x2="262.1" y2="374.30" stroke="#333" stroke-width="0.9"/>
<text x="256.60" y="376.90" font-size="8.8" text-anchor="end">0.0</text>
<line x1="259.3" y1="338.45" x2="262.1" y2="338.45" stroke="#333" stroke-width="0.9"/>
<line x1="259.3" y1="302.60" x2="262.1" y2="302.60" stroke="#333" stroke-width="0.9"/>
<text x="256.60" y="305.20" font-size="8.8" text-anchor="end">0.5</text>
<line x1="259.3" y1="266.75" x2="262.1" y2="266.75" stroke="#333" stroke-width="0.9"/>
<line x1="259.3" y1="230.90" x2="262.1" y2="230.90" stroke="#333" stroke-width="0.9"/>
<text x="256.60" y="233.50" font-size="8.8" text-anchor="end">1.0</text>
<rect x="493.6" y="216.4" width="189.10000000000002" height="171.79999999999998" fill="white"/>
<circle cx="502.5" cy="240.1" r="5.0" fill="#000050" fill-opacity="0.85" stroke="#7a7a7a" stroke-width="0.8"/>
<circle cx="503.0" cy="252.8" r="5.0" fill="#000052" fill-opacity="0.85" stroke="#7a7a7a" stroke-width="0.8"/>
<circle cx="508.4" cy="280.2" r="5.0" fill="#000068" fill-opacity="0.85" stroke="#7a7a7a" stroke-width="0.8"/>
<circle cx="505.9" cy="291.9" r="5.0" fill="#00005e" fill-opacity="0.85" stroke="#7a7a7a" stroke-width="0.8"/>
<circle cx="507.9" cy="315.5" r="5.0" fill="#000066" fill-opacity="0.85" stroke="#7a7a7a" stroke-width="0.8"/>
<circle cx="510.4" cy="315.0" r="5.0" fill="#000070" fill-opacity="0.85" stroke="#7a7a7a" stroke-width="0.8"/>
<circle cx="517.5" cy="343.6" r="5.0" fill="#00008e" fill-opacity="0.85" stroke="#7a7a7a" stroke-width="0.8"/>
<circle cx="511.0" cy="362.6" r="5.0" fill="#000073" fill-opacity="0.85" stroke="#7a7a7a" stroke-width="0.8"/>
<circle cx="513.5" cy="357.4" r="5.0" fill="#00007d" fill-opacity="0.85" stroke="#7a7a7a" stroke-width="0.8"/>
<circle cx="511.4" cy="357.5" r="5.0" fill="#000075" fill-opacity="0.85" stroke="#7a7a7a" stroke-width="0.8"/>
<circle cx="516.0" cy="362.0" r="5.0" fill="#000087" fill-opacity="0.85" stroke="#7a7a7a" stroke-width="0.8"/>
<circle cx="518.7" cy="367.2" r="5.0" fill="#000092" fill-opacity="0.85" stroke="#7a7a7a" stroke-width="0.8"/>
<circle cx="516.3" cy="356.6" r="5.0" fill="#000089" fill-opacity="0.85" stroke="#7a7a7a" stroke-width="0.8"/>
<circle cx="512.7" cy="358.9" r="5.0" fill="#00007a" fill-opacity="0.85" stroke="#7a7a7a" stroke-width="0.8"/>
<circle cx="517.0" cy="371.0" r="5.0" fill="#00008c" fill-opacity="0.85" stroke="#7a7a7a" stroke-width="0.8"/>
<circle cx="517.6" cy="372.5" r="5.0" fill="#00008e" fill-opacity="0.85" stroke="#7a7a7a" stroke-width="0.8"/>
<circle cx="512.0" cy="371.8" r="5.0" fill="#000077" fill-opacity="0.85" stroke="#7a7a7a" stroke-width="0.8"/>
<circle cx="512.6" cy="347.4" r="5.0" fill="#000079" fill-opacity="0.85" stroke="#7a7a7a" stroke-width="0.8"/>
<circle cx="516.5" cy="358.1" r="5.0" fill="#00008a" fill-opacity="0.85" stroke="#7a7a7a" stroke-width="0.8"/>
<circle cx="515.1" cy="358.8" r="5.0" fill="#000084" fill-opacity="0.85" stroke="#7a7a7a" stroke-width="0.8"/>
<circle cx="511.6" cy="367.5" r="5.0" fill="#000075" fill-opacity="0.85" stroke="#7a7a7a" stroke-width="0.8"/>
<circle cx="511.4" cy="365.3" r="5.0" fill="#000074" fill-opacity="0.85" stroke="#7a7a7a" stroke-width="0.8"/>
<circle cx="516.8" cy="353.7" r="5.0" fill="#00008b" fill-opacity="0.85" stroke="#7a7a7a" stroke-width="0.8"/>
<circle cx="514.2" cy="365.4" r="5.0" fill="#000080" fill-opacity="0.85" stroke="#7a7a7a" stroke-width="0.8"/>
<circle cx="517.6" cy="355.0" r="5.0" fill="#00008e" fill-opacity="0.85" stroke="#7a7a7a" stroke-width="0.8"/>
<circle cx="511.2" cy="354.4" r="5.0" fill="#000074" fill-opacity="0.85" stroke="#7a7a7a" stroke-width="0.8"/>
<circle cx="511.2" cy="353.7" r="5.0" fill="#000074" fill-opacity="0.85" stroke="#7a7a7a" stroke-width="0.8"/>
<circle cx="512.0" cy="368.9" r="5.0" fill="#000077" fill-opacity="0.85" stroke="#7a7a7a" stroke-width="0.8"/>
<circle cx="512.7" cy="373.3" r="5.0" fill="#00007a" fill-opacity="0.85" stroke="#7a7a7a" stroke-width="0.8"/>
<circle cx="515.7" cy="355.3" r="5.0" fill="#000086" fill-opacity="0.85" stroke="#7a7a7a" stroke-width="0.8"/>
<circle cx="514.0" cy="355.3" r="5.0" fill="#00007f" fill-opacity="0.85" stroke="#7a7a7a" stroke-width="0.8"/>
<circle cx="514.1" cy="349.8" r="5.0" fill="#000080" fill-opacity="0.85" stroke="#7a7a7a" stroke-width="0.8"/>
<circle cx="512.8" cy="347.7" r="5.0" fill="#00007a" fill-opacity="0.85" stroke="#7a7a7a" stroke-width="0.8"/>
<circle cx="513.2" cy="371.6" r="5.0" fill="#00007c" fill-opacity="0.85" stroke="#7a7a7a" stroke-width="0.8"/>
<circle cx="516.4" cy="354.3" r="5.0" fill="#000089" fill-opacity="0.85" stroke="#7a7a7a" stroke-width="0.8"/>
<circle cx="513.4" cy="370.8" r="5.0" fill="#00007d" fill-opacity="0.85" stroke="#7a7a7a" stroke-width="0.8"/>
<circle cx="516.7" cy="357.2" r="5.0" fill="#00008a" fill-opacity="0.85" stroke="#7a7a7a" stroke-width="0.8"/>
<circle cx="515.9" cy="368.4" r="5.0" fill="#000087" fill-opacity="0.85" stroke="#7a7a7a" stroke-width="0.8"/>
<circle cx="512.4" cy="351.8" r="5.0" fill="#000079" fill-opacity="0.85" stroke="#7a7a7a" stroke-width="0.8"/>
<circle cx="516.7" cy="367.5" r="5.0" fill="#00008a" fill-opacity="0.85" stroke="#7a7a7a" stroke-width="0.8"/>
<circle cx="517.2" cy="371.2" r="5.0" fill="#00008d" fill-opacity="0.85" stroke="#7a7a7a" stroke-width="0.8"/>
<circle cx="512.1" cy="358.4" r="5.0" fill="#000077" fill-opacity="0.85" stroke="#7a7a7a" stroke-width="0.8"/>
<circle cx="516.6" cy="371.0" r="5.0" fill="#00008a" fill-opacity="0.85" stroke="#7a7a7a" stroke-width="0.8"/>
<circle cx="516.5" cy="362.6" r="5.0" fill="#000089" fill-opacity="0.85" stroke="#7a7a7a" stroke-width="0.8"/>
<circle cx="513.7" cy="357.4" r="5.0" fill="#00007e" fill-opacity="0.85" stroke="#7a7a7a" stroke-width="0.8"/>
<circle cx="505.8" cy="334.0" r="5.0" fill="#00005d" fill-opacity="0.85" stroke="#7a7a7a" stroke-width="0.8"/>
<circle cx="506.8" cy="337.2" r="5.0" fill="#000062" fill-opacity="0.85" stroke="#7a7a7a" stroke-width="0.8"/>
<circle cx="505.0" cy="345.0" r="5.0" fill="#00005a" fill-opacity="0.85" stroke="#7a7a7a" stroke-width="0.8"/>
<circle cx="505.8" cy="350.0" r="5.0" fill="#00005d" fill-opacity="0.85" stroke="#7a7a7a" stroke-width="0.8"/>
<circle cx="506.0" cy="358.0" r="5.0" fill="#00005e" fill-opacity="0.85" stroke="#7a7a7a" stroke-width="0.8"/>
<circle cx="505.8" cy="363.8" r="5.0" fill="#00005d" fill-opacity="0.85" stroke="#7a7a7a" stroke-width="0.8"/>
<circle cx="507.0" cy="370.0" r="5.0" fill="#000062" fill-opacity="0.85" stroke="#7a7a7a" stroke-width="0.8"/>
<circle cx="512.0" cy="376.0" r="5.0" fill="#000077" fill-opacity="0.85" stroke="#7a7a7a" stroke-width="0.8"/>
<circle cx="517.0" cy="376.0" r="5.0" fill="#00008c" fill-opacity="0.85" stroke="#7a7a7a" stroke-width="0.8"/>
<circle cx="563.3" cy="325.1" r="5.0" fill="#6c6cff" fill-opacity="0.85" stroke="#7a7a7a" stroke-width="0.8"/>
<circle cx="580.0" cy="328.9" r="5.0" fill="#cfcfff" fill-opacity="0.85" stroke="#7a7a7a" stroke-width="0.8"/>
<circle cx="581.5" cy="339.3" r="5.0" fill="#d7d7ff" fill-opacity="0.85" stroke="#7a7a7a" stroke-width="0.8"/>
<circle cx="567.3" cy="345.0" r="5.0" fill="#8484ff" fill-opacity="0.85" stroke="#7a7a7a" stroke-width="0.8"/>
<circle cx="556.0" cy="358.2" r="5.0" fill="#4141ff" fill-opacity="0.85" stroke="#7a7a7a" stroke-width="0.8"/>
<circle cx="558.2" cy="363.9" r="5.0" fill="#4e4eff" fill-opacity="0.85" stroke="#7a7a7a" stroke-width="0.8"/>
<circle cx="556.7" cy="369.5" r="5.0" fill="#4545ff" fill-opacity="0.85" stroke="#7a7a7a" stroke-width="0.8"/>
<circle cx="563.9" cy="360.7" r="5.0" fill="#7070ff" fill-opacity="0.85" stroke="#7a7a7a" stroke-width="0.8"/>
<circle cx="568.6" cy="355.4" r="5.0" fill="#8b8bff" fill-opacity="0.85" stroke="#7a7a7a" stroke-width="0.8"/>
<circle cx="573.4" cy="358.2" r="5.0" fill="#a8a8ff" fill-opacity="0.85" stroke="#7a7a7a" stroke-width="0.8"/>
<circle cx="576.8" cy="361.0" r="5.0" fill="#bcbcff" fill-opacity="0.85" stroke="#7a7a7a" stroke-width="0.8"/>
<circle cx="569.2" cy="370.5" r="5.0" fill="#8f8fff" fill-opacity="0.85" stroke="#7a7a7a" stroke-width="0.8"/>
<circle cx="578.6" cy="368.6" r="5.0" fill="#c6c6ff" fill-opacity="0.85" stroke="#7a7a7a" stroke-width="0.8"/>
<circle cx="585.6" cy="352.5" r="5.0" fill="#f0f0ff" fill-opacity="0.85" stroke="#7a7a7a" stroke-width="0.8"/>
<circle cx="590.4" cy="353.1" r="5.0" fill="#fff2f2" fill-opacity="0.85" stroke="#7a7a7a" stroke-width="0.8"/>
<circle cx="588.5" cy="367.7" r="5.0" fill="#fffdfd" fill-opacity="0.85" stroke="#7a7a7a" stroke-width="0.8"/>
<circle cx="594.1" cy="367.7" r="5.0" fill="#ffdcdc" fill-opacity="0.85" stroke="#7a7a7a" stroke-width="0.8"/>
<circle cx="597.0" cy="369.5" r="5.0" fill="#ffcbcb" fill-opacity="0.85" stroke="#7a7a7a" stroke-width="0.8"/>
<circle cx="599.3" cy="320.2" r="5.0" fill="#ffbebe" fill-opacity="0.85" stroke="#7a7a7a" stroke-width="0.8"/>
<circle cx="604.5" cy="358.2" r="5.0" fill="#ff9f9f" fill-opacity="0.85" stroke="#7a7a7a" stroke-width="0.8"/>
<circle cx="603.6" cy="364.8" r="5.0" fill="#ffa4a4" fill-opacity="0.85" stroke="#7a7a7a" stroke-width="0.8"/>
<circle cx="607.4" cy="370.5" r="5.0" fill="#ff8e8e" fill-opacity="0.85" stroke="#7a7a7a" stroke-width="0.8"/>
<circle cx="613.0" cy="347.8" r="5.0" fill="#ff6d6d" fill-opacity="0.85" stroke="#7a7a7a" stroke-width="0.8"/>
<circle cx="612.1" cy="357.3" r="5.0" fill="#ff7272" fill-opacity="0.85" stroke="#7a7a7a" stroke-width="0.8"/>
<circle cx="615.9" cy="362.0" r="5.0" fill="#ff5c5c" fill-opacity="0.85" stroke="#7a7a7a" stroke-width="0.8"/>
<circle cx="615.9" cy="372.4" r="5.0" fill="#ff5c5c" fill-opacity="0.85" stroke="#7a7a7a" stroke-width="0.8"/>
<circle cx="620.6" cy="358.2" r="5.0" fill="#ff4040" fill-opacity="0.85" stroke="#7a7a7a" stroke-width="0.8"/>
<circle cx="621.6" cy="365.8" r="5.0" fill="#ff3a3a" fill-opacity="0.85" stroke="#7a7a7a" stroke-width="0.8"/>
<circle cx="599.0" cy="362.0" r="5.0" fill="#ffbfbf" fill-opacity="0.85" stroke="#7a7a7a" stroke-width="0.8"/>
<circle cx="602.0" cy="366.0" r="5.0" fill="#ffaeae" fill-opacity="0.85" stroke="#7a7a7a" stroke-width="0.8"/>
<circle cx="606.0" cy="368.0" r="5.0" fill="#ff9696" fill-opacity="0.85" stroke="#7a7a7a" stroke-width="0.8"/>
<circle cx="609.0" cy="362.0" r="5.0" fill="#ff8484" fill-opacity="0.85" stroke="#7a7a7a" stroke-width="0.8"/>
<circle cx="611.0" cy="367.0" r="5.0" fill="#ff7979" fill-opacity="0.85" stroke="#7a7a7a" stroke-width="0.8"/>
<circle cx="601.0" cy="358.0" r="5.0" fill="#ffb4b4" fill-opacity="0.85" stroke="#7a7a7a" stroke-width="0.8"/>
<circle cx="604.0" cy="370.0" r="5.0" fill="#ffa2a2" fill-opacity="0.85" stroke="#7a7a7a" stroke-width="0.8"/>
<circle cx="665.5" cy="225.0" r="5.0" fill="#9b0000" fill-opacity="0.85" stroke="#7a7a7a" stroke-width="0.8"/>
<circle cx="667.1" cy="270.6" r="5.0" fill="#960000" fill-opacity="0.85" stroke="#7a7a7a" stroke-width="0.8"/>
<circle cx="675.1" cy="289.9" r="5.0" fill="#800000" fill-opacity="0.85" stroke="#7a7a7a" stroke-width="0.8"/>
<circle cx="663.7" cy="293.3" r="5.0" fill="#a00000" fill-opacity="0.85" stroke="#7a7a7a" stroke-width="0.8"/>
<circle cx="665.1" cy="297.9" r="5.0" fill="#9c0000" fill-opacity="0.85" stroke="#7a7a7a" stroke-width="0.8"/>
<circle cx="663.2" cy="292.8" r="5.0" fill="#a10000" fill-opacity="0.85" stroke="#7a7a7a" stroke-width="0.8"/>
<circle cx="673.8" cy="291.2" r="5.0" fill="#820000" fill-opacity="0.85" stroke="#7a7a7a" stroke-width="0.8"/>
<circle cx="664.4" cy="312.5" r="5.0" fill="#9e0000" fill-opacity="0.85" stroke="#7a7a7a" stroke-width="0.8"/>
<circle cx="672.7" cy="313.2" r="5.0" fill="#850000" fill-opacity="0.85" stroke="#7a7a7a" stroke-width="0.8"/>
<circle cx="664.4" cy="325.0" r="5.0" fill="#9e0000" fill-opacity="0.85" stroke="#7a7a7a" stroke-width="0.8"/>
<circle cx="673.8" cy="320.8" r="5.0" fill="#820000" fill-opacity="0.85" stroke="#7a7a7a" stroke-width="0.8"/>
<circle cx="671.5" cy="335.0" r="5.0" fill="#890000" fill-opacity="0.85" stroke="#7a7a7a" stroke-width="0.8"/>
<circle cx="663.2" cy="339.8" r="5.0" fill="#a10000" fill-opacity="0.85" stroke="#7a7a7a" stroke-width="0.8"/>
<circle cx="663.4" cy="363.7" r="5.0" fill="#a10000" fill-opacity="0.85" stroke="#7a7a7a" stroke-width="0.8"/>
<circle cx="666.6" cy="367.6" r="5.0" fill="#980000" fill-opacity="0.85" stroke="#7a7a7a" stroke-width="0.8"/>
<circle cx="662.7" cy="371.6" r="5.0" fill="#a30000" fill-opacity="0.85" stroke="#7a7a7a" stroke-width="0.8"/>
<circle cx="666.5" cy="357.8" r="5.0" fill="#980000" fill-opacity="0.85" stroke="#7a7a7a" stroke-width="0.8"/>
<circle cx="665.6" cy="358.4" r="5.0" fill="#9a0000" fill-opacity="0.85" stroke="#7a7a7a" stroke-width="0.8"/>
<circle cx="663.2" cy="349.7" r="5.0" fill="#a20000" fill-opacity="0.85" stroke="#7a7a7a" stroke-width="0.8"/>
<circle cx="665.7" cy="362.0" r="5.0" fill="#9a0000" fill-opacity="0.85" stroke="#7a7a7a" stroke-width="0.8"/>
<circle cx="661.1" cy="372.5" r="5.0" fill="#a80000" fill-opacity="0.85" stroke="#7a7a7a" stroke-width="0.8"/>
<circle cx="664.4" cy="364.9" r="5.0" fill="#9e0000" fill-opacity="0.85" stroke="#7a7a7a" stroke-width="0.8"/>
<circle cx="665.8" cy="351.4" r="5.0" fill="#9a0000" fill-opacity="0.85" stroke="#7a7a7a" stroke-width="0.8"/>
<circle cx="666.7" cy="363.1" r="5.0" fill="#970000" fill-opacity="0.85" stroke="#7a7a7a" stroke-width="0.8"/>
<circle cx="663.7" cy="352.4" r="5.0" fill="#a00000" fill-opacity="0.85" stroke="#7a7a7a" stroke-width="0.8"/>
<circle cx="664.5" cy="356.4" r="5.0" fill="#9e0000" fill-opacity="0.85" stroke="#7a7a7a" stroke-width="0.8"/>
<circle cx="663.6" cy="364.6" r="5.0" fill="#a00000" fill-opacity="0.85" stroke="#7a7a7a" stroke-width="0.8"/>
<circle cx="663.5" cy="356.4" r="5.0" fill="#a00000" fill-opacity="0.85" stroke="#7a7a7a" stroke-width="0.8"/>
<circle cx="666.2" cy="357.8" r="5.0" fill="#980000" fill-opacity="0.85" stroke="#7a7a7a" stroke-width="0.8"/>
<circle cx="663.3" cy="360.4" r="5.0" fill="#a10000" fill-opacity="0.85" stroke="#7a7a7a" stroke-width="0.8"/>
<circle cx="661.8" cy="354.5" r="5.0" fill="#a60000" fill-opacity="0.85" stroke="#7a7a7a" stroke-width="0.8"/>
<circle cx="662.2" cy="374.7" r="5.0" fill="#a40000" fill-opacity="0.85" stroke="#7a7a7a" stroke-width="0.8"/>
<circle cx="664.2" cy="372.2" r="5.0" fill="#9f0000" fill-opacity="0.85" stroke="#7a7a7a" stroke-width="0.8"/>
<circle cx="661.1" cy="375.4" r="5.0" fill="#a70000" fill-opacity="0.85" stroke="#7a7a7a" stroke-width="0.8"/>
<circle cx="665.4" cy="374.3" r="5.0" fill="#9b0000" fill-opacity="0.85" stroke="#7a7a7a" stroke-width="0.8"/>
<circle cx="665.0" cy="363.5" r="5.0" fill="#9c0000" fill-opacity="0.85" stroke="#7a7a7a" stroke-width="0.8"/>
<circle cx="663.1" cy="368.0" r="5.0" fill="#a20000" fill-opacity="0.85" stroke="#7a7a7a" stroke-width="0.8"/>
<circle cx="661.6" cy="365.4" r="5.0" fill="#a60000" fill-opacity="0.85" stroke="#7a7a7a" stroke-width="0.8"/>
<circle cx="664.7" cy="347.6" r="5.0" fill="#9d0000" fill-opacity="0.85" stroke="#7a7a7a" stroke-width="0.8"/>
<circle cx="666.3" cy="360.8" r="5.0" fill="#980000" fill-opacity="0.85" stroke="#7a7a7a" stroke-width="0.8"/>
<circle cx="665.7" cy="354.7" r="5.0" fill="#9a0000" fill-opacity="0.85" stroke="#7a7a7a" stroke-width="0.8"/>
<circle cx="666.3" cy="375.6" r="5.0" fill="#980000" fill-opacity="0.85" stroke="#7a7a7a" stroke-width="0.8"/>
<circle cx="661.1" cy="375.0" r="5.0" fill="#a80000" fill-opacity="0.85" stroke="#7a7a7a" stroke-width="0.8"/>
<circle cx="661.6" cy="351.8" r="5.0" fill="#a60000" fill-opacity="0.85" stroke="#7a7a7a" stroke-width="0.8"/>
<circle cx="660.8" cy="357.5" r="5.0" fill="#a80000" fill-opacity="0.85" stroke="#7a7a7a" stroke-width="0.8"/>
<circle cx="660.1" cy="351.4" r="5.0" fill="#aa0000" fill-opacity="0.85" stroke="#7a7a7a" stroke-width="0.8"/>
<circle cx="662.5" cy="374.1" r="5.0" fill="#a30000" fill-opacity="0.85" stroke="#7a7a7a" stroke-width="0.8"/>
<circle cx="663.2" cy="365.2" r="5.0" fill="#a10000" fill-opacity="0.85" stroke="#7a7a7a" stroke-width="0.8"/>
<circle cx="665.6" cy="368.5" r="5.0" fill="#9a0000" fill-opacity="0.85" stroke="#7a7a7a" stroke-width="0.8"/>
<circle cx="663.7" cy="358.1" r="5.0" fill="#a00000" fill-opacity="0.85" stroke="#7a7a7a" stroke-width="0.8"/>
<circle cx="662.0" cy="349.8" r="5.0" fill="#a50000" fill-opacity="0.85" stroke="#7a7a7a" stroke-width="0.8"/>
<circle cx="672.0" cy="345.0" r="5.0" fill="#870000" fill-opacity="0.85" stroke="#7a7a7a" stroke-width="0.8"/>
<circle cx="673.0" cy="352.0" r="5.0" fill="#850000" fill-opacity="0.85" stroke="#7a7a7a" stroke-width="0.8"/>
<circle cx="671.0" cy="360.0" r="5.0" fill="#8a0000" fill-opacity="0.85" stroke="#7a7a7a" stroke-width="0.8"/>
<circle cx="670.0" cy="368.0" r="5.0" fill="#8d0000" fill-opacity="0.85" stroke="#7a7a7a" stroke-width="0.8"/>
<circle cx="669.0" cy="374.0" r="5.0" fill="#900000" fill-opacity="0.85" stroke="#7a7a7a" stroke-width="0.8"/>
<circle cx="665.0" cy="378.0" r="5.0" fill="#9c0000" fill-opacity="0.85" stroke="#7a7a7a" stroke-width="0.8"/>
<line x1="501.10" y1="216.4" x2="501.10" y2="388.2" stroke="#c6c6c6" stroke-width="0.9"/>
<line x1="544.48" y1="216.4" x2="544.48" y2="388.2" stroke="#c6c6c6" stroke-width="0.9"/>
<line x1="587.85" y1="216.4" x2="587.85" y2="388.2" stroke="#c6c6c6" stroke-width="0.9"/>
<line x1="631.23" y1="216.4" x2="631.23" y2="388.2" stroke="#c6c6c6" stroke-width="0.9"/>
<line x1="674.60" y1="216.4" x2="674.60" y2="388.2" stroke="#c6c6c6" stroke-width="0.9"/>
<line x1="493.6" y1="380.50" x2="682.7" y2="380.50" stroke="#c6c6c6" stroke-width="0.9"/>
<line x1="493.6" y1="341.40" x2="682.7" y2="341.40" stroke="#c6c6c6" stroke-width="0.9"/>
<line x1="493.6" y1="302.30" x2="682.7" y2="302.30" stroke="#c6c6c6" stroke-width="0.9"/>
<line x1="493.6" y1="263.20" x2="682.7" y2="263.20" stroke="#c6c6c6" stroke-width="0.9"/>
<line x1="493.6" y1="224.10" x2="682.7" y2="224.10" stroke="#c6c6c6" stroke-width="0.9"/>
<rect x="493.6" y="216.4" width="189.10000000000002" height="171.79999999999998" fill="none" stroke="#333" stroke-width="1"/>
<line x1="501.10" y1="388.2" x2="501.10" y2="391.0" stroke="#333" stroke-width="0.9"/>
<text x="501.10" y="400.30" font-size="8.8" text-anchor="middle">-1.0</text>
<line x1="544.48" y1="388.2" x2="544.48" y2="391.0" stroke="#333" stroke-width="0.9"/>
<text x="544.48" y="400.30" font-size="8.8" text-anchor="middle">-0.5</text>
<line x1="587.85" y1="388.2" x2="587.85" y2="391.0" stroke="#333" stroke-width="0.9"/>
<text x="587.85" y="400.30" font-size="8.8" text-anchor="middle">0.0</text>
<line x1="631.23" y1="388.2" x2="631.23" y2="391.0" stroke="#333" stroke-width="0.9"/>
<text x="631.23" y="400.30" font-size="8.8" text-anchor="middle">0.5</text>
<line x1="674.60" y1="388.2" x2="674.60" y2="391.0" stroke="#333" stroke-width="0.9"/>
<text x="674.60" y="400.30" font-size="8.8" text-anchor="middle">1.0</text>
<line x1="490.8" y1="380.50" x2="493.6" y2="380.50" stroke="#333" stroke-width="0.9"/>
<text x="488.10" y="383.10" font-size="8.8" text-anchor="end">0.0</text>
<line x1="490.8" y1="341.40" x2="493.6" y2="341.40" stroke="#333" stroke-width="0.9"/>
<line x1="490.8" y1="302.30" x2="493.6" y2="302.30" stroke="#333" stroke-width="0.9"/>
<text x="488.10" y="304.90" font-size="8.8" text-anchor="end">1.0</text>
<line x1="490.8" y1="263.20" x2="493.6" y2="263.20" stroke="#333" stroke-width="0.9"/>
<line x1="490.8" y1="224.10" x2="493.6" y2="224.10" stroke="#333" stroke-width="0.9"/>
<text x="488.10" y="226.70" font-size="8.8" text-anchor="end">2.0</text>
<line x1="44.8" y1="342.9" x2="42" y2="312" stroke="#000" stroke-width="0.9"/>
<text x="33.2" y="353.2" font-size="8.1" font-style="italic" text-anchor="start">ARNTL</text>
<line x1="138.4" y1="270.7" x2="140.1" y2="271.8" stroke="#000" stroke-width="0.9"/>
<text x="137.5" y="281.7" font-size="8.1" font-style="italic" text-anchor="start">RORC</text>
<line x1="210.6" y1="251.5" x2="210.6" y2="225.7" stroke="#000" stroke-width="0.9"/>
<text x="203.8" y="261" font-size="8.1" font-style="italic" text-anchor="start">TEF</text>
<line x1="209.4" y1="368.7" x2="211.2" y2="379.4" stroke="#000" stroke-width="0.9"/>
<text x="197.7" y="364.3" font-size="8.1" font-style="italic" text-anchor="start">PER3</text>
<line x1="274" y1="231" x2="272.5" y2="236" stroke="#000" stroke-width="0.9"/>
<text x="273.1" y="226.6" font-size="8.1" font-style="italic" text-anchor="start">ARNTL</text>
<line x1="370" y1="229" x2="367.8" y2="233" stroke="#000" stroke-width="0.9"/>
<text x="367.5" y="227.3" font-size="8.1" font-style="italic" text-anchor="start">RORC</text>
<line x1="430.1" y1="231.9" x2="439.9" y2="235.5" stroke="#000" stroke-width="0.9"/>
<text x="412.2" y="230.6" font-size="8.1" font-style="italic" text-anchor="start">TEF</text>
<line x1="439" y1="231.6" x2="442.7" y2="232.7" stroke="#000" stroke-width="0.9"/>
<text x="428.3" y="227.4" font-size="8.1" font-style="italic" text-anchor="start">PER3</text>
<line x1="505" y1="252" x2="510.9" y2="248.3" stroke="#000" stroke-width="0.9"/>
<text x="509.2" y="244.4" font-size="8.1" font-style="italic" text-anchor="start">ARNTL</text>
<line x1="600.3" y1="320.5" x2="605.7" y2="314.1" stroke="#000" stroke-width="0.9"/>
<text x="599.3" y="309.6" font-size="8.1" font-style="italic" text-anchor="start">RORC</text>
<line x1="669.1" y1="288.3" x2="673.1" y2="290.3" stroke="#000" stroke-width="0.9"/>
<text x="644.4" y="287.9" font-size="8.1" font-style="italic" text-anchor="start">PER3</text>
<line x1="661.3" y1="319.6" x2="670.3" y2="320.8" stroke="#000" stroke-width="0.9"/>
<text x="643" y="319.1" font-size="8.1" font-style="italic" text-anchor="start">TEF</text>
<text x="353.4" y="414.3" font-size="9.8" text-anchor="middle">r<tspan font-size="6.6" dy="2">S</tspan><tspan dy="-2"> to </tspan><tspan font-style="italic">PER3</tspan></text>
<text transform="translate(11,302.3) rotate(-90)" font-size="9.6" text-anchor="middle">Δφ to <tspan font-style="italic">PER3</tspan></text>
<text transform="translate(238.9,307.9) rotate(-90)" font-size="10" font-style="italic">R</text>
<text transform="translate(235.2,300.9) rotate(-90)" font-size="7">2</text>
<text transform="translate(469.9,369.4) rotate(-90)" font-size="10.2" textLength="134.4" lengthAdjust="spacingAndGlyphs">Gene expression amplitude</text>
<defs><marker id="m0" markerUnits="userSpaceOnUse" markerWidth="8.0" markerHeight="8.0" refX="4.0" refY="4.0" overflow="visible"><circle cx="4.0" cy="4.0" r="3.0" fill="#9e0000" fill-opacity="0.85" stroke="#700000" stroke-width="0.8"/></marker><marker id="m1" markerUnits="userSpaceOnUse" markerWidth="8.0" markerHeight="8.0" refX="4.0" refY="4.0" overflow="visible"><circle cx="4.0" cy="4.0" r="3.0" fill="#000094" fill-opacity="0.85" stroke="#000068" stroke-width="0.8"/></marker><marker id="m2" markerUnits="userSpaceOnUse" markerWidth="8.6" markerHeight="8.6" refX="4.3" refY="4.3" overflow="visible"><circle cx="4.3" cy="4.3" r="3.3" fill="#3333ff" fill-opacity="0.4" stroke="#3333ff" stroke-width="0.6"/></marker><marker id="m3" markerUnits="userSpaceOnUse" markerWidth="8.6" markerHeight="8.6" refX="4.3" refY="4.3" overflow="visible"><circle cx="4.3" cy="4.3" r="3.3" fill="#ff6666" fill-opacity="0.4" stroke="#ff6666" stroke-width="0.6"/></marker><marker id="m4" markerUnits="userSpaceOnUse" markerWidth="8.6" markerHeight="8.6" refX="4.3" refY="4.3" overflow="visible"><circle cx="4.3" cy="4.3" r="3.3" fill="#8080ff" fill-opacity="0.4" stroke="#8080ff" stroke-width="0.6"/></marker><marker id="m5" markerUnits="userSpaceOnUse" markerWidth="8.6" markerHeight="8.6" refX="4.3" refY="4.3" overflow="visible"><circle cx="4.3" cy="4.3" r="3.3" fill="#ffc2c2" fill-opacity="0.4" stroke="#ffc2c2" stroke-width="0.6"/></marker><marker id="m6" markerUnits="userSpaceOnUse" markerWidth="8.6" markerHeight="8.6" refX="4.3" refY="4.3" overflow="visible"><circle cx="4.3" cy="4.3" r="3.3" fill="#4d4dff" fill-opacity="0.4" stroke="#4d4dff" stroke-width="0.6"/></marker><marker id="m7" markerUnits="userSpaceOnUse" markerWidth="8.6" markerHeight="8.6" refX="4.3" refY="4.3" overflow="visible"><circle cx="4.3" cy="4.3" r="3.3" fill="#ff3d3d" fill-opacity="0.4" stroke="#ff3d3d" stroke-width="0.6"/></marker><marker id="m8" markerUnits="userSpaceOnUse" markerWidth="8.6" markerHeight="8.6" refX="4.3" refY="4.3" overflow="visible"><circle cx="4.3" cy="4.3" r="3.3" fill="#6666ff" fill-opacity="0.4" stroke="#6666ff" stroke-width="0.6"/></marker><marker id="m9" markerUnits="userSpaceOnUse" markerWidth="8.6" markerHeight="8.6" refX="4.3" refY="4.3" overflow="visible"><circle cx="4.3" cy="4.3" r="3.3" fill="#ff9999" fill-opacity="0.4" stroke="#ff9999" stroke-width="0.6"/></marker><marker id="m10" markerUnits="userSpaceOnUse" markerWidth="8.6" markerHeight="8.6" refX="4.3" refY="4.3" overflow="visible"><circle cx="4.3" cy="4.3" r="3.3" fill="#9999ff" fill-opacity="0.4" stroke="#9999ff" stroke-width="0.6"/></marker><marker id="m11" markerUnits="userSpaceOnUse" markerWidth="8.6" markerHeight="8.6" refX="4.3" refY="4.3" overflow="visible"><circle cx="4.3" cy="4.3" r="3.3" fill="#ffe5e5" fill-opacity="0.4" stroke="#ffe5e5" stroke-width="0.6"/></marker><marker id="m12" markerUnits="userSpaceOnUse" markerWidth="8.6" markerHeight="8.6" refX="4.3" refY="4.3" overflow="visible"><circle cx="4.3" cy="4.3" r="3.3" fill="#adadff" fill-opacity="0.4" stroke="#adadff" stroke-width="0.6"/></marker><marker id="m13" markerUnits="userSpaceOnUse" markerWidth="8.6" markerHeight="8.6" refX="4.3" refY="4.3" overflow="visible"><circle cx="4.3" cy="4.3" r="3.3" fill="#ffcccc" fill-opacity="0.4" stroke="#ffcccc" stroke-width="0.6"/></marker><marker id="m14" markerUnits="userSpaceOnUse" markerWidth="8.6" markerHeight="8.6" refX="4.3" refY="4.3" overflow="visible"><circle cx="4.3" cy="4.3" r="3.3" fill="#c2c2ff" fill-opacity="0.4" stroke="#c2c2ff" stroke-width="0.6"/></marker><marker id="m15" markerUnits="userSpaceOnUse" markerWidth="8.6" markerHeight="8.6" refX="4.3" refY="4.3" overflow="visible"><circle cx="4.3" cy="4.3" r="3.3" fill="#ff8f8f" fill-opacity="0.4" stroke="#ff8f8f" stroke-width="0.6"/></marker><marker id="m16" markerUnits="userSpaceOnUse" markerWidth="8.6" markerHeight="8.6" refX="4.3" refY="4.3" overflow="visible"><circle cx="4.3" cy="4.3" r="3.3" fill="#d6d6ff" fill-opacity="0.4" stroke="#d6d6ff" stroke-width="0.6"/></marker><marker id="m17" markerUnits="userSpaceOnUse" markerWidth="8.6" markerHeight="8.6" refX="4.3" refY="4.3" overflow="visible"><circle cx="4.3" cy="4.3" r="3.3" fill="#ff7a7a" fill-opacity="0.4" stroke="#ff7a7a" stroke-width="0.6"/></marker><marker id="m18" markerUnits="userSpaceOnUse" markerWidth="8.6" markerHeight="8.6" refX="4.3" refY="4.3" overflow="visible"><circle cx="4.3" cy="4.3" r="3.3" fill="#ff5252" fill-opacity="0.4" stroke="#ff5252" stroke-width="0.6"/></marker><marker id="m19" markerUnits="userSpaceOnUse" markerWidth="8.6" markerHeight="8.6" refX="4.3" refY="4.3" overflow="visible"><circle cx="4.3" cy="4.3" r="3.3" fill="#e5e5ff" fill-opacity="0.4" stroke="#e5e5ff" stroke-width="0.6"/></marker><marker id="m20" markerUnits="userSpaceOnUse" markerWidth="8.6" markerHeight="8.6" refX="4.3" refY="4.3" overflow="visible"><circle cx="4.3" cy="4.3" r="3.3" fill="#ffa3a3" fill-opacity="0.4" stroke="#ffa3a3" stroke-width="0.6"/></marker><marker id="m21" markerUnits="userSpaceOnUse" markerWidth="8.6" markerHeight="8.6" refX="4.3" refY="4.3" overflow="visible"><circle cx="4.3" cy="4.3" r="3.3" fill="#ff2929" fill-opacity="0.4" stroke="#ff2929" stroke-width="0.6"/></marker><marker id="m22" markerUnits="userSpaceOnUse" markerWidth="8.6" markerHeight="8.6" refX="4.3" refY="4.3" overflow="visible"><circle cx="4.3" cy="4.3" r="3.3" fill="#ffb8b8" fill-opacity="0.4" stroke="#ffb8b8" stroke-width="0.6"/></marker><marker id="m23" markerUnits="userSpaceOnUse" markerWidth="8.6" markerHeight="8.6" refX="4.3" refY="4.3" overflow="visible"><circle cx="4.3" cy="4.3" r="3.3" fill="#8f8fff" fill-opacity="0.4" stroke="#8f8fff" stroke-width="0.6"/></marker><marker id="m24" markerUnits="userSpaceOnUse" markerWidth="8.6" markerHeight="8.6" refX="4.3" refY="4.3" overflow="visible"><circle cx="4.3" cy="4.3" r="3.3" fill="#fff0f0" fill-opacity="0.4" stroke="#fff0f0" stroke-width="0.6"/></marker><marker id="m25" markerUnits="userSpaceOnUse" markerWidth="8.6" markerHeight="8.6" refX="4.3" refY="4.3" overflow="visible"><circle cx="4.3" cy="4.3" r="3.3" fill="#ffd6d6" fill-opacity="0.4" stroke="#ffd6d6" stroke-width="0.6"/></marker><marker id="m26" markerUnits="userSpaceOnUse" markerWidth="8.6" markerHeight="8.6" refX="4.3" refY="4.3" overflow="visible"><circle cx="4.3" cy="4.3" r="3.3" fill="#ffadad" fill-opacity="0.4" stroke="#ffadad" stroke-width="0.6"/></marker></defs>
</svg></body></html>
